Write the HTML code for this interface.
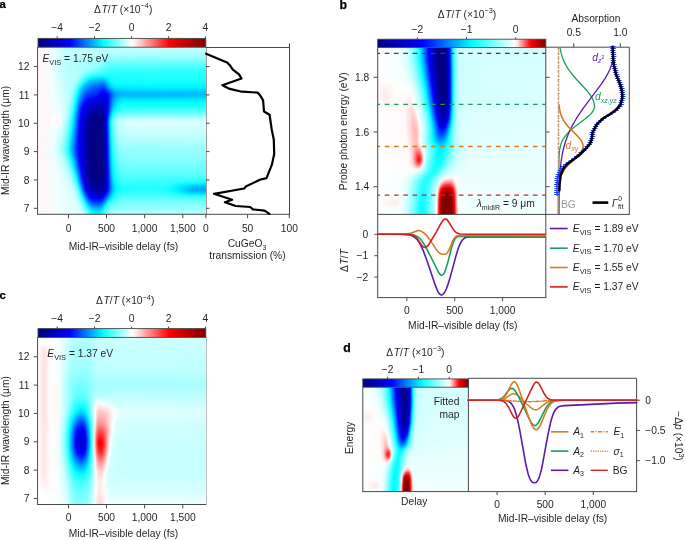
<!DOCTYPE html>
<html><head><meta charset="utf-8"><style>
html,body{margin:0;padding:0;background:#fff;overflow:hidden;}
svg{display:block;will-change:transform;}
text{font-family:"Liberation Sans",sans-serif;}
</style></head><body>
<svg width="685" height="540" viewBox="0 0 685 540">
<defs>
<linearGradient id="ha0" gradientUnits="userSpaceOnUse" x1="38" x2="206"><stop offset="0" stop-color="#fff9f9"/><stop offset=".03" stop-color="#fff6f6"/><stop offset=".077" stop-color="#f5ffff"/><stop offset=".161" stop-color="#c0ffff"/><stop offset="1" stop-color="#bfffff"/></linearGradient>
<linearGradient id="ha1" gradientUnits="userSpaceOnUse" x1="38" x2="206"><stop offset="0" stop-color="#fff9f9"/><stop offset=".03" stop-color="#fff6f6"/><stop offset=".077" stop-color="#f4ffff"/><stop offset=".161" stop-color="#c0ffff"/><stop offset="1" stop-color="#bcffff"/></linearGradient>
<linearGradient id="ha2" gradientUnits="userSpaceOnUse" x1="38" x2="206"><stop offset="0" stop-color="#fff9f9"/><stop offset=".03" stop-color="#fff6f6"/><stop offset=".077" stop-color="#f4ffff"/><stop offset=".161" stop-color="#bfffff"/><stop offset="1" stop-color="#b6ffff"/></linearGradient>
<linearGradient id="ha3" gradientUnits="userSpaceOnUse" x1="38" x2="206"><stop offset="0" stop-color="#fff9f9"/><stop offset=".03" stop-color="#fff6f6"/><stop offset=".077" stop-color="#f4ffff"/><stop offset=".161" stop-color="#beffff"/><stop offset=".589" stop-color="#aeffff"/><stop offset="1" stop-color="#aeffff"/></linearGradient>
<linearGradient id="ha4" gradientUnits="userSpaceOnUse" x1="38" x2="206"><stop offset="0" stop-color="#fff9f9"/><stop offset=".03" stop-color="#fff6f6"/><stop offset=".077" stop-color="#f4ffff"/><stop offset=".161" stop-color="#bdffff"/><stop offset=".357" stop-color="#acffff"/><stop offset=".458" stop-color="#98ffff"/><stop offset="1" stop-color="#98ffff"/></linearGradient>
<linearGradient id="ha5" gradientUnits="userSpaceOnUse" x1="38" x2="206"><stop offset="0" stop-color="#fff9f9"/><stop offset=".03" stop-color="#fff6f6"/><stop offset=".077" stop-color="#f4ffff"/><stop offset=".155" stop-color="#bdffff"/><stop offset=".345" stop-color="#a9ffff"/><stop offset=".435" stop-color="#7effff"/><stop offset="1" stop-color="#7dffff"/></linearGradient>
<linearGradient id="ha6" gradientUnits="userSpaceOnUse" x1="38" x2="206"><stop offset="0" stop-color="#fff9f9"/><stop offset=".03" stop-color="#fff6f6"/><stop offset=".077" stop-color="#f4ffff"/><stop offset=".155" stop-color="#bcffff"/><stop offset=".292" stop-color="#acffff"/><stop offset=".363" stop-color="#99ffff"/><stop offset=".423" stop-color="#67ffff"/><stop offset="1" stop-color="#64ffff"/></linearGradient>
<linearGradient id="ha7" gradientUnits="userSpaceOnUse" x1="38" x2="206"><stop offset="0" stop-color="#fff9f9"/><stop offset=".03" stop-color="#fff6f6"/><stop offset=".077" stop-color="#f3ffff"/><stop offset=".155" stop-color="#bbffff"/><stop offset=".28" stop-color="#acffff"/><stop offset=".363" stop-color="#8cffff"/><stop offset=".423" stop-color="#50ffff"/><stop offset="1" stop-color="#4cffff"/></linearGradient>
<linearGradient id="ha8" gradientUnits="userSpaceOnUse" x1="38" x2="206"><stop offset="0" stop-color="#fff9f9"/><stop offset=".03" stop-color="#fff6f6"/><stop offset=".077" stop-color="#f3ffff"/><stop offset=".155" stop-color="#bbffff"/><stop offset=".268" stop-color="#acffff"/><stop offset=".339" stop-color="#80ffff"/><stop offset=".393" stop-color="#54ffff"/><stop offset=".44" stop-color="#36ffff"/><stop offset="1" stop-color="#36ffff"/></linearGradient>
<linearGradient id="ha9" gradientUnits="userSpaceOnUse" x1="38" x2="206"><stop offset="0" stop-color="#fff9f9"/><stop offset=".03" stop-color="#fff6f6"/><stop offset=".077" stop-color="#f4ffff"/><stop offset=".155" stop-color="#bcffff"/><stop offset=".25" stop-color="#b0ffff"/><stop offset=".327" stop-color="#60ffff"/><stop offset=".423" stop-color="#2dffff"/><stop offset="1" stop-color="#2cffff"/></linearGradient>
<linearGradient id="ha10" gradientUnits="userSpaceOnUse" x1="38" x2="206"><stop offset="0" stop-color="#fff9f9"/><stop offset=".03" stop-color="#fff6f6"/><stop offset=".077" stop-color="#f4ffff"/><stop offset=".161" stop-color="#bdffff"/><stop offset=".238" stop-color="#b2ffff"/><stop offset=".268" stop-color="#8cffff"/><stop offset=".315" stop-color="#31ffff"/><stop offset=".381" stop-color="#11ffff"/><stop offset=".47" stop-color="#27ffff"/><stop offset="1" stop-color="#27ffff"/></linearGradient>
<linearGradient id="ha11" gradientUnits="userSpaceOnUse" x1="38" x2="206"><stop offset="0" stop-color="#fff9f9"/><stop offset=".03" stop-color="#fff6f6"/><stop offset=".077" stop-color="#f4ffff"/><stop offset=".161" stop-color="#bfffff"/><stop offset=".226" stop-color="#b5ffff"/><stop offset=".25" stop-color="#94ffff"/><stop offset=".298" stop-color="#0fffff"/><stop offset=".31" stop-color="#00f8ff"/><stop offset=".345" stop-color="#00e0ff"/><stop offset=".387" stop-color="#00d9ff"/><stop offset=".417" stop-color="#04ffff"/><stop offset=".446" stop-color="#1effff"/><stop offset="1" stop-color="#22ffff"/></linearGradient>
<linearGradient id="ha12" gradientUnits="userSpaceOnUse" x1="38" x2="206"><stop offset="0" stop-color="#fff9f9"/><stop offset=".03" stop-color="#fff6f6"/><stop offset=".077" stop-color="#f5ffff"/><stop offset=".161" stop-color="#c2ffff"/><stop offset=".214" stop-color="#b8ffff"/><stop offset=".238" stop-color="#93ffff"/><stop offset=".28" stop-color="#00feff"/><stop offset=".31" stop-color="#00c0ff"/><stop offset=".375" stop-color="#009cff"/><stop offset=".393" stop-color="#00a7ff"/><stop offset=".429" stop-color="#00faff"/><stop offset=".464" stop-color="#15ffff"/><stop offset="1" stop-color="#16ffff"/></linearGradient>
<linearGradient id="ha13" gradientUnits="userSpaceOnUse" x1="38" x2="206"><stop offset="0" stop-color="#fff9f9"/><stop offset=".03" stop-color="#fff6f6"/><stop offset=".083" stop-color="#f2ffff"/><stop offset=".161" stop-color="#c4ffff"/><stop offset=".208" stop-color="#b7ffff"/><stop offset=".226" stop-color="#97ffff"/><stop offset=".25" stop-color="#3bffff"/><stop offset=".262" stop-color="#05ffff"/><stop offset=".292" stop-color="#00acff"/><stop offset=".321" stop-color="#008bff"/><stop offset=".387" stop-color="#006bff"/><stop offset=".405" stop-color="#008eff"/><stop offset=".429" stop-color="#00dcff"/><stop offset=".452" stop-color="#00feff"/><stop offset="1" stop-color="#05ffff"/></linearGradient>
<linearGradient id="ha14" gradientUnits="userSpaceOnUse" x1="38" x2="206"><stop offset="0" stop-color="#fff9f9"/><stop offset=".03" stop-color="#fff6f6"/><stop offset=".083" stop-color="#f2ffff"/><stop offset=".161" stop-color="#c6ffff"/><stop offset=".202" stop-color="#b6ffff"/><stop offset=".22" stop-color="#8dffff"/><stop offset=".244" stop-color="#21ffff"/><stop offset=".25" stop-color="#02ffff"/><stop offset=".274" stop-color="#00abff"/><stop offset=".304" stop-color="#0078ff"/><stop offset=".363" stop-color="#0053ff"/><stop offset=".387" stop-color="#0040ff"/><stop offset=".399" stop-color="#004eff"/><stop offset=".435" stop-color="#00c7ff"/><stop offset=".458" stop-color="#00e8ff"/><stop offset=".625" stop-color="#00f1ff"/><stop offset="1" stop-color="#00f1ff"/></linearGradient>
<linearGradient id="ha15" gradientUnits="userSpaceOnUse" x1="38" x2="206"><stop offset="0" stop-color="#fff9f9"/><stop offset=".03" stop-color="#fff6f6"/><stop offset=".083" stop-color="#f3ffff"/><stop offset=".167" stop-color="#c8ffff"/><stop offset=".196" stop-color="#b6ffff"/><stop offset=".214" stop-color="#87ffff"/><stop offset=".238" stop-color="#10ffff"/><stop offset=".244" stop-color="#00f1ff"/><stop offset=".268" stop-color="#0099ff"/><stop offset=".298" stop-color="#0060ff"/><stop offset=".357" stop-color="#0038ff"/><stop offset=".387" stop-color="#0011ff"/><stop offset=".399" stop-color="#0017ff"/><stop offset=".417" stop-color="#004fff"/><stop offset=".44" stop-color="#00a1ff"/><stop offset=".464" stop-color="#00c5ff"/><stop offset=".53" stop-color="#00d3ff"/><stop offset="1" stop-color="#00d3ff"/></linearGradient>
<linearGradient id="ha16" gradientUnits="userSpaceOnUse" x1="38" x2="206"><stop offset="0" stop-color="#fff9f9"/><stop offset=".03" stop-color="#fff6f6"/><stop offset=".089" stop-color="#f1ffff"/><stop offset=".19" stop-color="#baffff"/><stop offset=".208" stop-color="#8cffff"/><stop offset=".232" stop-color="#14ffff"/><stop offset=".238" stop-color="#00f3ff"/><stop offset=".262" stop-color="#0090ff"/><stop offset=".286" stop-color="#0056ff"/><stop offset=".321" stop-color="#0034ff"/><stop offset=".351" stop-color="#0025ff"/><stop offset=".375" stop-color="#0000fc"/><stop offset=".399" stop-color="#0000f0"/><stop offset=".411" stop-color="#0000fe"/><stop offset=".44" stop-color="#006eff"/><stop offset=".464" stop-color="#009fff"/><stop offset=".506" stop-color="#00b8ff"/><stop offset="1" stop-color="#00b9ff"/></linearGradient>
<linearGradient id="ha17" gradientUnits="userSpaceOnUse" x1="38" x2="206"><stop offset="0" stop-color="#fff9f9"/><stop offset=".03" stop-color="#fff6f6"/><stop offset=".095" stop-color="#efffff"/><stop offset=".185" stop-color="#c0ffff"/><stop offset=".202" stop-color="#95ffff"/><stop offset=".22" stop-color="#43ffff"/><stop offset=".232" stop-color="#00feff"/><stop offset=".256" stop-color="#008cff"/><stop offset=".28" stop-color="#0046ff"/><stop offset=".31" stop-color="#001eff"/><stop offset=".363" stop-color="#0000fa"/><stop offset=".393" stop-color="#0000e1"/><stop offset=".411" stop-color="#0000f1"/><stop offset=".417" stop-color="#0000fe"/><stop offset=".44" stop-color="#0067ff"/><stop offset=".464" stop-color="#00a4ff"/><stop offset=".494" stop-color="#00c2ff"/><stop offset="1" stop-color="#00c8ff"/></linearGradient>
<linearGradient id="ha18" gradientUnits="userSpaceOnUse" x1="38" x2="206"><stop offset="0" stop-color="#fff9f9"/><stop offset=".03" stop-color="#fff6f6"/><stop offset=".095" stop-color="#f1ffff"/><stop offset=".179" stop-color="#c5ffff"/><stop offset=".196" stop-color="#9effff"/><stop offset=".214" stop-color="#53ffff"/><stop offset=".226" stop-color="#0dffff"/><stop offset=".232" stop-color="#00eaff"/><stop offset=".256" stop-color="#0072ff"/><stop offset=".28" stop-color="#0027ff"/><stop offset=".304" stop-color="#0000fe"/><stop offset=".375" stop-color="#0000dd"/><stop offset=".399" stop-color="#0000d9"/><stop offset=".417" stop-color="#0000fe"/><stop offset=".44" stop-color="#0079ff"/><stop offset=".458" stop-color="#00b2ff"/><stop offset=".482" stop-color="#00d9ff"/><stop offset=".53" stop-color="#00e8ff"/><stop offset="1" stop-color="#00e9ff"/></linearGradient>
<linearGradient id="ha19" gradientUnits="userSpaceOnUse" x1="38" x2="206"><stop offset="0" stop-color="#fff9f9"/><stop offset=".03" stop-color="#fff6f6"/><stop offset=".101" stop-color="#f0ffff"/><stop offset=".173" stop-color="#c9ffff"/><stop offset=".19" stop-color="#a7ffff"/><stop offset=".208" stop-color="#61ffff"/><stop offset=".22" stop-color="#1cffff"/><stop offset=".226" stop-color="#00f5ff"/><stop offset=".25" stop-color="#0070ff"/><stop offset=".268" stop-color="#0027ff"/><stop offset=".28" stop-color="#0005ff"/><stop offset=".333" stop-color="#0000dd"/><stop offset=".393" stop-color="#0000c9"/><stop offset=".411" stop-color="#0000eb"/><stop offset=".417" stop-color="#0000fe"/><stop offset=".435" stop-color="#006eff"/><stop offset=".452" stop-color="#00b7ff"/><stop offset=".476" stop-color="#00e9ff"/><stop offset=".512" stop-color="#00feff"/><stop offset="1" stop-color="#01ffff"/></linearGradient>
<linearGradient id="ha20" gradientUnits="userSpaceOnUse" x1="38" x2="206"><stop offset="0" stop-color="#fff9f9"/><stop offset=".036" stop-color="#fff8f8"/><stop offset=".125" stop-color="#e8ffff"/><stop offset=".173" stop-color="#c6ffff"/><stop offset=".19" stop-color="#9effff"/><stop offset=".208" stop-color="#4fffff"/><stop offset=".22" stop-color="#04ffff"/><stop offset=".25" stop-color="#0052ff"/><stop offset=".268" stop-color="#0007ff"/><stop offset=".315" stop-color="#0000cd"/><stop offset=".387" stop-color="#0000b6"/><stop offset=".405" stop-color="#0000d2"/><stop offset=".417" stop-color="#0000fc"/><stop offset=".435" stop-color="#0079ff"/><stop offset=".452" stop-color="#00c8ff"/><stop offset=".476" stop-color="#00fcff"/><stop offset=".518" stop-color="#16ffff"/><stop offset="1" stop-color="#17ffff"/></linearGradient>
<linearGradient id="ha21" gradientUnits="userSpaceOnUse" x1="38" x2="206"><stop offset="0" stop-color="#fff9f9"/><stop offset=".036" stop-color="#fff8f8"/><stop offset=".119" stop-color="#ecffff"/><stop offset=".167" stop-color="#ccffff"/><stop offset=".185" stop-color="#a8ffff"/><stop offset=".202" stop-color="#60ffff"/><stop offset=".214" stop-color="#17ffff"/><stop offset=".22" stop-color="#00efff"/><stop offset=".25" stop-color="#0036ff"/><stop offset=".262" stop-color="#0000ff"/><stop offset=".304" stop-color="#0000c3"/><stop offset=".363" stop-color="#0000a6"/><stop offset=".387" stop-color="#0000a8"/><stop offset=".405" stop-color="#0000cc"/><stop offset=".417" stop-color="#0000fd"/><stop offset=".435" stop-color="#0088ff"/><stop offset=".446" stop-color="#00c6ff"/><stop offset=".464" stop-color="#00fdff"/><stop offset=".494" stop-color="#28ffff"/><stop offset=".637" stop-color="#30ffff"/><stop offset="1" stop-color="#30ffff"/></linearGradient>
<linearGradient id="ha22" gradientUnits="userSpaceOnUse" x1="38" x2="206"><stop offset="0" stop-color="#fff9f9"/><stop offset=".042" stop-color="#fff8f8"/><stop offset=".131" stop-color="#e9ffff"/><stop offset=".167" stop-color="#c9ffff"/><stop offset=".185" stop-color="#a1ffff"/><stop offset=".202" stop-color="#52ffff"/><stop offset=".214" stop-color="#06ffff"/><stop offset=".25" stop-color="#0024ff"/><stop offset=".256" stop-color="#0007ff"/><stop offset=".286" stop-color="#0000cc"/><stop offset=".333" stop-color="#00009d"/><stop offset=".381" stop-color="#00009b"/><stop offset=".399" stop-color="#0000b9"/><stop offset=".411" stop-color="#0000e8"/><stop offset=".417" stop-color="#000bff"/><stop offset=".429" stop-color="#0076ff"/><stop offset=".44" stop-color="#00c7ff"/><stop offset=".452" stop-color="#00fbff"/><stop offset=".476" stop-color="#39ffff"/><stop offset=".506" stop-color="#50ffff"/><stop offset="1" stop-color="#54ffff"/></linearGradient>
<linearGradient id="ha23" gradientUnits="userSpaceOnUse" x1="38" x2="206"><stop offset="0" stop-color="#fff9f9"/><stop offset=".054" stop-color="#fff7f7"/><stop offset=".125" stop-color="#f3ffff"/><stop offset=".167" stop-color="#c3ffff"/><stop offset=".185" stop-color="#96ffff"/><stop offset=".202" stop-color="#42ffff"/><stop offset=".214" stop-color="#00f4ff"/><stop offset=".244" stop-color="#0038ff"/><stop offset=".256" stop-color="#0000fc"/><stop offset=".304" stop-color="#0000aa"/><stop offset=".345" stop-color="#000089"/><stop offset=".381" stop-color="#000095"/><stop offset=".399" stop-color="#0000bc"/><stop offset=".411" stop-color="#0000f1"/><stop offset=".417" stop-color="#0021ff"/><stop offset=".429" stop-color="#0094ff"/><stop offset=".44" stop-color="#00e8ff"/><stop offset=".446" stop-color="#07ffff"/><stop offset=".464" stop-color="#48ffff"/><stop offset=".488" stop-color="#6effff"/><stop offset=".548" stop-color="#7bffff"/><stop offset="1" stop-color="#7bffff"/></linearGradient>
<linearGradient id="ha24" gradientUnits="userSpaceOnUse" x1="38" x2="206"><stop offset="0" stop-color="#fff9f9"/><stop offset=".06" stop-color="#fff7f7"/><stop offset=".101" stop-color="#fffdfd"/><stop offset=".119" stop-color="#fff6f6"/><stop offset=".131" stop-color="#f6ffff"/><stop offset=".173" stop-color="#afffff"/><stop offset=".19" stop-color="#70ffff"/><stop offset=".208" stop-color="#0affff"/><stop offset=".22" stop-color="#00bdff"/><stop offset=".25" stop-color="#000bff"/><stop offset=".262" stop-color="#0000e8"/><stop offset=".315" stop-color="#00008e"/><stop offset=".339" stop-color="#000080"/><stop offset=".375" stop-color="#000088"/><stop offset=".393" stop-color="#0000ab"/><stop offset=".411" stop-color="#0000fc"/><stop offset=".429" stop-color="#00b7ff"/><stop offset=".435" stop-color="#00e7ff"/><stop offset=".44" stop-color="#11ffff"/><stop offset=".452" stop-color="#4effff"/><stop offset=".47" stop-color="#82ffff"/><stop offset=".5" stop-color="#a2ffff"/><stop offset=".899" stop-color="#a7ffff"/><stop offset="1" stop-color="#a7ffff"/></linearGradient>
<linearGradient id="ha25" gradientUnits="userSpaceOnUse" x1="38" x2="206"><stop offset="0" stop-color="#fff9f9"/><stop offset=".06" stop-color="#fff7f7"/><stop offset=".095" stop-color="#ffffff"/><stop offset=".119" stop-color="#ffebeb"/><stop offset=".131" stop-color="#fdffff"/><stop offset=".173" stop-color="#a5ffff"/><stop offset=".19" stop-color="#61ffff"/><stop offset=".208" stop-color="#00f8ff"/><stop offset=".244" stop-color="#001fff"/><stop offset=".25" stop-color="#0000ff"/><stop offset=".304" stop-color="#000094"/><stop offset=".321" stop-color="#000080"/><stop offset=".375" stop-color="#000080"/><stop offset=".393" stop-color="#0000ac"/><stop offset=".405" stop-color="#0000e3"/><stop offset=".411" stop-color="#000dff"/><stop offset=".423" stop-color="#009aff"/><stop offset=".429" stop-color="#00d7ff"/><stop offset=".435" stop-color="#0cffff"/><stop offset=".446" stop-color="#5cffff"/><stop offset=".464" stop-color="#9dffff"/><stop offset=".488" stop-color="#c3ffff"/><stop offset=".548" stop-color="#d0ffff"/><stop offset=".69" stop-color="#d5ffff"/><stop offset=".72" stop-color="#dcffff"/><stop offset=".786" stop-color="#d0ffff"/><stop offset="1" stop-color="#d0ffff"/></linearGradient>
<linearGradient id="ha26" gradientUnits="userSpaceOnUse" x1="38" x2="206"><stop offset="0" stop-color="#fff9f9"/><stop offset=".054" stop-color="#fff5f5"/><stop offset=".095" stop-color="#fdffff"/><stop offset=".119" stop-color="#fff3f3"/><stop offset=".131" stop-color="#f6ffff"/><stop offset=".173" stop-color="#9bffff"/><stop offset=".19" stop-color="#53ffff"/><stop offset=".202" stop-color="#0fffff"/><stop offset=".208" stop-color="#00e9ff"/><stop offset=".244" stop-color="#0016ff"/><stop offset=".25" stop-color="#0000fb"/><stop offset=".31" stop-color="#000084"/><stop offset=".375" stop-color="#000080"/><stop offset=".387" stop-color="#000096"/><stop offset=".405" stop-color="#0000e3"/><stop offset=".411" stop-color="#0010ff"/><stop offset=".423" stop-color="#00a0ff"/><stop offset=".429" stop-color="#00deff"/><stop offset=".435" stop-color="#15ffff"/><stop offset=".446" stop-color="#65ffff"/><stop offset=".464" stop-color="#a7ffff"/><stop offset=".488" stop-color="#cdffff"/><stop offset=".548" stop-color="#daffff"/><stop offset=".69" stop-color="#dfffff"/><stop offset=".72" stop-color="#e6ffff"/><stop offset=".786" stop-color="#daffff"/><stop offset="1" stop-color="#daffff"/></linearGradient>
<linearGradient id="ha27" gradientUnits="userSpaceOnUse" x1="38" x2="206"><stop offset="0" stop-color="#fff9f9"/><stop offset=".048" stop-color="#fff7f7"/><stop offset=".119" stop-color="#f8ffff"/><stop offset=".161" stop-color="#b1ffff"/><stop offset=".179" stop-color="#7bffff"/><stop offset=".196" stop-color="#23ffff"/><stop offset=".202" stop-color="#00feff"/><stop offset=".244" stop-color="#0010ff"/><stop offset=".25" stop-color="#0000f9"/><stop offset=".31" stop-color="#000084"/><stop offset=".381" stop-color="#000086"/><stop offset=".399" stop-color="#0000c2"/><stop offset=".405" stop-color="#0000e2"/><stop offset=".411" stop-color="#000dff"/><stop offset=".423" stop-color="#009cff"/><stop offset=".429" stop-color="#00daff"/><stop offset=".435" stop-color="#10ffff"/><stop offset=".446" stop-color="#61ffff"/><stop offset=".464" stop-color="#a2ffff"/><stop offset=".488" stop-color="#c9ffff"/><stop offset=".548" stop-color="#d5ffff"/><stop offset="1" stop-color="#d5ffff"/></linearGradient>
<linearGradient id="ha28" gradientUnits="userSpaceOnUse" x1="38" x2="206"><stop offset="0" stop-color="#fff9f9"/><stop offset=".036" stop-color="#fff7f7"/><stop offset=".107" stop-color="#efffff"/><stop offset=".143" stop-color="#ccffff"/><stop offset=".167" stop-color="#99ffff"/><stop offset=".185" stop-color="#54ffff"/><stop offset=".196" stop-color="#14ffff"/><stop offset=".202" stop-color="#00f1ff"/><stop offset=".244" stop-color="#000bff"/><stop offset=".256" stop-color="#0000ea"/><stop offset=".31" stop-color="#000084"/><stop offset=".381" stop-color="#000085"/><stop offset=".399" stop-color="#0000c1"/><stop offset=".411" stop-color="#000aff"/><stop offset=".423" stop-color="#0099ff"/><stop offset=".429" stop-color="#00d6ff"/><stop offset=".435" stop-color="#0bffff"/><stop offset=".446" stop-color="#5cffff"/><stop offset=".464" stop-color="#9dffff"/><stop offset=".488" stop-color="#c3ffff"/><stop offset=".548" stop-color="#d0ffff"/><stop offset="1" stop-color="#d0ffff"/></linearGradient>
<linearGradient id="ha29" gradientUnits="userSpaceOnUse" x1="38" x2="206"><stop offset="0" stop-color="#fff9f9"/><stop offset=".036" stop-color="#fff8f8"/><stop offset=".101" stop-color="#efffff"/><stop offset=".143" stop-color="#c6ffff"/><stop offset=".167" stop-color="#8effff"/><stop offset=".185" stop-color="#46ffff"/><stop offset=".196" stop-color="#05ffff"/><stop offset=".244" stop-color="#0007ff"/><stop offset=".298" stop-color="#000098"/><stop offset=".315" stop-color="#000080"/><stop offset=".381" stop-color="#000084"/><stop offset=".399" stop-color="#0000c0"/><stop offset=".411" stop-color="#0006ff"/><stop offset=".423" stop-color="#0094ff"/><stop offset=".429" stop-color="#00d1ff"/><stop offset=".435" stop-color="#05ffff"/><stop offset=".446" stop-color="#55ffff"/><stop offset=".464" stop-color="#96ffff"/><stop offset=".488" stop-color="#bcffff"/><stop offset=".548" stop-color="#c9ffff"/><stop offset="1" stop-color="#c9ffff"/></linearGradient>
<linearGradient id="ha30" gradientUnits="userSpaceOnUse" x1="38" x2="206"><stop offset="0" stop-color="#fff9f9"/><stop offset=".03" stop-color="#fff6f6"/><stop offset=".095" stop-color="#f0ffff"/><stop offset=".137" stop-color="#caffff"/><stop offset=".161" stop-color="#97ffff"/><stop offset=".179" stop-color="#54ffff"/><stop offset=".196" stop-color="#00f7ff"/><stop offset=".238" stop-color="#001dff"/><stop offset=".244" stop-color="#0002ff"/><stop offset=".31" stop-color="#000084"/><stop offset=".381" stop-color="#000083"/><stop offset=".399" stop-color="#0000be"/><stop offset=".411" stop-color="#0002ff"/><stop offset=".423" stop-color="#008fff"/><stop offset=".435" stop-color="#00feff"/><stop offset=".446" stop-color="#4effff"/><stop offset=".464" stop-color="#8fffff"/><stop offset=".488" stop-color="#b5ffff"/><stop offset=".548" stop-color="#c2ffff"/><stop offset="1" stop-color="#c2ffff"/></linearGradient>
<linearGradient id="ha31" gradientUnits="userSpaceOnUse" x1="38" x2="206"><stop offset="0" stop-color="#fff9f9"/><stop offset=".03" stop-color="#fff6f6"/><stop offset=".095" stop-color="#efffff"/><stop offset=".137" stop-color="#c5ffff"/><stop offset=".161" stop-color="#8dffff"/><stop offset=".185" stop-color="#2affff"/><stop offset=".19" stop-color="#0affff"/><stop offset=".202" stop-color="#00cbff"/><stop offset=".238" stop-color="#0018ff"/><stop offset=".244" stop-color="#0000fe"/><stop offset=".31" stop-color="#000084"/><stop offset=".381" stop-color="#000082"/><stop offset=".399" stop-color="#0000bc"/><stop offset=".411" stop-color="#0000fe"/><stop offset=".429" stop-color="#00c6ff"/><stop offset=".435" stop-color="#00f8ff"/><stop offset=".452" stop-color="#62ffff"/><stop offset=".47" stop-color="#95ffff"/><stop offset=".5" stop-color="#b5ffff"/><stop offset="1" stop-color="#bbffff"/></linearGradient>
<linearGradient id="ha32" gradientUnits="userSpaceOnUse" x1="38" x2="206"><stop offset="0" stop-color="#fff9f9"/><stop offset=".03" stop-color="#fff6f6"/><stop offset=".095" stop-color="#edffff"/><stop offset=".131" stop-color="#c9ffff"/><stop offset=".155" stop-color="#95ffff"/><stop offset=".179" stop-color="#3affff"/><stop offset=".19" stop-color="#00fcff"/><stop offset=".232" stop-color="#002dff"/><stop offset=".244" stop-color="#0000fc"/><stop offset=".31" stop-color="#000084"/><stop offset=".381" stop-color="#000080"/><stop offset=".399" stop-color="#0000ba"/><stop offset=".411" stop-color="#0000fb"/><stop offset=".429" stop-color="#00bfff"/><stop offset=".435" stop-color="#00f1ff"/><stop offset=".44" stop-color="#1dffff"/><stop offset=".452" stop-color="#5affff"/><stop offset=".47" stop-color="#8dffff"/><stop offset=".5" stop-color="#adffff"/><stop offset="1" stop-color="#b2ffff"/></linearGradient>
<linearGradient id="ha33" gradientUnits="userSpaceOnUse" x1="38" x2="206"><stop offset="0" stop-color="#fff9f9"/><stop offset=".03" stop-color="#fff6f6"/><stop offset=".095" stop-color="#ecffff"/><stop offset=".131" stop-color="#c3ffff"/><stop offset=".155" stop-color="#8bffff"/><stop offset=".179" stop-color="#2dffff"/><stop offset=".185" stop-color="#0fffff"/><stop offset=".19" stop-color="#00f0ff"/><stop offset=".232" stop-color="#0028ff"/><stop offset=".244" stop-color="#0000fb"/><stop offset=".31" stop-color="#000084"/><stop offset=".381" stop-color="#000080"/><stop offset=".399" stop-color="#0000b7"/><stop offset=".411" stop-color="#0000f8"/><stop offset=".429" stop-color="#00b8ff"/><stop offset=".435" stop-color="#00e9ff"/><stop offset=".44" stop-color="#13ffff"/><stop offset=".452" stop-color="#50ffff"/><stop offset=".47" stop-color="#84ffff"/><stop offset=".5" stop-color="#a4ffff"/><stop offset="1" stop-color="#a9ffff"/></linearGradient>
<linearGradient id="ha34" gradientUnits="userSpaceOnUse" x1="38" x2="206"><stop offset="0" stop-color="#fff9f9"/><stop offset=".03" stop-color="#fff7f7"/><stop offset=".089" stop-color="#eeffff"/><stop offset=".125" stop-color="#c8ffff"/><stop offset=".149" stop-color="#94ffff"/><stop offset=".173" stop-color="#3cffff"/><stop offset=".185" stop-color="#02ffff"/><stop offset=".232" stop-color="#0023ff"/><stop offset=".238" stop-color="#000cff"/><stop offset=".25" stop-color="#0000ee"/><stop offset=".31" stop-color="#000084"/><stop offset=".381" stop-color="#000080"/><stop offset=".393" stop-color="#00009d"/><stop offset=".411" stop-color="#0000f5"/><stop offset=".417" stop-color="#0032ff"/><stop offset=".429" stop-color="#00b0ff"/><stop offset=".435" stop-color="#00e1ff"/><stop offset=".44" stop-color="#0affff"/><stop offset=".452" stop-color="#47ffff"/><stop offset=".47" stop-color="#7affff"/><stop offset=".5" stop-color="#9affff"/><stop offset="1" stop-color="#9fffff"/></linearGradient>
<linearGradient id="ha35" gradientUnits="userSpaceOnUse" x1="38" x2="206"><stop offset="0" stop-color="#fff9f9"/><stop offset=".03" stop-color="#fff7f7"/><stop offset=".089" stop-color="#edffff"/><stop offset=".125" stop-color="#c7ffff"/><stop offset=".149" stop-color="#92ffff"/><stop offset=".173" stop-color="#3affff"/><stop offset=".185" stop-color="#01ffff"/><stop offset=".232" stop-color="#0023ff"/><stop offset=".244" stop-color="#0000f9"/><stop offset=".31" stop-color="#000084"/><stop offset=".381" stop-color="#000080"/><stop offset=".393" stop-color="#00009b"/><stop offset=".411" stop-color="#0000f2"/><stop offset=".417" stop-color="#002dff"/><stop offset=".429" stop-color="#00aaff"/><stop offset=".435" stop-color="#00dbff"/><stop offset=".44" stop-color="#02ffff"/><stop offset=".452" stop-color="#3fffff"/><stop offset=".47" stop-color="#72ffff"/><stop offset=".5" stop-color="#92ffff"/><stop offset="1" stop-color="#97ffff"/></linearGradient>
<linearGradient id="ha36" gradientUnits="userSpaceOnUse" x1="38" x2="206"><stop offset="0" stop-color="#fff9f9"/><stop offset=".03" stop-color="#fff6f6"/><stop offset=".095" stop-color="#ecffff"/><stop offset=".131" stop-color="#c5ffff"/><stop offset=".155" stop-color="#8fffff"/><stop offset=".179" stop-color="#33ffff"/><stop offset=".19" stop-color="#00f7ff"/><stop offset=".238" stop-color="#0014ff"/><stop offset=".244" stop-color="#0000fd"/><stop offset=".31" stop-color="#000084"/><stop offset=".381" stop-color="#000080"/><stop offset=".393" stop-color="#00009a"/><stop offset=".411" stop-color="#0000f1"/><stop offset=".417" stop-color="#002aff"/><stop offset=".429" stop-color="#00a6ff"/><stop offset=".44" stop-color="#00fdff"/><stop offset=".458" stop-color="#4fffff"/><stop offset=".482" stop-color="#7fffff"/><stop offset=".524" stop-color="#91ffff"/><stop offset="1" stop-color="#92ffff"/></linearGradient>
<linearGradient id="ha37" gradientUnits="userSpaceOnUse" x1="38" x2="206"><stop offset="0" stop-color="#fff9f9"/><stop offset=".03" stop-color="#fff6f6"/><stop offset=".101" stop-color="#ebffff"/><stop offset=".137" stop-color="#c5ffff"/><stop offset=".161" stop-color="#8fffff"/><stop offset=".185" stop-color="#31ffff"/><stop offset=".19" stop-color="#12ffff"/><stop offset=".196" stop-color="#00f2ff"/><stop offset=".238" stop-color="#001fff"/><stop offset=".244" stop-color="#0005ff"/><stop offset=".31" stop-color="#000085"/><stop offset=".381" stop-color="#000080"/><stop offset=".393" stop-color="#000099"/><stop offset=".411" stop-color="#0000f0"/><stop offset=".417" stop-color="#0027ff"/><stop offset=".429" stop-color="#00a3ff"/><stop offset=".44" stop-color="#00f9ff"/><stop offset=".458" stop-color="#4affff"/><stop offset=".482" stop-color="#7affff"/><stop offset=".524" stop-color="#8cffff"/><stop offset="1" stop-color="#8dffff"/></linearGradient>
<linearGradient id="ha38" gradientUnits="userSpaceOnUse" x1="38" x2="206"><stop offset="0" stop-color="#fff9f9"/><stop offset=".03" stop-color="#fff6f6"/><stop offset=".095" stop-color="#f1ffff"/><stop offset=".137" stop-color="#ceffff"/><stop offset=".161" stop-color="#a1ffff"/><stop offset=".179" stop-color="#65ffff"/><stop offset=".196" stop-color="#0dffff"/><stop offset=".202" stop-color="#00ecff"/><stop offset=".244" stop-color="#0010ff"/><stop offset=".25" stop-color="#0000f9"/><stop offset=".31" stop-color="#000085"/><stop offset=".381" stop-color="#000080"/><stop offset=".393" stop-color="#000098"/><stop offset=".411" stop-color="#0000ee"/><stop offset=".417" stop-color="#0024ff"/><stop offset=".429" stop-color="#009fff"/><stop offset=".44" stop-color="#00f5ff"/><stop offset=".452" stop-color="#30ffff"/><stop offset=".47" stop-color="#62ffff"/><stop offset=".5" stop-color="#82ffff"/><stop offset="1" stop-color="#88ffff"/></linearGradient>
<linearGradient id="ha39" gradientUnits="userSpaceOnUse" x1="38" x2="206"><stop offset="0" stop-color="#fff9f9"/><stop offset=".03" stop-color="#fff6f6"/><stop offset=".095" stop-color="#f3ffff"/><stop offset=".143" stop-color="#cfffff"/><stop offset=".167" stop-color="#a2ffff"/><stop offset=".185" stop-color="#65ffff"/><stop offset=".202" stop-color="#08ffff"/><stop offset=".214" stop-color="#00c4ff"/><stop offset=".25" stop-color="#0000ff"/><stop offset=".31" stop-color="#000085"/><stop offset=".387" stop-color="#000085"/><stop offset=".405" stop-color="#0000cb"/><stop offset=".411" stop-color="#0000ec"/><stop offset=".417" stop-color="#001fff"/><stop offset=".429" stop-color="#0099ff"/><stop offset=".44" stop-color="#00eeff"/><stop offset=".446" stop-color="#0effff"/><stop offset=".464" stop-color="#4dffff"/><stop offset=".488" stop-color="#73ffff"/><stop offset=".548" stop-color="#7fffff"/><stop offset="1" stop-color="#7fffff"/></linearGradient>
<linearGradient id="ha40" gradientUnits="userSpaceOnUse" x1="38" x2="206"><stop offset="0" stop-color="#fff9f9"/><stop offset=".03" stop-color="#fff6f6"/><stop offset=".101" stop-color="#f2ffff"/><stop offset=".149" stop-color="#d0ffff"/><stop offset=".173" stop-color="#a3ffff"/><stop offset=".19" stop-color="#64ffff"/><stop offset=".208" stop-color="#02ffff"/><stop offset=".25" stop-color="#000cff"/><stop offset=".262" stop-color="#0000e7"/><stop offset=".31" stop-color="#000085"/><stop offset=".387" stop-color="#000083"/><stop offset=".405" stop-color="#0000c8"/><stop offset=".411" stop-color="#0000e9"/><stop offset=".417" stop-color="#0019ff"/><stop offset=".429" stop-color="#0092ff"/><stop offset=".44" stop-color="#00e6ff"/><stop offset=".446" stop-color="#05ffff"/><stop offset=".464" stop-color="#44ffff"/><stop offset=".488" stop-color="#69ffff"/><stop offset=".548" stop-color="#76ffff"/><stop offset="1" stop-color="#76ffff"/></linearGradient>
<linearGradient id="ha41" gradientUnits="userSpaceOnUse" x1="38" x2="206"><stop offset="0" stop-color="#fff9f9"/><stop offset=".03" stop-color="#fff6f6"/><stop offset=".101" stop-color="#f3ffff"/><stop offset=".155" stop-color="#d0ffff"/><stop offset=".179" stop-color="#a5ffff"/><stop offset=".196" stop-color="#62ffff"/><stop offset=".214" stop-color="#00faff"/><stop offset=".25" stop-color="#001aff"/><stop offset=".256" stop-color="#0000fb"/><stop offset=".304" stop-color="#000090"/><stop offset=".321" stop-color="#000080"/><stop offset=".387" stop-color="#000082"/><stop offset=".405" stop-color="#0000c6"/><stop offset=".411" stop-color="#0000e6"/><stop offset=".417" stop-color="#0013ff"/><stop offset=".429" stop-color="#008aff"/><stop offset=".44" stop-color="#00deff"/><stop offset=".446" stop-color="#00fbff"/><stop offset=".464" stop-color="#3affff"/><stop offset=".488" stop-color="#60ffff"/><stop offset=".548" stop-color="#6cffff"/><stop offset="1" stop-color="#6cffff"/></linearGradient>
<linearGradient id="ha42" gradientUnits="userSpaceOnUse" x1="38" x2="206"><stop offset="0" stop-color="#fff9f9"/><stop offset=".03" stop-color="#fff6f6"/><stop offset=".101" stop-color="#f4ffff"/><stop offset=".161" stop-color="#d1ffff"/><stop offset=".185" stop-color="#a6ffff"/><stop offset=".202" stop-color="#61ffff"/><stop offset=".214" stop-color="#1bffff"/><stop offset=".22" stop-color="#00f3ff"/><stop offset=".256" stop-color="#0008ff"/><stop offset=".28" stop-color="#0000c3"/><stop offset=".315" stop-color="#000080"/><stop offset=".387" stop-color="#000081"/><stop offset=".405" stop-color="#0000c4"/><stop offset=".411" stop-color="#0000e4"/><stop offset=".417" stop-color="#000dff"/><stop offset=".429" stop-color="#0084ff"/><stop offset=".44" stop-color="#00d6ff"/><stop offset=".446" stop-color="#00f3ff"/><stop offset=".458" stop-color="#21ffff"/><stop offset=".482" stop-color="#50ffff"/><stop offset=".524" stop-color="#63ffff"/><stop offset="1" stop-color="#63ffff"/></linearGradient>
<linearGradient id="ha43" gradientUnits="userSpaceOnUse" x1="38" x2="206"><stop offset="0" stop-color="#fff9f9"/><stop offset=".03" stop-color="#fff6f6"/><stop offset=".107" stop-color="#f2ffff"/><stop offset=".167" stop-color="#d3ffff"/><stop offset=".19" stop-color="#a7ffff"/><stop offset=".208" stop-color="#5fffff"/><stop offset=".22" stop-color="#15ffff"/><stop offset=".226" stop-color="#00ecff"/><stop offset=".256" stop-color="#001cff"/><stop offset=".262" stop-color="#0000fa"/><stop offset=".298" stop-color="#0000a2"/><stop offset=".321" stop-color="#000080"/><stop offset=".387" stop-color="#000084"/><stop offset=".405" stop-color="#0000c4"/><stop offset=".417" stop-color="#000aff"/><stop offset=".429" stop-color="#007eff"/><stop offset=".44" stop-color="#00cfff"/><stop offset=".452" stop-color="#03ffff"/><stop offset=".47" stop-color="#35ffff"/><stop offset=".5" stop-color="#55ffff"/><stop offset="1" stop-color="#59ffff"/></linearGradient>
<linearGradient id="ha44" gradientUnits="userSpaceOnUse" x1="38" x2="206"><stop offset="0" stop-color="#fff9f9"/><stop offset=".03" stop-color="#fff6f6"/><stop offset=".107" stop-color="#f2ffff"/><stop offset=".173" stop-color="#d4ffff"/><stop offset=".196" stop-color="#a8ffff"/><stop offset=".214" stop-color="#5dffff"/><stop offset=".226" stop-color="#0fffff"/><stop offset=".232" stop-color="#00e4ff"/><stop offset=".262" stop-color="#000cff"/><stop offset=".274" stop-color="#0000e1"/><stop offset=".31" stop-color="#000094"/><stop offset=".333" stop-color="#000080"/><stop offset=".381" stop-color="#000080"/><stop offset=".399" stop-color="#0000ab"/><stop offset=".417" stop-color="#0008ff"/><stop offset=".429" stop-color="#0078ff"/><stop offset=".44" stop-color="#00c7ff"/><stop offset=".452" stop-color="#00faff"/><stop offset=".476" stop-color="#36ffff"/><stop offset=".512" stop-color="#4fffff"/><stop offset="1" stop-color="#4affff"/></linearGradient>
<linearGradient id="ha45" gradientUnits="userSpaceOnUse" x1="38" x2="206"><stop offset="0" stop-color="#fff9f9"/><stop offset=".03" stop-color="#fff6f6"/><stop offset=".107" stop-color="#f3ffff"/><stop offset=".179" stop-color="#d5ffff"/><stop offset=".196" stop-color="#b9ffff"/><stop offset=".214" stop-color="#7affff"/><stop offset=".232" stop-color="#08ffff"/><stop offset=".244" stop-color="#00adff"/><stop offset=".262" stop-color="#0025ff"/><stop offset=".268" stop-color="#0000fd"/><stop offset=".298" stop-color="#0000b1"/><stop offset=".333" stop-color="#000083"/><stop offset=".381" stop-color="#000085"/><stop offset=".399" stop-color="#0000ad"/><stop offset=".417" stop-color="#0003ff"/><stop offset=".429" stop-color="#0070ff"/><stop offset=".44" stop-color="#00beff"/><stop offset=".452" stop-color="#00efff"/><stop offset=".458" stop-color="#02ffff"/><stop offset=".482" stop-color="#32ffff"/><stop offset=".524" stop-color="#44ffff"/><stop offset=".81" stop-color="#3cffff"/><stop offset="1" stop-color="#2bffff"/></linearGradient>
<linearGradient id="ha46" gradientUnits="userSpaceOnUse" x1="38" x2="206"><stop offset="0" stop-color="#fff9f9"/><stop offset=".03" stop-color="#fff6f6"/><stop offset=".107" stop-color="#f3ffff"/><stop offset=".185" stop-color="#d7ffff"/><stop offset=".202" stop-color="#bbffff"/><stop offset=".22" stop-color="#7affff"/><stop offset=".232" stop-color="#30ffff"/><stop offset=".238" stop-color="#01ffff"/><stop offset=".268" stop-color="#0017ff"/><stop offset=".274" stop-color="#0000f6"/><stop offset=".304" stop-color="#0000af"/><stop offset=".339" stop-color="#00008a"/><stop offset=".375" stop-color="#000088"/><stop offset=".393" stop-color="#00009e"/><stop offset=".411" stop-color="#0000e1"/><stop offset=".417" stop-color="#0000fe"/><stop offset=".429" stop-color="#0067ff"/><stop offset=".44" stop-color="#00b3ff"/><stop offset=".458" stop-color="#00f5ff"/><stop offset=".47" stop-color="#12ffff"/><stop offset=".5" stop-color="#32ffff"/><stop offset=".768" stop-color="#31ffff"/><stop offset=".905" stop-color="#00fbff"/><stop offset="1" stop-color="#00f4ff"/></linearGradient>
<linearGradient id="ha47" gradientUnits="userSpaceOnUse" x1="38" x2="206"><stop offset="0" stop-color="#fff9f9"/><stop offset=".03" stop-color="#fff6f6"/><stop offset=".107" stop-color="#f3ffff"/><stop offset=".19" stop-color="#d8ffff"/><stop offset=".208" stop-color="#bcffff"/><stop offset=".22" stop-color="#96ffff"/><stop offset=".232" stop-color="#56ffff"/><stop offset=".244" stop-color="#00faff"/><stop offset=".274" stop-color="#000aff"/><stop offset=".286" stop-color="#0000df"/><stop offset=".315" stop-color="#0000a8"/><stop offset=".363" stop-color="#00008f"/><stop offset=".387" stop-color="#000098"/><stop offset=".405" stop-color="#0000c7"/><stop offset=".417" stop-color="#0000fd"/><stop offset=".435" stop-color="#0089ff"/><stop offset=".452" stop-color="#00daff"/><stop offset=".464" stop-color="#00f9ff"/><stop offset=".5" stop-color="#26ffff"/><stop offset=".756" stop-color="#25ffff"/><stop offset=".827" stop-color="#00f9ff"/><stop offset=".929" stop-color="#00c0ff"/><stop offset="1" stop-color="#00bcff"/></linearGradient>
<linearGradient id="ha48" gradientUnits="userSpaceOnUse" x1="38" x2="206"><stop offset="0" stop-color="#fff9f9"/><stop offset=".03" stop-color="#fff6f6"/><stop offset=".107" stop-color="#f3ffff"/><stop offset=".196" stop-color="#d9ffff"/><stop offset=".214" stop-color="#beffff"/><stop offset=".226" stop-color="#97ffff"/><stop offset=".238" stop-color="#55ffff"/><stop offset=".25" stop-color="#00f5ff"/><stop offset=".274" stop-color="#002dff"/><stop offset=".28" stop-color="#0003ff"/><stop offset=".304" stop-color="#0000c5"/><stop offset=".339" stop-color="#0000a4"/><stop offset=".381" stop-color="#00009e"/><stop offset=".399" stop-color="#0000ba"/><stop offset=".417" stop-color="#0003ff"/><stop offset=".429" stop-color="#0062ff"/><stop offset=".44" stop-color="#00a7ff"/><stop offset=".458" stop-color="#00e7ff"/><stop offset=".47" stop-color="#01ffff"/><stop offset=".5" stop-color="#21ffff"/><stop offset=".75" stop-color="#21ffff"/><stop offset=".81" stop-color="#00f9ff"/><stop offset=".917" stop-color="#00aaff"/><stop offset="1" stop-color="#00a1ff"/></linearGradient>
<linearGradient id="ha49" gradientUnits="userSpaceOnUse" x1="38" x2="206"><stop offset="0" stop-color="#fff9f9"/><stop offset=".03" stop-color="#fff6f6"/><stop offset=".107" stop-color="#f3ffff"/><stop offset=".202" stop-color="#d9ffff"/><stop offset=".22" stop-color="#beffff"/><stop offset=".232" stop-color="#97ffff"/><stop offset=".244" stop-color="#56ffff"/><stop offset=".256" stop-color="#00f7ff"/><stop offset=".28" stop-color="#0037ff"/><stop offset=".286" stop-color="#000fff"/><stop offset=".292" stop-color="#0000f6"/><stop offset=".315" stop-color="#0000cb"/><stop offset=".363" stop-color="#0000b4"/><stop offset=".387" stop-color="#0000bd"/><stop offset=".405" stop-color="#0000ea"/><stop offset=".411" stop-color="#0003ff"/><stop offset=".429" stop-color="#0084ff"/><stop offset=".446" stop-color="#00d4ff"/><stop offset=".464" stop-color="#05ffff"/><stop offset=".494" stop-color="#2cffff"/><stop offset=".649" stop-color="#34ffff"/><stop offset=".762" stop-color="#2cffff"/><stop offset=".839" stop-color="#00f9ff"/><stop offset=".929" stop-color="#00c7ff"/><stop offset="1" stop-color="#00c4ff"/></linearGradient>
<linearGradient id="ha50" gradientUnits="userSpaceOnUse" x1="38" x2="206"><stop offset="0" stop-color="#fff9f9"/><stop offset=".03" stop-color="#fff6f6"/><stop offset=".107" stop-color="#f3ffff"/><stop offset=".208" stop-color="#d9ffff"/><stop offset=".226" stop-color="#bfffff"/><stop offset=".238" stop-color="#99ffff"/><stop offset=".25" stop-color="#5affff"/><stop offset=".262" stop-color="#00feff"/><stop offset=".286" stop-color="#004bff"/><stop offset=".298" stop-color="#000aff"/><stop offset=".31" stop-color="#0000ee"/><stop offset=".345" stop-color="#0000d4"/><stop offset=".381" stop-color="#0000d8"/><stop offset=".399" stop-color="#0000fb"/><stop offset=".411" stop-color="#0047ff"/><stop offset=".429" stop-color="#00b1ff"/><stop offset=".446" stop-color="#00f1ff"/><stop offset=".452" stop-color="#02ffff"/><stop offset=".476" stop-color="#32ffff"/><stop offset=".512" stop-color="#49ffff"/><stop offset=".768" stop-color="#45ffff"/><stop offset=".94" stop-color="#09ffff"/><stop offset="1" stop-color="#09ffff"/></linearGradient>
<linearGradient id="ha51" gradientUnits="userSpaceOnUse" x1="38" x2="206"><stop offset="0" stop-color="#fff9f9"/><stop offset=".03" stop-color="#fff6f6"/><stop offset=".107" stop-color="#f3ffff"/><stop offset=".214" stop-color="#daffff"/><stop offset=".232" stop-color="#c0ffff"/><stop offset=".25" stop-color="#81ffff"/><stop offset=".268" stop-color="#0affff"/><stop offset=".28" stop-color="#00b2ff"/><stop offset=".298" stop-color="#0044ff"/><stop offset=".315" stop-color="#0005ff"/><stop offset=".363" stop-color="#0000ee"/><stop offset=".387" stop-color="#0008ff"/><stop offset=".405" stop-color="#0066ff"/><stop offset=".423" stop-color="#00c8ff"/><stop offset=".44" stop-color="#03ffff"/><stop offset=".47" stop-color="#43ffff"/><stop offset=".506" stop-color="#5effff"/><stop offset=".804" stop-color="#5affff"/><stop offset=".994" stop-color="#47ffff"/><stop offset="1" stop-color="#47ffff"/></linearGradient>
<linearGradient id="ha52" gradientUnits="userSpaceOnUse" x1="38" x2="206"><stop offset="0" stop-color="#fff9f9"/><stop offset=".03" stop-color="#fff6f6"/><stop offset=".107" stop-color="#f3ffff"/><stop offset=".22" stop-color="#dbffff"/><stop offset=".238" stop-color="#c3ffff"/><stop offset=".256" stop-color="#88ffff"/><stop offset=".274" stop-color="#1affff"/><stop offset=".28" stop-color="#00efff"/><stop offset=".298" stop-color="#0082ff"/><stop offset=".315" stop-color="#003eff"/><stop offset=".339" stop-color="#001cff"/><stop offset=".363" stop-color="#001aff"/><stop offset=".381" stop-color="#0039ff"/><stop offset=".399" stop-color="#008cff"/><stop offset=".417" stop-color="#00e9ff"/><stop offset=".423" stop-color="#00ffff"/><stop offset=".446" stop-color="#3bffff"/><stop offset=".482" stop-color="#69ffff"/><stop offset=".554" stop-color="#75ffff"/><stop offset="1" stop-color="#6effff"/></linearGradient>
<linearGradient id="ha53" gradientUnits="userSpaceOnUse" x1="38" x2="206"><stop offset="0" stop-color="#fff9f9"/><stop offset=".03" stop-color="#fff6f6"/><stop offset=".107" stop-color="#f3ffff"/><stop offset=".226" stop-color="#dcffff"/><stop offset=".25" stop-color="#baffff"/><stop offset=".268" stop-color="#75ffff"/><stop offset=".286" stop-color="#08ffff"/><stop offset=".31" stop-color="#0090ff"/><stop offset=".327" stop-color="#0066ff"/><stop offset=".357" stop-color="#0057ff"/><stop offset=".375" stop-color="#006dff"/><stop offset=".393" stop-color="#00b4ff"/><stop offset=".405" stop-color="#00f2ff"/><stop offset=".411" stop-color="#0fffff"/><stop offset=".429" stop-color="#47ffff"/><stop offset=".47" stop-color="#78ffff"/><stop offset=".536" stop-color="#86ffff"/><stop offset="1" stop-color="#85ffff"/></linearGradient>
<linearGradient id="ha54" gradientUnits="userSpaceOnUse" x1="38" x2="206"><stop offset="0" stop-color="#fff9f9"/><stop offset=".03" stop-color="#fff6f6"/><stop offset=".107" stop-color="#f3ffff"/><stop offset=".232" stop-color="#deffff"/><stop offset=".256" stop-color="#bfffff"/><stop offset=".274" stop-color="#81ffff"/><stop offset=".298" stop-color="#04ffff"/><stop offset=".315" stop-color="#00c0ff"/><stop offset=".333" stop-color="#00a0ff"/><stop offset=".363" stop-color="#009aff"/><stop offset=".381" stop-color="#00bfff"/><stop offset=".393" stop-color="#00f0ff"/><stop offset=".399" stop-color="#0fffff"/><stop offset=".417" stop-color="#59ffff"/><stop offset=".44" stop-color="#7dffff"/><stop offset=".5" stop-color="#93ffff"/><stop offset="1" stop-color="#94ffff"/></linearGradient>
<linearGradient id="ha55" gradientUnits="userSpaceOnUse" x1="38" x2="206"><stop offset="0" stop-color="#fff9f9"/><stop offset=".03" stop-color="#fff6f6"/><stop offset=".107" stop-color="#f3ffff"/><stop offset=".244" stop-color="#daffff"/><stop offset=".268" stop-color="#b3ffff"/><stop offset=".292" stop-color="#58ffff"/><stop offset=".31" stop-color="#0cffff"/><stop offset=".321" stop-color="#00eaff"/><stop offset=".345" stop-color="#00d0ff"/><stop offset=".369" stop-color="#00d8ff"/><stop offset=".381" stop-color="#00f3ff"/><stop offset=".387" stop-color="#09ffff"/><stop offset=".411" stop-color="#6effff"/><stop offset=".429" stop-color="#90ffff"/><stop offset=".488" stop-color="#a1ffff"/><stop offset="1" stop-color="#a1ffff"/></linearGradient>
<linearGradient id="ha56" gradientUnits="userSpaceOnUse" x1="38" x2="206"><stop offset="0" stop-color="#fff9f9"/><stop offset=".03" stop-color="#fff6f6"/><stop offset=".107" stop-color="#f3ffff"/><stop offset=".25" stop-color="#dbffff"/><stop offset=".274" stop-color="#b5ffff"/><stop offset=".315" stop-color="#25ffff"/><stop offset=".333" stop-color="#02ffff"/><stop offset=".363" stop-color="#00f9ff"/><stop offset=".375" stop-color="#0bffff"/><stop offset=".411" stop-color="#86ffff"/><stop offset=".429" stop-color="#a1ffff"/><stop offset=".518" stop-color="#acffff"/><stop offset="1" stop-color="#acffff"/></linearGradient>
<linearGradient id="ha57" gradientUnits="userSpaceOnUse" x1="38" x2="206"><stop offset="0" stop-color="#fff9f9"/><stop offset=".03" stop-color="#fff6f6"/><stop offset=".107" stop-color="#f3ffff"/><stop offset=".25" stop-color="#dcffff"/><stop offset=".274" stop-color="#bbffff"/><stop offset=".321" stop-color="#24ffff"/><stop offset=".345" stop-color="#05ffff"/><stop offset=".369" stop-color="#0dffff"/><stop offset=".387" stop-color="#3bffff"/><stop offset=".411" stop-color="#8cffff"/><stop offset=".435" stop-color="#a9ffff"/><stop offset="1" stop-color="#afffff"/></linearGradient>
<clipPath id="clipha"><rect x="38.00" y="47.20" width="168.00" height="167.00"/></clipPath>
<filter id="blha" x="-0.1" y="-0.1" width="1.2" height="1.2"><feGaussianBlur stdDeviation="0.3 1.2"/></filter>
<linearGradient id="cbha" x1="0" x2="1" y1="0" y2="0"><stop offset="0.000" stop-color="#000080"/><stop offset="0.017" stop-color="#00008b"/><stop offset="0.034" stop-color="#000097"/><stop offset="0.051" stop-color="#0000a2"/><stop offset="0.068" stop-color="#0000ad"/><stop offset="0.085" stop-color="#0000b8"/><stop offset="0.102" stop-color="#0000c4"/><stop offset="0.119" stop-color="#0000cf"/><stop offset="0.136" stop-color="#0000da"/><stop offset="0.153" stop-color="#0000e5"/><stop offset="0.169" stop-color="#0000f1"/><stop offset="0.186" stop-color="#0000fc"/><stop offset="0.203" stop-color="#0010ff"/><stop offset="0.220" stop-color="#0026ff"/><stop offset="0.237" stop-color="#003cff"/><stop offset="0.254" stop-color="#0052ff"/><stop offset="0.271" stop-color="#0068ff"/><stop offset="0.288" stop-color="#007eff"/><stop offset="0.305" stop-color="#0094ff"/><stop offset="0.322" stop-color="#00aaff"/><stop offset="0.339" stop-color="#00bfff"/><stop offset="0.356" stop-color="#00d5ff"/><stop offset="0.373" stop-color="#00ebff"/><stop offset="0.390" stop-color="#03ffff"/><stop offset="0.407" stop-color="#1bffff"/><stop offset="0.424" stop-color="#34ffff"/><stop offset="0.441" stop-color="#4dffff"/><stop offset="0.458" stop-color="#66ffff"/><stop offset="0.475" stop-color="#7effff"/><stop offset="0.492" stop-color="#97ffff"/><stop offset="0.508" stop-color="#b0ffff"/><stop offset="0.525" stop-color="#c8ffff"/><stop offset="0.542" stop-color="#e1ffff"/><stop offset="0.559" stop-color="#faffff"/><stop offset="0.576" stop-color="#ffefef"/><stop offset="0.593" stop-color="#ffdcdc"/><stop offset="0.610" stop-color="#ffc8c8"/><stop offset="0.627" stop-color="#ffb4b4"/><stop offset="0.644" stop-color="#ffa0a0"/><stop offset="0.661" stop-color="#ff8c8c"/><stop offset="0.678" stop-color="#ff7979"/><stop offset="0.695" stop-color="#ff6565"/><stop offset="0.712" stop-color="#ff5151"/><stop offset="0.729" stop-color="#ff3d3d"/><stop offset="0.746" stop-color="#ff2a2a"/><stop offset="0.763" stop-color="#ff1616"/><stop offset="0.780" stop-color="#ff0202"/><stop offset="0.797" stop-color="#f60000"/><stop offset="0.814" stop-color="#ec0000"/><stop offset="0.831" stop-color="#e20000"/><stop offset="0.847" stop-color="#d90000"/><stop offset="0.864" stop-color="#cf0000"/><stop offset="0.881" stop-color="#c50000"/><stop offset="0.898" stop-color="#bb0000"/><stop offset="0.915" stop-color="#b10000"/><stop offset="0.932" stop-color="#a70000"/><stop offset="0.949" stop-color="#9e0000"/><stop offset="0.966" stop-color="#940000"/><stop offset="0.983" stop-color="#8a0000"/><stop offset="1.000" stop-color="#800000"/></linearGradient>
<linearGradient id="hc0" gradientUnits="userSpaceOnUse" x1="38" x2="206"><stop offset="0" stop-color="#ffffff"/><stop offset=".119" stop-color="#f9ffff"/><stop offset=".214" stop-color="#b3ffff"/><stop offset=".298" stop-color="#b5ffff"/><stop offset=".357" stop-color="#cfffff"/><stop offset="1" stop-color="#cfffff"/></linearGradient>
<linearGradient id="hc1" gradientUnits="userSpaceOnUse" x1="38" x2="206"><stop offset="0" stop-color="#ffffff"/><stop offset=".119" stop-color="#f9ffff"/><stop offset=".214" stop-color="#b2ffff"/><stop offset=".298" stop-color="#b4ffff"/><stop offset=".357" stop-color="#ceffff"/><stop offset="1" stop-color="#ceffff"/></linearGradient>
<linearGradient id="hc2" gradientUnits="userSpaceOnUse" x1="38" x2="206"><stop offset="0" stop-color="#ffffff"/><stop offset=".119" stop-color="#f9ffff"/><stop offset=".214" stop-color="#b0ffff"/><stop offset=".298" stop-color="#b2ffff"/><stop offset=".357" stop-color="#ccffff"/><stop offset="1" stop-color="#cdffff"/></linearGradient>
<linearGradient id="hc3" gradientUnits="userSpaceOnUse" x1="38" x2="206"><stop offset="0" stop-color="#ffffff"/><stop offset=".054" stop-color="#fffcfc"/><stop offset=".125" stop-color="#f5ffff"/><stop offset=".214" stop-color="#aeffff"/><stop offset=".298" stop-color="#b0ffff"/><stop offset=".357" stop-color="#caffff"/><stop offset="1" stop-color="#cbffff"/></linearGradient>
<linearGradient id="hc4" gradientUnits="userSpaceOnUse" x1="38" x2="206"><stop offset="0" stop-color="#fffefe"/><stop offset=".036" stop-color="#ffeaea"/><stop offset=".077" stop-color="#ffffff"/><stop offset=".125" stop-color="#f5ffff"/><stop offset=".208" stop-color="#aeffff"/><stop offset=".292" stop-color="#abffff"/><stop offset=".357" stop-color="#c8ffff"/><stop offset="1" stop-color="#c9ffff"/></linearGradient>
<linearGradient id="hc5" gradientUnits="userSpaceOnUse" x1="38" x2="206"><stop offset="0" stop-color="#fffefe"/><stop offset=".036" stop-color="#ffe2e2"/><stop offset=".071" stop-color="#fffefe"/><stop offset=".125" stop-color="#f4ffff"/><stop offset=".208" stop-color="#acffff"/><stop offset=".292" stop-color="#a9ffff"/><stop offset=".357" stop-color="#c7ffff"/><stop offset="1" stop-color="#c7ffff"/></linearGradient>
<linearGradient id="hc6" gradientUnits="userSpaceOnUse" x1="38" x2="206"><stop offset="0" stop-color="#fffefe"/><stop offset=".036" stop-color="#ffe1e1"/><stop offset=".071" stop-color="#fffefe"/><stop offset=".125" stop-color="#f4ffff"/><stop offset=".208" stop-color="#aaffff"/><stop offset=".292" stop-color="#a8ffff"/><stop offset=".357" stop-color="#c5ffff"/><stop offset="1" stop-color="#c6ffff"/></linearGradient>
<linearGradient id="hc7" gradientUnits="userSpaceOnUse" x1="38" x2="206"><stop offset="0" stop-color="#fffefe"/><stop offset=".036" stop-color="#ffe1e1"/><stop offset=".071" stop-color="#fffefe"/><stop offset=".125" stop-color="#f4ffff"/><stop offset=".208" stop-color="#a8ffff"/><stop offset=".292" stop-color="#a6ffff"/><stop offset=".357" stop-color="#c4ffff"/><stop offset="1" stop-color="#c5ffff"/></linearGradient>
<linearGradient id="hc8" gradientUnits="userSpaceOnUse" x1="38" x2="206"><stop offset="0" stop-color="#fffefe"/><stop offset=".036" stop-color="#ffe1e1"/><stop offset=".071" stop-color="#fffefe"/><stop offset=".125" stop-color="#f4ffff"/><stop offset=".208" stop-color="#a7ffff"/><stop offset=".292" stop-color="#a4ffff"/><stop offset=".357" stop-color="#c3ffff"/><stop offset="1" stop-color="#c4ffff"/></linearGradient>
<linearGradient id="hc9" gradientUnits="userSpaceOnUse" x1="38" x2="206"><stop offset="0" stop-color="#fffefe"/><stop offset=".036" stop-color="#ffe1e1"/><stop offset=".071" stop-color="#fffefe"/><stop offset=".125" stop-color="#f3ffff"/><stop offset=".208" stop-color="#a5ffff"/><stop offset=".292" stop-color="#a2ffff"/><stop offset=".357" stop-color="#c2ffff"/><stop offset="1" stop-color="#c2ffff"/></linearGradient>
<linearGradient id="hc10" gradientUnits="userSpaceOnUse" x1="38" x2="206"><stop offset="0" stop-color="#fffefe"/><stop offset=".036" stop-color="#ffe1e1"/><stop offset=".071" stop-color="#fffefe"/><stop offset=".125" stop-color="#f3ffff"/><stop offset=".208" stop-color="#a3ffff"/><stop offset=".286" stop-color="#9fffff"/><stop offset=".357" stop-color="#c1ffff"/><stop offset="1" stop-color="#c1ffff"/></linearGradient>
<linearGradient id="hc11" gradientUnits="userSpaceOnUse" x1="38" x2="206"><stop offset="0" stop-color="#fffefe"/><stop offset=".036" stop-color="#ffe1e1"/><stop offset=".071" stop-color="#fffefe"/><stop offset=".125" stop-color="#f3ffff"/><stop offset=".208" stop-color="#a1ffff"/><stop offset=".286" stop-color="#9cffff"/><stop offset=".357" stop-color="#bfffff"/><stop offset="1" stop-color="#c0ffff"/></linearGradient>
<linearGradient id="hc12" gradientUnits="userSpaceOnUse" x1="38" x2="206"><stop offset="0" stop-color="#fffefe"/><stop offset=".036" stop-color="#ffe1e1"/><stop offset=".071" stop-color="#fffefe"/><stop offset=".119" stop-color="#f7ffff"/><stop offset=".208" stop-color="#9dffff"/><stop offset=".286" stop-color="#98ffff"/><stop offset=".357" stop-color="#bcffff"/><stop offset="1" stop-color="#bdffff"/></linearGradient>
<linearGradient id="hc13" gradientUnits="userSpaceOnUse" x1="38" x2="206"><stop offset="0" stop-color="#fffefe"/><stop offset=".036" stop-color="#ffe1e1"/><stop offset=".071" stop-color="#fffefe"/><stop offset=".119" stop-color="#f7ffff"/><stop offset=".208" stop-color="#97ffff"/><stop offset=".28" stop-color="#90ffff"/><stop offset=".357" stop-color="#b8ffff"/><stop offset="1" stop-color="#b8ffff"/></linearGradient>
<linearGradient id="hc14" gradientUnits="userSpaceOnUse" x1="38" x2="206"><stop offset="0" stop-color="#fffefe"/><stop offset=".036" stop-color="#ffe1e1"/><stop offset=".071" stop-color="#fffefe"/><stop offset=".119" stop-color="#f8ffff"/><stop offset=".202" stop-color="#94ffff"/><stop offset=".262" stop-color="#87ffff"/><stop offset=".31" stop-color="#9affff"/><stop offset=".357" stop-color="#b3ffff"/><stop offset="1" stop-color="#b4ffff"/></linearGradient>
<linearGradient id="hc15" gradientUnits="userSpaceOnUse" x1="38" x2="206"><stop offset="0" stop-color="#fffefe"/><stop offset=".036" stop-color="#ffe1e1"/><stop offset=".071" stop-color="#fffdfd"/><stop offset=".119" stop-color="#f8ffff"/><stop offset=".202" stop-color="#8effff"/><stop offset=".262" stop-color="#7effff"/><stop offset=".31" stop-color="#93ffff"/><stop offset=".351" stop-color="#adffff"/><stop offset="1" stop-color="#afffff"/></linearGradient>
<linearGradient id="hc16" gradientUnits="userSpaceOnUse" x1="38" x2="206"><stop offset="0" stop-color="#fffefe"/><stop offset=".036" stop-color="#ffe1e1"/><stop offset=".071" stop-color="#fffdfd"/><stop offset=".107" stop-color="#fffafa"/><stop offset=".131" stop-color="#e8ffff"/><stop offset=".202" stop-color="#86ffff"/><stop offset=".256" stop-color="#74ffff"/><stop offset=".304" stop-color="#87ffff"/><stop offset=".351" stop-color="#a9ffff"/><stop offset="1" stop-color="#aaffff"/></linearGradient>
<linearGradient id="hc17" gradientUnits="userSpaceOnUse" x1="38" x2="206"><stop offset="0" stop-color="#fffefe"/><stop offset=".036" stop-color="#ffe1e1"/><stop offset=".071" stop-color="#fffdfd"/><stop offset=".107" stop-color="#fff8f8"/><stop offset=".125" stop-color="#f1ffff"/><stop offset=".202" stop-color="#83ffff"/><stop offset=".25" stop-color="#6effff"/><stop offset=".292" stop-color="#79ffff"/><stop offset=".345" stop-color="#a7ffff"/><stop offset="1" stop-color="#abffff"/></linearGradient>
<linearGradient id="hc18" gradientUnits="userSpaceOnUse" x1="38" x2="206"><stop offset="0" stop-color="#fffefe"/><stop offset=".036" stop-color="#ffe1e1"/><stop offset=".071" stop-color="#fffdfd"/><stop offset=".107" stop-color="#fff7f7"/><stop offset=".125" stop-color="#f2ffff"/><stop offset=".208" stop-color="#7effff"/><stop offset=".256" stop-color="#6bffff"/><stop offset=".292" stop-color="#79ffff"/><stop offset=".345" stop-color="#adffff"/><stop offset="1" stop-color="#b1ffff"/></linearGradient>
<linearGradient id="hc19" gradientUnits="userSpaceOnUse" x1="38" x2="206"><stop offset="0" stop-color="#fffefe"/><stop offset=".036" stop-color="#ffe1e1"/><stop offset=".071" stop-color="#fffdfd"/><stop offset=".107" stop-color="#fff7f7"/><stop offset=".125" stop-color="#f3ffff"/><stop offset=".214" stop-color="#76ffff"/><stop offset=".262" stop-color="#63ffff"/><stop offset=".298" stop-color="#7dffff"/><stop offset=".339" stop-color="#b0ffff"/><stop offset=".482" stop-color="#b8ffff"/><stop offset="1" stop-color="#b8ffff"/></linearGradient>
<linearGradient id="hc20" gradientUnits="userSpaceOnUse" x1="38" x2="206"><stop offset="0" stop-color="#fffefe"/><stop offset=".036" stop-color="#ffe1e1"/><stop offset=".071" stop-color="#fffdfd"/><stop offset=".107" stop-color="#fff7f7"/><stop offset=".125" stop-color="#f4ffff"/><stop offset=".22" stop-color="#68ffff"/><stop offset=".262" stop-color="#57ffff"/><stop offset=".292" stop-color="#6effff"/><stop offset=".339" stop-color="#b4ffff"/><stop offset=".429" stop-color="#bdffff"/><stop offset="1" stop-color="#bdffff"/></linearGradient>
<linearGradient id="hc21" gradientUnits="userSpaceOnUse" x1="38" x2="206"><stop offset="0" stop-color="#fffefe"/><stop offset=".036" stop-color="#ffe1e1"/><stop offset=".071" stop-color="#fffdfd"/><stop offset=".107" stop-color="#fff7f7"/><stop offset=".125" stop-color="#f4ffff"/><stop offset=".179" stop-color="#a3ffff"/><stop offset=".22" stop-color="#5dffff"/><stop offset=".256" stop-color="#46ffff"/><stop offset=".286" stop-color="#5affff"/><stop offset=".339" stop-color="#c0ffff"/><stop offset=".363" stop-color="#caffff"/><stop offset=".702" stop-color="#c3ffff"/><stop offset="1" stop-color="#c3ffff"/></linearGradient>
<linearGradient id="hc22" gradientUnits="userSpaceOnUse" x1="38" x2="206"><stop offset="0" stop-color="#fffefe"/><stop offset=".036" stop-color="#ffe1e1"/><stop offset=".071" stop-color="#fffdfd"/><stop offset=".107" stop-color="#fff7f7"/><stop offset=".125" stop-color="#f4ffff"/><stop offset=".173" stop-color="#aeffff"/><stop offset=".22" stop-color="#4effff"/><stop offset=".256" stop-color="#32ffff"/><stop offset=".28" stop-color="#41ffff"/><stop offset=".315" stop-color="#92ffff"/><stop offset=".345" stop-color="#e2ffff"/><stop offset=".363" stop-color="#f1ffff"/><stop offset=".429" stop-color="#caffff"/><stop offset="1" stop-color="#c8ffff"/></linearGradient>
<linearGradient id="hc23" gradientUnits="userSpaceOnUse" x1="38" x2="206"><stop offset="0" stop-color="#fffefe"/><stop offset=".036" stop-color="#ffe1e1"/><stop offset=".071" stop-color="#fffdfd"/><stop offset=".107" stop-color="#fff7f7"/><stop offset=".131" stop-color="#edffff"/><stop offset=".173" stop-color="#abffff"/><stop offset=".22" stop-color="#3dffff"/><stop offset=".25" stop-color="#1cffff"/><stop offset=".274" stop-color="#23ffff"/><stop offset=".298" stop-color="#58ffff"/><stop offset=".345" stop-color="#f4ffff"/><stop offset=".357" stop-color="#fff4f4"/><stop offset=".399" stop-color="#fffdfd"/><stop offset=".458" stop-color="#d1ffff"/><stop offset="1" stop-color="#ceffff"/></linearGradient>
<linearGradient id="hc24" gradientUnits="userSpaceOnUse" x1="38" x2="206"><stop offset="0" stop-color="#fffefe"/><stop offset=".036" stop-color="#ffe1e1"/><stop offset=".071" stop-color="#fffdfd"/><stop offset=".107" stop-color="#fff7f7"/><stop offset=".131" stop-color="#eeffff"/><stop offset=".167" stop-color="#b7ffff"/><stop offset=".22" stop-color="#2affff"/><stop offset=".25" stop-color="#02ffff"/><stop offset=".274" stop-color="#0affff"/><stop offset=".298" stop-color="#4affff"/><stop offset=".345" stop-color="#fffafa"/><stop offset=".363" stop-color="#ffdede"/><stop offset=".417" stop-color="#fff0f0"/><stop offset=".44" stop-color="#f7ffff"/><stop offset=".482" stop-color="#dbffff"/><stop offset="1" stop-color="#d5ffff"/></linearGradient>
<linearGradient id="hc25" gradientUnits="userSpaceOnUse" x1="38" x2="206"><stop offset="0" stop-color="#fffefe"/><stop offset=".036" stop-color="#ffe1e1"/><stop offset=".071" stop-color="#fffdfd"/><stop offset=".107" stop-color="#fff8f8"/><stop offset=".131" stop-color="#eeffff"/><stop offset=".167" stop-color="#b5ffff"/><stop offset=".226" stop-color="#06ffff"/><stop offset=".256" stop-color="#00e3ff"/><stop offset=".274" stop-color="#00eeff"/><stop offset=".28" stop-color="#00faff"/><stop offset=".292" stop-color="#22ffff"/><stop offset=".333" stop-color="#d9ffff"/><stop offset=".339" stop-color="#f8ffff"/><stop offset=".357" stop-color="#ffd1d1"/><stop offset=".387" stop-color="#ffcdcd"/><stop offset=".435" stop-color="#fff2f2"/><stop offset=".458" stop-color="#f4ffff"/><stop offset=".512" stop-color="#deffff"/><stop offset="1" stop-color="#dcffff"/></linearGradient>
<linearGradient id="hc26" gradientUnits="userSpaceOnUse" x1="38" x2="206"><stop offset="0" stop-color="#fffefe"/><stop offset=".036" stop-color="#ffe1e1"/><stop offset=".071" stop-color="#fffdfd"/><stop offset=".107" stop-color="#fff8f8"/><stop offset=".131" stop-color="#ecffff"/><stop offset=".161" stop-color="#bcffff"/><stop offset=".185" stop-color="#74ffff"/><stop offset=".214" stop-color="#07ffff"/><stop offset=".244" stop-color="#00c7ff"/><stop offset=".262" stop-color="#00beff"/><stop offset=".28" stop-color="#00daff"/><stop offset=".292" stop-color="#05ffff"/><stop offset=".333" stop-color="#d9ffff"/><stop offset=".339" stop-color="#fdffff"/><stop offset=".351" stop-color="#ffd2d2"/><stop offset=".369" stop-color="#ffbcbc"/><stop offset=".411" stop-color="#ffcece"/><stop offset=".452" stop-color="#fdffff"/><stop offset=".494" stop-color="#e1ffff"/><stop offset="1" stop-color="#dcffff"/></linearGradient>
<linearGradient id="hc27" gradientUnits="userSpaceOnUse" x1="38" x2="206"><stop offset="0" stop-color="#fffefe"/><stop offset=".036" stop-color="#ffe1e1"/><stop offset=".071" stop-color="#fffdfd"/><stop offset=".107" stop-color="#fff9f9"/><stop offset=".131" stop-color="#e9ffff"/><stop offset=".161" stop-color="#b3ffff"/><stop offset=".185" stop-color="#61ffff"/><stop offset=".208" stop-color="#00fcff"/><stop offset=".232" stop-color="#00b5ff"/><stop offset=".256" stop-color="#0094ff"/><stop offset=".274" stop-color="#00a4ff"/><stop offset=".292" stop-color="#00e5ff"/><stop offset=".298" stop-color="#03ffff"/><stop offset=".333" stop-color="#d5ffff"/><stop offset=".339" stop-color="#feffff"/><stop offset=".351" stop-color="#ffcaca"/><stop offset=".363" stop-color="#ffb3b3"/><stop offset=".399" stop-color="#ffbaba"/><stop offset=".452" stop-color="#fcffff"/><stop offset=".494" stop-color="#ddffff"/><stop offset="1" stop-color="#d9ffff"/></linearGradient>
<linearGradient id="hc28" gradientUnits="userSpaceOnUse" x1="38" x2="206"><stop offset="0" stop-color="#fffefe"/><stop offset=".036" stop-color="#ffe1e1"/><stop offset=".071" stop-color="#fffdfd"/><stop offset=".107" stop-color="#fff9f9"/><stop offset=".125" stop-color="#efffff"/><stop offset=".155" stop-color="#b9ffff"/><stop offset=".179" stop-color="#69ffff"/><stop offset=".202" stop-color="#00f8ff"/><stop offset=".226" stop-color="#009fff"/><stop offset=".25" stop-color="#006dff"/><stop offset=".268" stop-color="#006fff"/><stop offset=".28" stop-color="#008fff"/><stop offset=".298" stop-color="#00e6ff"/><stop offset=".304" stop-color="#0affff"/><stop offset=".333" stop-color="#d2ffff"/><stop offset=".339" stop-color="#ffffff"/><stop offset=".351" stop-color="#ffc3c3"/><stop offset=".363" stop-color="#ffa9a9"/><stop offset=".393" stop-color="#ffabab"/><stop offset=".429" stop-color="#ffe0e0"/><stop offset=".452" stop-color="#f8ffff"/><stop offset=".488" stop-color="#dbffff"/><stop offset="1" stop-color="#d6ffff"/></linearGradient>
<linearGradient id="hc29" gradientUnits="userSpaceOnUse" x1="38" x2="206"><stop offset="0" stop-color="#fffefe"/><stop offset=".036" stop-color="#ffe2e2"/><stop offset=".071" stop-color="#fffdfd"/><stop offset=".107" stop-color="#fffafa"/><stop offset=".125" stop-color="#edffff"/><stop offset=".155" stop-color="#b1ffff"/><stop offset=".173" stop-color="#73ffff"/><stop offset=".196" stop-color="#00fcff"/><stop offset=".226" stop-color="#007cff"/><stop offset=".244" stop-color="#004cff"/><stop offset=".262" stop-color="#003fff"/><stop offset=".274" stop-color="#0054ff"/><stop offset=".286" stop-color="#0086ff"/><stop offset=".304" stop-color="#00f2ff"/><stop offset=".31" stop-color="#1cffff"/><stop offset=".339" stop-color="#fffafa"/><stop offset=".351" stop-color="#ffb5b5"/><stop offset=".363" stop-color="#ff9999"/><stop offset=".393" stop-color="#ffa0a0"/><stop offset=".446" stop-color="#fcffff"/><stop offset=".476" stop-color="#dbffff"/><stop offset=".631" stop-color="#d2ffff"/><stop offset="1" stop-color="#d2ffff"/></linearGradient>
<linearGradient id="hc30" gradientUnits="userSpaceOnUse" x1="38" x2="206"><stop offset="0" stop-color="#fffefe"/><stop offset=".036" stop-color="#ffe2e2"/><stop offset=".071" stop-color="#fffdfd"/><stop offset=".107" stop-color="#fffafa"/><stop offset=".125" stop-color="#ebffff"/><stop offset=".155" stop-color="#aaffff"/><stop offset=".173" stop-color="#66ffff"/><stop offset=".19" stop-color="#08ffff"/><stop offset=".214" stop-color="#008eff"/><stop offset=".238" stop-color="#0034ff"/><stop offset=".256" stop-color="#0016ff"/><stop offset=".268" stop-color="#001eff"/><stop offset=".28" stop-color="#0046ff"/><stop offset=".298" stop-color="#00b3ff"/><stop offset=".31" stop-color="#09ffff"/><stop offset=".327" stop-color="#9affff"/><stop offset=".333" stop-color="#d3ffff"/><stop offset=".339" stop-color="#fff2f2"/><stop offset=".351" stop-color="#ffa2a2"/><stop offset=".363" stop-color="#ff8181"/><stop offset=".387" stop-color="#ff8787"/><stop offset=".411" stop-color="#ffb4b4"/><stop offset=".44" stop-color="#fffcfc"/><stop offset=".47" stop-color="#d9ffff"/><stop offset=".565" stop-color="#cfffff"/><stop offset="1" stop-color="#cfffff"/></linearGradient>
<linearGradient id="hc31" gradientUnits="userSpaceOnUse" x1="38" x2="206"><stop offset="0" stop-color="#fffefe"/><stop offset=".036" stop-color="#ffe2e2"/><stop offset=".071" stop-color="#fffdfd"/><stop offset=".107" stop-color="#fffbfb"/><stop offset=".125" stop-color="#e9ffff"/><stop offset=".155" stop-color="#a4ffff"/><stop offset=".173" stop-color="#5cffff"/><stop offset=".19" stop-color="#00f6ff"/><stop offset=".22" stop-color="#0058ff"/><stop offset=".238" stop-color="#0014ff"/><stop offset=".25" stop-color="#0000fb"/><stop offset=".268" stop-color="#0000fd"/><stop offset=".274" stop-color="#000dff"/><stop offset=".286" stop-color="#0049ff"/><stop offset=".31" stop-color="#00f8ff"/><stop offset=".321" stop-color="#5fffff"/><stop offset=".333" stop-color="#d8ffff"/><stop offset=".339" stop-color="#ffe8e8"/><stop offset=".351" stop-color="#ff8c8c"/><stop offset=".357" stop-color="#ff7272"/><stop offset=".369" stop-color="#ff6161"/><stop offset=".387" stop-color="#ff6c6c"/><stop offset=".411" stop-color="#ffa8a8"/><stop offset=".44" stop-color="#fffefe"/><stop offset=".464" stop-color="#daffff"/><stop offset=".53" stop-color="#ceffff"/><stop offset="1" stop-color="#ceffff"/></linearGradient>
<linearGradient id="hc32" gradientUnits="userSpaceOnUse" x1="38" x2="206"><stop offset="0" stop-color="#fffefe"/><stop offset=".036" stop-color="#ffe2e2"/><stop offset=".071" stop-color="#fffefe"/><stop offset=".107" stop-color="#fffbfb"/><stop offset=".131" stop-color="#dcffff"/><stop offset=".155" stop-color="#9fffff"/><stop offset=".173" stop-color="#53ffff"/><stop offset=".185" stop-color="#0dffff"/><stop offset=".19" stop-color="#00e9ff"/><stop offset=".22" stop-color="#0041ff"/><stop offset=".232" stop-color="#000cff"/><stop offset=".238" stop-color="#0000fa"/><stop offset=".262" stop-color="#0000e9"/><stop offset=".274" stop-color="#0000f7"/><stop offset=".28" stop-color="#000cff"/><stop offset=".298" stop-color="#008aff"/><stop offset=".31" stop-color="#00ebff"/><stop offset=".315" stop-color="#20ffff"/><stop offset=".327" stop-color="#96ffff"/><stop offset=".333" stop-color="#dcffff"/><stop offset=".339" stop-color="#ffdede"/><stop offset=".351" stop-color="#ff7777"/><stop offset=".357" stop-color="#ff5959"/><stop offset=".369" stop-color="#ff4444"/><stop offset=".387" stop-color="#ff5252"/><stop offset=".405" stop-color="#ff8787"/><stop offset=".435" stop-color="#fff3f3"/><stop offset=".44" stop-color="#fdffff"/><stop offset=".464" stop-color="#d7ffff"/><stop offset=".554" stop-color="#cdffff"/><stop offset="1" stop-color="#cdffff"/></linearGradient>
<linearGradient id="hc33" gradientUnits="userSpaceOnUse" x1="38" x2="206"><stop offset="0" stop-color="#fffefe"/><stop offset=".036" stop-color="#ffe2e2"/><stop offset=".071" stop-color="#fffefe"/><stop offset=".107" stop-color="#fffcfc"/><stop offset=".131" stop-color="#dbffff"/><stop offset=".155" stop-color="#9bffff"/><stop offset=".173" stop-color="#4bffff"/><stop offset=".185" stop-color="#03ffff"/><stop offset=".22" stop-color="#002dff"/><stop offset=".226" stop-color="#0010ff"/><stop offset=".232" stop-color="#0000fa"/><stop offset=".256" stop-color="#0000dc"/><stop offset=".274" stop-color="#0000eb"/><stop offset=".28" stop-color="#0000fa"/><stop offset=".286" stop-color="#001dff"/><stop offset=".31" stop-color="#00e1ff"/><stop offset=".315" stop-color="#18ffff"/><stop offset=".327" stop-color="#95ffff"/><stop offset=".333" stop-color="#e0ffff"/><stop offset=".339" stop-color="#ffd6d6"/><stop offset=".345" stop-color="#ff9797"/><stop offset=".351" stop-color="#ff6464"/><stop offset=".357" stop-color="#ff4444"/><stop offset=".369" stop-color="#ff2c2c"/><stop offset=".387" stop-color="#ff3d3d"/><stop offset=".405" stop-color="#ff7f7f"/><stop offset=".429" stop-color="#ffe5e5"/><stop offset=".44" stop-color="#f7ffff"/><stop offset=".458" stop-color="#d8ffff"/><stop offset=".518" stop-color="#ccffff"/><stop offset="1" stop-color="#ccffff"/></linearGradient>
<linearGradient id="hc34" gradientUnits="userSpaceOnUse" x1="38" x2="206"><stop offset="0" stop-color="#fffefe"/><stop offset=".036" stop-color="#ffe2e2"/><stop offset=".071" stop-color="#fffefe"/><stop offset=".107" stop-color="#fffcfc"/><stop offset=".131" stop-color="#daffff"/><stop offset=".155" stop-color="#98ffff"/><stop offset=".173" stop-color="#46ffff"/><stop offset=".185" stop-color="#00fbff"/><stop offset=".22" stop-color="#0020ff"/><stop offset=".226" stop-color="#0001ff"/><stop offset=".25" stop-color="#0000d6"/><stop offset=".268" stop-color="#0000d8"/><stop offset=".28" stop-color="#0000f2"/><stop offset=".286" stop-color="#000eff"/><stop offset=".31" stop-color="#00d9ff"/><stop offset=".315" stop-color="#11ffff"/><stop offset=".327" stop-color="#95ffff"/><stop offset=".333" stop-color="#e5ffff"/><stop offset=".339" stop-color="#ffcdcd"/><stop offset=".345" stop-color="#ff8989"/><stop offset=".351" stop-color="#ff5353"/><stop offset=".357" stop-color="#ff2f2f"/><stop offset=".369" stop-color="#ff1515"/><stop offset=".381" stop-color="#ff1e1e"/><stop offset=".393" stop-color="#ff4343"/><stop offset=".423" stop-color="#ffd6d6"/><stop offset=".435" stop-color="#ffffff"/><stop offset=".452" stop-color="#daffff"/><stop offset=".494" stop-color="#cbffff"/><stop offset="1" stop-color="#cbffff"/></linearGradient>
<linearGradient id="hc35" gradientUnits="userSpaceOnUse" x1="38" x2="206"><stop offset="0" stop-color="#fffefe"/><stop offset=".036" stop-color="#ffe2e2"/><stop offset=".071" stop-color="#fffefe"/><stop offset=".107" stop-color="#fffcfc"/><stop offset=".131" stop-color="#d9ffff"/><stop offset=".155" stop-color="#97ffff"/><stop offset=".173" stop-color="#42ffff"/><stop offset=".185" stop-color="#00f7ff"/><stop offset=".22" stop-color="#0018ff"/><stop offset=".226" stop-color="#0000fb"/><stop offset=".25" stop-color="#0000d1"/><stop offset=".268" stop-color="#0000d3"/><stop offset=".286" stop-color="#0006ff"/><stop offset=".31" stop-color="#00d5ff"/><stop offset=".315" stop-color="#0dffff"/><stop offset=".327" stop-color="#95ffff"/><stop offset=".333" stop-color="#eaffff"/><stop offset=".339" stop-color="#ffc5c5"/><stop offset=".345" stop-color="#ff7d7d"/><stop offset=".351" stop-color="#ff4242"/><stop offset=".357" stop-color="#ff1b1b"/><stop offset=".363" stop-color="#ff0707"/><stop offset=".375" stop-color="#ff0202"/><stop offset=".387" stop-color="#ff2020"/><stop offset=".423" stop-color="#ffe0e0"/><stop offset=".429" stop-color="#fff6f6"/><stop offset=".44" stop-color="#e6ffff"/><stop offset=".464" stop-color="#cdffff"/><stop offset="1" stop-color="#caffff"/></linearGradient>
<linearGradient id="hc36" gradientUnits="userSpaceOnUse" x1="38" x2="206"><stop offset="0" stop-color="#fffefe"/><stop offset=".036" stop-color="#ffe2e2"/><stop offset=".071" stop-color="#fffefe"/><stop offset=".107" stop-color="#fffcfc"/><stop offset=".131" stop-color="#d9ffff"/><stop offset=".155" stop-color="#96ffff"/><stop offset=".173" stop-color="#42ffff"/><stop offset=".185" stop-color="#00f6ff"/><stop offset=".22" stop-color="#0017ff"/><stop offset=".226" stop-color="#0000fb"/><stop offset=".25" stop-color="#0000d1"/><stop offset=".268" stop-color="#0000d3"/><stop offset=".286" stop-color="#0006ff"/><stop offset=".31" stop-color="#00d4ff"/><stop offset=".315" stop-color="#0cffff"/><stop offset=".327" stop-color="#94ffff"/><stop offset=".333" stop-color="#e8ffff"/><stop offset=".339" stop-color="#ffc6c6"/><stop offset=".345" stop-color="#ff7c7c"/><stop offset=".351" stop-color="#ff3f3f"/><stop offset=".357" stop-color="#ff1515"/><stop offset=".363" stop-color="#fe0000"/><stop offset=".381" stop-color="#ff0000"/><stop offset=".393" stop-color="#ff3434"/><stop offset=".417" stop-color="#ffc8c8"/><stop offset=".429" stop-color="#fffafa"/><stop offset=".446" stop-color="#d8ffff"/><stop offset=".488" stop-color="#c9ffff"/><stop offset="1" stop-color="#c9ffff"/></linearGradient>
<linearGradient id="hc37" gradientUnits="userSpaceOnUse" x1="38" x2="206"><stop offset="0" stop-color="#fffefe"/><stop offset=".036" stop-color="#ffe2e2"/><stop offset=".071" stop-color="#fffefe"/><stop offset=".107" stop-color="#fffcfc"/><stop offset=".131" stop-color="#daffff"/><stop offset=".155" stop-color="#98ffff"/><stop offset=".173" stop-color="#45ffff"/><stop offset=".185" stop-color="#00f9ff"/><stop offset=".22" stop-color="#001fff"/><stop offset=".226" stop-color="#0001ff"/><stop offset=".25" stop-color="#0000d7"/><stop offset=".268" stop-color="#0000d8"/><stop offset=".28" stop-color="#0000f2"/><stop offset=".286" stop-color="#000eff"/><stop offset=".31" stop-color="#00d7ff"/><stop offset=".315" stop-color="#0effff"/><stop offset=".327" stop-color="#92ffff"/><stop offset=".333" stop-color="#e3ffff"/><stop offset=".339" stop-color="#ffcdcd"/><stop offset=".345" stop-color="#ff8686"/><stop offset=".351" stop-color="#ff4a4a"/><stop offset=".357" stop-color="#ff2121"/><stop offset=".363" stop-color="#ff0909"/><stop offset=".375" stop-color="#fe0000"/><stop offset=".381" stop-color="#ff0707"/><stop offset=".393" stop-color="#ff3939"/><stop offset=".417" stop-color="#ffcbcb"/><stop offset=".429" stop-color="#fffdfd"/><stop offset=".446" stop-color="#d5ffff"/><stop offset=".488" stop-color="#c8ffff"/><stop offset="1" stop-color="#c8ffff"/></linearGradient>
<linearGradient id="hc38" gradientUnits="userSpaceOnUse" x1="38" x2="206"><stop offset="0" stop-color="#fffefe"/><stop offset=".036" stop-color="#ffe2e2"/><stop offset=".071" stop-color="#fffefe"/><stop offset=".107" stop-color="#fffbfb"/><stop offset=".131" stop-color="#dbffff"/><stop offset=".155" stop-color="#9bffff"/><stop offset=".173" stop-color="#4bffff"/><stop offset=".185" stop-color="#02ffff"/><stop offset=".22" stop-color="#002fff"/><stop offset=".232" stop-color="#0000fc"/><stop offset=".256" stop-color="#0000df"/><stop offset=".274" stop-color="#0000ed"/><stop offset=".28" stop-color="#0000fc"/><stop offset=".286" stop-color="#0020ff"/><stop offset=".31" stop-color="#00dfff"/><stop offset=".315" stop-color="#15ffff"/><stop offset=".327" stop-color="#92ffff"/><stop offset=".333" stop-color="#dfffff"/><stop offset=".339" stop-color="#ffd4d4"/><stop offset=".351" stop-color="#ff5858"/><stop offset=".357" stop-color="#ff3131"/><stop offset=".363" stop-color="#ff1a1a"/><stop offset=".375" stop-color="#ff1010"/><stop offset=".387" stop-color="#ff2e2e"/><stop offset=".417" stop-color="#ffd5d5"/><stop offset=".429" stop-color="#faffff"/><stop offset=".446" stop-color="#d3ffff"/><stop offset=".5" stop-color="#c8ffff"/><stop offset="1" stop-color="#c8ffff"/></linearGradient>
<linearGradient id="hc39" gradientUnits="userSpaceOnUse" x1="38" x2="206"><stop offset="0" stop-color="#fffefe"/><stop offset=".036" stop-color="#ffe2e2"/><stop offset=".071" stop-color="#fffdfd"/><stop offset=".107" stop-color="#fffbfb"/><stop offset=".125" stop-color="#e8ffff"/><stop offset=".155" stop-color="#a0ffff"/><stop offset=".173" stop-color="#54ffff"/><stop offset=".185" stop-color="#0fffff"/><stop offset=".19" stop-color="#00ebff"/><stop offset=".22" stop-color="#0047ff"/><stop offset=".238" stop-color="#0003ff"/><stop offset=".262" stop-color="#0000f0"/><stop offset=".274" stop-color="#0000fd"/><stop offset=".286" stop-color="#0039ff"/><stop offset=".31" stop-color="#00ebff"/><stop offset=".315" stop-color="#1effff"/><stop offset=".327" stop-color="#93ffff"/><stop offset=".333" stop-color="#daffff"/><stop offset=".339" stop-color="#ffdede"/><stop offset=".351" stop-color="#ff6b6b"/><stop offset=".357" stop-color="#ff4646"/><stop offset=".369" stop-color="#ff2525"/><stop offset=".381" stop-color="#ff2e2e"/><stop offset=".393" stop-color="#ff5e5e"/><stop offset=".417" stop-color="#ffe0e0"/><stop offset=".423" stop-color="#fff8f8"/><stop offset=".446" stop-color="#d0ffff"/><stop offset=".536" stop-color="#c7ffff"/><stop offset="1" stop-color="#c7ffff"/></linearGradient>
<linearGradient id="hc40" gradientUnits="userSpaceOnUse" x1="38" x2="206"><stop offset="0" stop-color="#fffefe"/><stop offset=".036" stop-color="#ffe2e2"/><stop offset=".071" stop-color="#fffdfd"/><stop offset=".107" stop-color="#fffafa"/><stop offset=".125" stop-color="#eaffff"/><stop offset=".155" stop-color="#a6ffff"/><stop offset=".173" stop-color="#5fffff"/><stop offset=".19" stop-color="#00fbff"/><stop offset=".22" stop-color="#0064ff"/><stop offset=".238" stop-color="#0027ff"/><stop offset=".256" stop-color="#0009ff"/><stop offset=".268" stop-color="#0011ff"/><stop offset=".28" stop-color="#0038ff"/><stop offset=".298" stop-color="#00a4ff"/><stop offset=".31" stop-color="#00f9ff"/><stop offset=".321" stop-color="#5cffff"/><stop offset=".333" stop-color="#d4ffff"/><stop offset=".339" stop-color="#ffeaea"/><stop offset=".351" stop-color="#ff8484"/><stop offset=".357" stop-color="#ff6363"/><stop offset=".369" stop-color="#ff4444"/><stop offset=".381" stop-color="#ff4b4b"/><stop offset=".393" stop-color="#ff7676"/><stop offset=".417" stop-color="#ffecec"/><stop offset=".423" stop-color="#feffff"/><stop offset=".44" stop-color="#d4ffff"/><stop offset=".488" stop-color="#c7ffff"/><stop offset="1" stop-color="#c7ffff"/></linearGradient>
<linearGradient id="hc41" gradientUnits="userSpaceOnUse" x1="38" x2="206"><stop offset="0" stop-color="#fffefe"/><stop offset=".036" stop-color="#ffe2e2"/><stop offset=".071" stop-color="#fffdfd"/><stop offset=".107" stop-color="#fffafa"/><stop offset=".125" stop-color="#ecffff"/><stop offset=".155" stop-color="#adffff"/><stop offset=".173" stop-color="#6bffff"/><stop offset=".19" stop-color="#0fffff"/><stop offset=".196" stop-color="#00efff"/><stop offset=".22" stop-color="#0084ff"/><stop offset=".244" stop-color="#0042ff"/><stop offset=".262" stop-color="#0035ff"/><stop offset=".274" stop-color="#0049ff"/><stop offset=".292" stop-color="#0099ff"/><stop offset=".304" stop-color="#00e3ff"/><stop offset=".31" stop-color="#0bffff"/><stop offset=".327" stop-color="#96ffff"/><stop offset=".339" stop-color="#fff6f6"/><stop offset=".351" stop-color="#ff9d9d"/><stop offset=".363" stop-color="#ff6e6e"/><stop offset=".375" stop-color="#ff6464"/><stop offset=".387" stop-color="#ff7c7c"/><stop offset=".417" stop-color="#fff8f8"/><stop offset=".44" stop-color="#d1ffff"/><stop offset=".518" stop-color="#c7ffff"/><stop offset="1" stop-color="#c7ffff"/></linearGradient>
<linearGradient id="hc42" gradientUnits="userSpaceOnUse" x1="38" x2="206"><stop offset="0" stop-color="#fffefe"/><stop offset=".036" stop-color="#ffe1e1"/><stop offset=".071" stop-color="#fffdfd"/><stop offset=".107" stop-color="#fff9f9"/><stop offset=".125" stop-color="#eeffff"/><stop offset=".155" stop-color="#b4ffff"/><stop offset=".173" stop-color="#78ffff"/><stop offset=".196" stop-color="#05ffff"/><stop offset=".226" stop-color="#0092ff"/><stop offset=".25" stop-color="#0064ff"/><stop offset=".268" stop-color="#0066ff"/><stop offset=".286" stop-color="#009bff"/><stop offset=".304" stop-color="#00f7ff"/><stop offset=".315" stop-color="#45ffff"/><stop offset=".333" stop-color="#caffff"/><stop offset=".339" stop-color="#feffff"/><stop offset=".351" stop-color="#ffb4b4"/><stop offset=".363" stop-color="#ff8c8c"/><stop offset=".375" stop-color="#ff8585"/><stop offset=".387" stop-color="#ff9a9a"/><stop offset=".411" stop-color="#fff1f1"/><stop offset=".417" stop-color="#faffff"/><stop offset=".435" stop-color="#d3ffff"/><stop offset=".482" stop-color="#c7ffff"/><stop offset="1" stop-color="#c7ffff"/></linearGradient>
<linearGradient id="hc43" gradientUnits="userSpaceOnUse" x1="38" x2="206"><stop offset="0" stop-color="#fffefe"/><stop offset=".036" stop-color="#ffe2e2"/><stop offset=".071" stop-color="#fffdfd"/><stop offset=".107" stop-color="#fff9f9"/><stop offset=".125" stop-color="#efffff"/><stop offset=".161" stop-color="#abffff"/><stop offset=".185" stop-color="#52ffff"/><stop offset=".202" stop-color="#01ffff"/><stop offset=".226" stop-color="#00b4ff"/><stop offset=".25" stop-color="#008eff"/><stop offset=".268" stop-color="#0090ff"/><stop offset=".286" stop-color="#00bcff"/><stop offset=".298" stop-color="#00efff"/><stop offset=".304" stop-color="#0effff"/><stop offset=".327" stop-color="#9dffff"/><stop offset=".339" stop-color="#f6ffff"/><stop offset=".351" stop-color="#ffc5c5"/><stop offset=".363" stop-color="#ffa3a3"/><stop offset=".375" stop-color="#ff9e9e"/><stop offset=".393" stop-color="#ffc5c5"/><stop offset=".411" stop-color="#fffefe"/><stop offset=".429" stop-color="#d6ffff"/><stop offset=".464" stop-color="#c7ffff"/><stop offset="1" stop-color="#c7ffff"/></linearGradient>
<linearGradient id="hc44" gradientUnits="userSpaceOnUse" x1="38" x2="206"><stop offset="0" stop-color="#fffefe"/><stop offset=".036" stop-color="#ffe2e2"/><stop offset=".071" stop-color="#fffdfd"/><stop offset=".107" stop-color="#fffafa"/><stop offset=".131" stop-color="#e8ffff"/><stop offset=".161" stop-color="#b3ffff"/><stop offset=".185" stop-color="#62ffff"/><stop offset=".208" stop-color="#03ffff"/><stop offset=".238" stop-color="#00c1ff"/><stop offset=".262" stop-color="#00b3ff"/><stop offset=".28" stop-color="#00cbff"/><stop offset=".298" stop-color="#08ffff"/><stop offset=".327" stop-color="#a1ffff"/><stop offset=".339" stop-color="#eeffff"/><stop offset=".345" stop-color="#ffeeee"/><stop offset=".357" stop-color="#ffc2c2"/><stop offset=".369" stop-color="#ffb2b2"/><stop offset=".387" stop-color="#ffc6c6"/><stop offset=".405" stop-color="#fff9f9"/><stop offset=".429" stop-color="#d2ffff"/><stop offset=".482" stop-color="#c7ffff"/><stop offset="1" stop-color="#c7ffff"/></linearGradient>
<linearGradient id="hc45" gradientUnits="userSpaceOnUse" x1="38" x2="206"><stop offset="0" stop-color="#fffefe"/><stop offset=".036" stop-color="#ffe3e3"/><stop offset=".071" stop-color="#fffdfd"/><stop offset=".113" stop-color="#fffefe"/><stop offset=".155" stop-color="#c6ffff"/><stop offset=".179" stop-color="#85ffff"/><stop offset=".214" stop-color="#0bffff"/><stop offset=".226" stop-color="#00f2ff"/><stop offset=".256" stop-color="#00d7ff"/><stop offset=".274" stop-color="#00e1ff"/><stop offset=".286" stop-color="#00f8ff"/><stop offset=".298" stop-color="#20ffff"/><stop offset=".327" stop-color="#a4ffff"/><stop offset=".339" stop-color="#e7ffff"/><stop offset=".345" stop-color="#fff8f8"/><stop offset=".357" stop-color="#ffd3d3"/><stop offset=".375" stop-color="#ffc7c7"/><stop offset=".405" stop-color="#f9ffff"/><stop offset=".423" stop-color="#d5ffff"/><stop offset=".464" stop-color="#c7ffff"/><stop offset="1" stop-color="#c7ffff"/></linearGradient>
<linearGradient id="hc46" gradientUnits="userSpaceOnUse" x1="38" x2="206"><stop offset="0" stop-color="#fffefe"/><stop offset=".036" stop-color="#ffe5e5"/><stop offset=".071" stop-color="#fffefe"/><stop offset=".119" stop-color="#f9ffff"/><stop offset=".161" stop-color="#bfffff"/><stop offset=".19" stop-color="#68ffff"/><stop offset=".22" stop-color="#17ffff"/><stop offset=".238" stop-color="#00feff"/><stop offset=".268" stop-color="#00f8ff"/><stop offset=".28" stop-color="#07ffff"/><stop offset=".304" stop-color="#48ffff"/><stop offset=".333" stop-color="#c5ffff"/><stop offset=".345" stop-color="#fffefe"/><stop offset=".363" stop-color="#ffd8d8"/><stop offset=".381" stop-color="#ffdddd"/><stop offset=".399" stop-color="#fdffff"/><stop offset=".423" stop-color="#d1ffff"/><stop offset=".494" stop-color="#c7ffff"/><stop offset="1" stop-color="#c7ffff"/></linearGradient>
<linearGradient id="hc47" gradientUnits="userSpaceOnUse" x1="38" x2="206"><stop offset="0" stop-color="#fffefe"/><stop offset=".036" stop-color="#ffe8e8"/><stop offset=".077" stop-color="#fffefe"/><stop offset=".119" stop-color="#f9ffff"/><stop offset=".161" stop-color="#c5ffff"/><stop offset=".214" stop-color="#37ffff"/><stop offset=".244" stop-color="#16ffff"/><stop offset=".274" stop-color="#1affff"/><stop offset=".298" stop-color="#46ffff"/><stop offset=".327" stop-color="#adffff"/><stop offset=".345" stop-color="#fbffff"/><stop offset=".363" stop-color="#ffe0e0"/><stop offset=".381" stop-color="#ffe6e6"/><stop offset=".393" stop-color="#fffbfb"/><stop offset=".423" stop-color="#d0ffff"/><stop offset=".619" stop-color="#c9ffff"/><stop offset="1" stop-color="#c9ffff"/></linearGradient>
<linearGradient id="hc48" gradientUnits="userSpaceOnUse" x1="38" x2="206"><stop offset="0" stop-color="#fffefe"/><stop offset=".036" stop-color="#ffebeb"/><stop offset=".077" stop-color="#fffefe"/><stop offset=".119" stop-color="#f9ffff"/><stop offset=".161" stop-color="#cbffff"/><stop offset=".214" stop-color="#49ffff"/><stop offset=".244" stop-color="#2effff"/><stop offset=".274" stop-color="#31ffff"/><stop offset=".298" stop-color="#56ffff"/><stop offset=".327" stop-color="#b2ffff"/><stop offset=".345" stop-color="#f8ffff"/><stop offset=".363" stop-color="#ffe6e6"/><stop offset=".381" stop-color="#ffecec"/><stop offset=".393" stop-color="#ffffff"/><stop offset=".417" stop-color="#d6ffff"/><stop offset=".476" stop-color="#ccffff"/><stop offset="1" stop-color="#ccffff"/></linearGradient>
<linearGradient id="hc49" gradientUnits="userSpaceOnUse" x1="38" x2="206"><stop offset="0" stop-color="#fffefe"/><stop offset=".042" stop-color="#fff0f0"/><stop offset=".083" stop-color="#fffefe"/><stop offset=".125" stop-color="#f5ffff"/><stop offset=".167" stop-color="#c5ffff"/><stop offset=".214" stop-color="#58ffff"/><stop offset=".25" stop-color="#40ffff"/><stop offset=".28" stop-color="#48ffff"/><stop offset=".304" stop-color="#70ffff"/><stop offset=".333" stop-color="#cdffff"/><stop offset=".345" stop-color="#f9ffff"/><stop offset=".369" stop-color="#ffe8e8"/><stop offset=".393" stop-color="#fcffff"/><stop offset=".423" stop-color="#d4ffff"/><stop offset="1" stop-color="#cfffff"/></linearGradient>
<linearGradient id="hc50" gradientUnits="userSpaceOnUse" x1="38" x2="206"><stop offset="0" stop-color="#fffefe"/><stop offset=".042" stop-color="#fff3f3"/><stop offset=".095" stop-color="#ffffff"/><stop offset=".143" stop-color="#e8ffff"/><stop offset=".173" stop-color="#bfffff"/><stop offset=".214" stop-color="#64ffff"/><stop offset=".25" stop-color="#50ffff"/><stop offset=".286" stop-color="#5cffff"/><stop offset=".31" stop-color="#88ffff"/><stop offset=".345" stop-color="#fcffff"/><stop offset=".363" stop-color="#ffe9e9"/><stop offset=".387" stop-color="#fff8f8"/><stop offset=".423" stop-color="#d7ffff"/><stop offset="1" stop-color="#d2ffff"/></linearGradient>
<linearGradient id="hc51" gradientUnits="userSpaceOnUse" x1="38" x2="206"><stop offset="0" stop-color="#fffefe"/><stop offset=".048" stop-color="#fff8f8"/><stop offset=".125" stop-color="#f7ffff"/><stop offset=".167" stop-color="#cfffff"/><stop offset=".214" stop-color="#6dffff"/><stop offset=".25" stop-color="#5cffff"/><stop offset=".286" stop-color="#66ffff"/><stop offset=".31" stop-color="#8fffff"/><stop offset=".345" stop-color="#ffffff"/><stop offset=".363" stop-color="#ffe7e7"/><stop offset=".387" stop-color="#fff6f6"/><stop offset=".399" stop-color="#f4ffff"/><stop offset=".429" stop-color="#d8ffff"/><stop offset="1" stop-color="#d5ffff"/></linearGradient>
<linearGradient id="hc52" gradientUnits="userSpaceOnUse" x1="38" x2="206"><stop offset="0" stop-color="#ffffff"/><stop offset=".054" stop-color="#fffcfc"/><stop offset=".125" stop-color="#f7ffff"/><stop offset=".167" stop-color="#d3ffff"/><stop offset=".214" stop-color="#75ffff"/><stop offset=".256" stop-color="#65ffff"/><stop offset=".292" stop-color="#75ffff"/><stop offset=".321" stop-color="#b4ffff"/><stop offset=".345" stop-color="#fffcfc"/><stop offset=".363" stop-color="#ffe4e4"/><stop offset=".387" stop-color="#fff4f4"/><stop offset=".405" stop-color="#eeffff"/><stop offset=".435" stop-color="#daffff"/><stop offset="1" stop-color="#d9ffff"/></linearGradient>
<linearGradient id="hc53" gradientUnits="userSpaceOnUse" x1="38" x2="206"><stop offset="0" stop-color="#ffffff"/><stop offset=".125" stop-color="#f8ffff"/><stop offset=".167" stop-color="#d7ffff"/><stop offset=".214" stop-color="#7dffff"/><stop offset=".256" stop-color="#6effff"/><stop offset=".292" stop-color="#7dffff"/><stop offset=".321" stop-color="#b9ffff"/><stop offset=".345" stop-color="#fff9f9"/><stop offset=".363" stop-color="#ffe1e1"/><stop offset=".387" stop-color="#fff1f1"/><stop offset=".405" stop-color="#f2ffff"/><stop offset=".435" stop-color="#dfffff"/><stop offset="1" stop-color="#deffff"/></linearGradient>
<linearGradient id="hc54" gradientUnits="userSpaceOnUse" x1="38" x2="206"><stop offset="0" stop-color="#ffffff"/><stop offset=".131" stop-color="#f7ffff"/><stop offset=".167" stop-color="#dbffff"/><stop offset=".214" stop-color="#83ffff"/><stop offset=".256" stop-color="#76ffff"/><stop offset=".292" stop-color="#83ffff"/><stop offset=".321" stop-color="#beffff"/><stop offset=".339" stop-color="#f7ffff"/><stop offset=".363" stop-color="#ffdfdf"/><stop offset=".387" stop-color="#ffeeee"/><stop offset=".405" stop-color="#f6ffff"/><stop offset=".435" stop-color="#e3ffff"/><stop offset="1" stop-color="#e2ffff"/></linearGradient>
<linearGradient id="hc55" gradientUnits="userSpaceOnUse" x1="38" x2="206"><stop offset="0" stop-color="#ffffff"/><stop offset=".131" stop-color="#f8ffff"/><stop offset=".167" stop-color="#dfffff"/><stop offset=".214" stop-color="#89ffff"/><stop offset=".256" stop-color="#7cffff"/><stop offset=".292" stop-color="#89ffff"/><stop offset=".321" stop-color="#c3ffff"/><stop offset=".339" stop-color="#fbffff"/><stop offset=".357" stop-color="#ffe0e0"/><stop offset=".375" stop-color="#ffdede"/><stop offset=".405" stop-color="#fbffff"/><stop offset=".44" stop-color="#e7ffff"/><stop offset="1" stop-color="#e6ffff"/></linearGradient>
<linearGradient id="hc56" gradientUnits="userSpaceOnUse" x1="38" x2="206"><stop offset="0" stop-color="#ffffff"/><stop offset=".137" stop-color="#f7ffff"/><stop offset=".173" stop-color="#daffff"/><stop offset=".214" stop-color="#8effff"/><stop offset=".256" stop-color="#82ffff"/><stop offset=".292" stop-color="#8effff"/><stop offset=".321" stop-color="#c8ffff"/><stop offset=".339" stop-color="#ffffff"/><stop offset=".357" stop-color="#ffdddd"/><stop offset=".381" stop-color="#ffe1e1"/><stop offset=".405" stop-color="#feffff"/><stop offset=".44" stop-color="#ebffff"/><stop offset="1" stop-color="#eaffff"/></linearGradient>
<linearGradient id="hc57" gradientUnits="userSpaceOnUse" x1="38" x2="206"><stop offset="0" stop-color="#ffffff"/><stop offset=".137" stop-color="#f8ffff"/><stop offset=".173" stop-color="#dcffff"/><stop offset=".214" stop-color="#90ffff"/><stop offset=".256" stop-color="#84ffff"/><stop offset=".292" stop-color="#90ffff"/><stop offset=".321" stop-color="#c9ffff"/><stop offset=".339" stop-color="#fffefe"/><stop offset=".357" stop-color="#ffdcdc"/><stop offset=".381" stop-color="#ffe0e0"/><stop offset=".411" stop-color="#f8ffff"/><stop offset=".458" stop-color="#ecffff"/><stop offset="1" stop-color="#ecffff"/></linearGradient>
<clipPath id="cliphc"><rect x="38.00" y="337.40" width="168.00" height="167.00"/></clipPath>
<filter id="blhc" x="-0.1" y="-0.1" width="1.2" height="1.2"><feGaussianBlur stdDeviation="0.3 1.2"/></filter>
<linearGradient id="cbhc" x1="0" x2="1" y1="0" y2="0"><stop offset="0.000" stop-color="#000080"/><stop offset="0.017" stop-color="#00008b"/><stop offset="0.034" stop-color="#000097"/><stop offset="0.051" stop-color="#0000a2"/><stop offset="0.068" stop-color="#0000ad"/><stop offset="0.085" stop-color="#0000b8"/><stop offset="0.102" stop-color="#0000c4"/><stop offset="0.119" stop-color="#0000cf"/><stop offset="0.136" stop-color="#0000da"/><stop offset="0.153" stop-color="#0000e5"/><stop offset="0.169" stop-color="#0000f1"/><stop offset="0.186" stop-color="#0000fc"/><stop offset="0.203" stop-color="#0010ff"/><stop offset="0.220" stop-color="#0026ff"/><stop offset="0.237" stop-color="#003cff"/><stop offset="0.254" stop-color="#0052ff"/><stop offset="0.271" stop-color="#0068ff"/><stop offset="0.288" stop-color="#007eff"/><stop offset="0.305" stop-color="#0094ff"/><stop offset="0.322" stop-color="#00aaff"/><stop offset="0.339" stop-color="#00bfff"/><stop offset="0.356" stop-color="#00d5ff"/><stop offset="0.373" stop-color="#00ebff"/><stop offset="0.390" stop-color="#03ffff"/><stop offset="0.407" stop-color="#1bffff"/><stop offset="0.424" stop-color="#34ffff"/><stop offset="0.441" stop-color="#4dffff"/><stop offset="0.458" stop-color="#66ffff"/><stop offset="0.475" stop-color="#7effff"/><stop offset="0.492" stop-color="#97ffff"/><stop offset="0.508" stop-color="#b0ffff"/><stop offset="0.525" stop-color="#c8ffff"/><stop offset="0.542" stop-color="#e1ffff"/><stop offset="0.559" stop-color="#faffff"/><stop offset="0.576" stop-color="#ffefef"/><stop offset="0.593" stop-color="#ffdcdc"/><stop offset="0.610" stop-color="#ffc8c8"/><stop offset="0.627" stop-color="#ffb4b4"/><stop offset="0.644" stop-color="#ffa0a0"/><stop offset="0.661" stop-color="#ff8c8c"/><stop offset="0.678" stop-color="#ff7979"/><stop offset="0.695" stop-color="#ff6565"/><stop offset="0.712" stop-color="#ff5151"/><stop offset="0.729" stop-color="#ff3d3d"/><stop offset="0.746" stop-color="#ff2a2a"/><stop offset="0.763" stop-color="#ff1616"/><stop offset="0.780" stop-color="#ff0202"/><stop offset="0.797" stop-color="#f60000"/><stop offset="0.814" stop-color="#ec0000"/><stop offset="0.831" stop-color="#e20000"/><stop offset="0.847" stop-color="#d90000"/><stop offset="0.864" stop-color="#cf0000"/><stop offset="0.881" stop-color="#c50000"/><stop offset="0.898" stop-color="#bb0000"/><stop offset="0.915" stop-color="#b10000"/><stop offset="0.932" stop-color="#a70000"/><stop offset="0.949" stop-color="#9e0000"/><stop offset="0.966" stop-color="#940000"/><stop offset="0.983" stop-color="#8a0000"/><stop offset="1.000" stop-color="#800000"/></linearGradient>
<linearGradient id="hb0" gradientUnits="userSpaceOnUse" x1="377.7" x2="545.8"><stop offset="0" stop-color="#ffffff"/><stop offset=".125" stop-color="#f3ffff"/><stop offset=".173" stop-color="#d0ffff"/><stop offset=".208" stop-color="#8fffff"/><stop offset=".238" stop-color="#2fffff"/><stop offset=".25" stop-color="#00fcff"/><stop offset=".291" stop-color="#003cff"/><stop offset=".303" stop-color="#0000ff"/><stop offset=".351" stop-color="#00008d"/><stop offset=".363" stop-color="#000080"/><stop offset=".399" stop-color="#000080"/><stop offset=".41" stop-color="#0000a2"/><stop offset=".422" stop-color="#0000df"/><stop offset=".428" stop-color="#0010ff"/><stop offset=".446" stop-color="#00f5ff"/><stop offset=".458" stop-color="#6affff"/><stop offset=".47" stop-color="#a8ffff"/><stop offset=".488" stop-color="#c9ffff"/><stop offset=".565" stop-color="#d4ffff"/><stop offset=".999" stop-color="#d4ffff"/></linearGradient>
<linearGradient id="hb1" gradientUnits="userSpaceOnUse" x1="377.7" x2="545.8"><stop offset="0" stop-color="#ffffff"/><stop offset=".125" stop-color="#f4ffff"/><stop offset=".173" stop-color="#d1ffff"/><stop offset=".208" stop-color="#90ffff"/><stop offset=".238" stop-color="#31ffff"/><stop offset=".25" stop-color="#00feff"/><stop offset=".291" stop-color="#003eff"/><stop offset=".303" stop-color="#0001ff"/><stop offset=".351" stop-color="#00008e"/><stop offset=".363" stop-color="#000080"/><stop offset=".399" stop-color="#000080"/><stop offset=".41" stop-color="#0000a0"/><stop offset=".422" stop-color="#0000dd"/><stop offset=".428" stop-color="#000cff"/><stop offset=".446" stop-color="#00f2ff"/><stop offset=".452" stop-color="#34ffff"/><stop offset=".458" stop-color="#68ffff"/><stop offset=".47" stop-color="#a7ffff"/><stop offset=".488" stop-color="#c9ffff"/><stop offset=".559" stop-color="#d4ffff"/><stop offset=".999" stop-color="#d4ffff"/></linearGradient>
<linearGradient id="hb2" gradientUnits="userSpaceOnUse" x1="377.7" x2="545.8"><stop offset="0" stop-color="#ffffff"/><stop offset=".131" stop-color="#f2ffff"/><stop offset=".178" stop-color="#cbffff"/><stop offset=".208" stop-color="#93ffff"/><stop offset=".238" stop-color="#34ffff"/><stop offset=".25" stop-color="#02ffff"/><stop offset=".286" stop-color="#005fff"/><stop offset=".303" stop-color="#0004ff"/><stop offset=".351" stop-color="#00008e"/><stop offset=".363" stop-color="#000080"/><stop offset=".399" stop-color="#000080"/><stop offset=".41" stop-color="#00009f"/><stop offset=".428" stop-color="#0007ff"/><stop offset=".446" stop-color="#00eeff"/><stop offset=".452" stop-color="#31ffff"/><stop offset=".458" stop-color="#65ffff"/><stop offset=".47" stop-color="#a6ffff"/><stop offset=".488" stop-color="#c9ffff"/><stop offset=".559" stop-color="#d5ffff"/><stop offset=".999" stop-color="#d5ffff"/></linearGradient>
<linearGradient id="hb3" gradientUnits="userSpaceOnUse" x1="377.7" x2="545.8"><stop offset="0" stop-color="#ffffff"/><stop offset=".131" stop-color="#f3ffff"/><stop offset=".178" stop-color="#cdffff"/><stop offset=".208" stop-color="#95ffff"/><stop offset=".238" stop-color="#37ffff"/><stop offset=".25" stop-color="#06ffff"/><stop offset=".274" stop-color="#009cff"/><stop offset=".303" stop-color="#0006ff"/><stop offset=".351" stop-color="#00008e"/><stop offset=".363" stop-color="#000080"/><stop offset=".399" stop-color="#000080"/><stop offset=".41" stop-color="#00009d"/><stop offset=".422" stop-color="#0000d8"/><stop offset=".428" stop-color="#0001ff"/><stop offset=".446" stop-color="#00e9ff"/><stop offset=".452" stop-color="#2dffff"/><stop offset=".458" stop-color="#62ffff"/><stop offset=".464" stop-color="#89ffff"/><stop offset=".476" stop-color="#b6ffff"/><stop offset=".5" stop-color="#d1ffff"/><stop offset=".999" stop-color="#d5ffff"/></linearGradient>
<linearGradient id="hb4" gradientUnits="userSpaceOnUse" x1="377.7" x2="545.8"><stop offset="0" stop-color="#ffffff"/><stop offset=".131" stop-color="#f3ffff"/><stop offset=".178" stop-color="#ceffff"/><stop offset=".208" stop-color="#98ffff"/><stop offset=".238" stop-color="#3bffff"/><stop offset=".25" stop-color="#0affff"/><stop offset=".262" stop-color="#00d6ff"/><stop offset=".303" stop-color="#0009ff"/><stop offset=".315" stop-color="#0000e3"/><stop offset=".357" stop-color="#000084"/><stop offset=".399" stop-color="#000080"/><stop offset=".41" stop-color="#00009c"/><stop offset=".422" stop-color="#0000d6"/><stop offset=".428" stop-color="#0000fd"/><stop offset=".446" stop-color="#00e5ff"/><stop offset=".452" stop-color="#29ffff"/><stop offset=".458" stop-color="#5fffff"/><stop offset=".464" stop-color="#87ffff"/><stop offset=".476" stop-color="#b6ffff"/><stop offset=".5" stop-color="#d1ffff"/><stop offset=".999" stop-color="#d5ffff"/></linearGradient>
<linearGradient id="hb5" gradientUnits="userSpaceOnUse" x1="377.7" x2="545.8"><stop offset="0" stop-color="#ffffff"/><stop offset=".131" stop-color="#f4ffff"/><stop offset=".178" stop-color="#d2ffff"/><stop offset=".208" stop-color="#9dffff"/><stop offset=".238" stop-color="#42ffff"/><stop offset=".256" stop-color="#00f7ff"/><stop offset=".297" stop-color="#002fff"/><stop offset=".303" stop-color="#0010ff"/><stop offset=".309" stop-color="#0000f7"/><stop offset=".351" stop-color="#000090"/><stop offset=".363" stop-color="#000080"/><stop offset=".399" stop-color="#000080"/><stop offset=".41" stop-color="#00009b"/><stop offset=".422" stop-color="#0000d4"/><stop offset=".428" stop-color="#0000fb"/><stop offset=".446" stop-color="#00e2ff"/><stop offset=".452" stop-color="#26ffff"/><stop offset=".458" stop-color="#5dffff"/><stop offset=".464" stop-color="#86ffff"/><stop offset=".476" stop-color="#b5ffff"/><stop offset=".494" stop-color="#ceffff"/><stop offset=".714" stop-color="#d6ffff"/><stop offset=".999" stop-color="#d6ffff"/></linearGradient>
<linearGradient id="hb6" gradientUnits="userSpaceOnUse" x1="377.7" x2="545.8"><stop offset="0" stop-color="#ffffff"/><stop offset=".137" stop-color="#f4ffff"/><stop offset=".184" stop-color="#d0ffff"/><stop offset=".214" stop-color="#98ffff"/><stop offset=".244" stop-color="#37ffff"/><stop offset=".256" stop-color="#04ffff"/><stop offset=".286" stop-color="#0078ff"/><stop offset=".309" stop-color="#0000fc"/><stop offset=".351" stop-color="#000093"/><stop offset=".363" stop-color="#000080"/><stop offset=".399" stop-color="#000080"/><stop offset=".41" stop-color="#00009a"/><stop offset=".422" stop-color="#0000d3"/><stop offset=".428" stop-color="#0000f9"/><stop offset=".446" stop-color="#00dfff"/><stop offset=".452" stop-color="#23ffff"/><stop offset=".458" stop-color="#5bffff"/><stop offset=".464" stop-color="#85ffff"/><stop offset=".476" stop-color="#b5ffff"/><stop offset=".494" stop-color="#ceffff"/><stop offset=".69" stop-color="#d6ffff"/><stop offset=".999" stop-color="#d6ffff"/></linearGradient>
<linearGradient id="hb7" gradientUnits="userSpaceOnUse" x1="377.7" x2="545.8"><stop offset="0" stop-color="#ffffff"/><stop offset=".143" stop-color="#f4ffff"/><stop offset=".19" stop-color="#cdffff"/><stop offset=".22" stop-color="#92ffff"/><stop offset=".25" stop-color="#2cffff"/><stop offset=".262" stop-color="#00f6ff"/><stop offset=".297" stop-color="#0047ff"/><stop offset=".309" stop-color="#0006ff"/><stop offset=".357" stop-color="#000089"/><stop offset=".369" stop-color="#000080"/><stop offset=".399" stop-color="#000080"/><stop offset=".41" stop-color="#000099"/><stop offset=".422" stop-color="#0000d1"/><stop offset=".428" stop-color="#0000f8"/><stop offset=".434" stop-color="#0042ff"/><stop offset=".446" stop-color="#00ddff"/><stop offset=".452" stop-color="#21ffff"/><stop offset=".458" stop-color="#5affff"/><stop offset=".464" stop-color="#84ffff"/><stop offset=".476" stop-color="#b5ffff"/><stop offset=".494" stop-color="#ceffff"/><stop offset=".678" stop-color="#d6ffff"/><stop offset=".999" stop-color="#d6ffff"/></linearGradient>
<linearGradient id="hb8" gradientUnits="userSpaceOnUse" x1="377.7" x2="545.8"><stop offset="0" stop-color="#ffffff"/><stop offset=".149" stop-color="#f4ffff"/><stop offset=".19" stop-color="#d3ffff"/><stop offset=".22" stop-color="#9bffff"/><stop offset=".25" stop-color="#39ffff"/><stop offset=".262" stop-color="#04ffff"/><stop offset=".286" stop-color="#0092ff"/><stop offset=".309" stop-color="#0012ff"/><stop offset=".315" stop-color="#0000f7"/><stop offset=".357" stop-color="#00008b"/><stop offset=".369" stop-color="#000080"/><stop offset=".405" stop-color="#000087"/><stop offset=".416" stop-color="#0000b1"/><stop offset=".428" stop-color="#0000f6"/><stop offset=".434" stop-color="#003fff"/><stop offset=".446" stop-color="#00daff"/><stop offset=".452" stop-color="#1fffff"/><stop offset=".458" stop-color="#58ffff"/><stop offset=".464" stop-color="#83ffff"/><stop offset=".476" stop-color="#b4ffff"/><stop offset=".494" stop-color="#ceffff"/><stop offset=".66" stop-color="#d7ffff"/><stop offset=".999" stop-color="#d7ffff"/></linearGradient>
<linearGradient id="hb9" gradientUnits="userSpaceOnUse" x1="377.7" x2="545.8"><stop offset="0" stop-color="#ffffff"/><stop offset=".149" stop-color="#f5ffff"/><stop offset=".19" stop-color="#d9ffff"/><stop offset=".22" stop-color="#a5ffff"/><stop offset=".25" stop-color="#46ffff"/><stop offset=".262" stop-color="#12ffff"/><stop offset=".268" stop-color="#00f5ff"/><stop offset=".303" stop-color="#003fff"/><stop offset=".315" stop-color="#0000fd"/><stop offset=".357" stop-color="#00008e"/><stop offset=".363" stop-color="#000081"/><stop offset=".405" stop-color="#000086"/><stop offset=".416" stop-color="#0000b0"/><stop offset=".428" stop-color="#0000f5"/><stop offset=".434" stop-color="#003cff"/><stop offset=".446" stop-color="#00d8ff"/><stop offset=".452" stop-color="#1dffff"/><stop offset=".458" stop-color="#57ffff"/><stop offset=".464" stop-color="#82ffff"/><stop offset=".476" stop-color="#b4ffff"/><stop offset=".494" stop-color="#cfffff"/><stop offset=".648" stop-color="#d7ffff"/><stop offset=".999" stop-color="#d7ffff"/></linearGradient>
<linearGradient id="hb10" gradientUnits="userSpaceOnUse" x1="377.7" x2="545.8"><stop offset="0" stop-color="#fffefe"/><stop offset=".155" stop-color="#f5ffff"/><stop offset=".196" stop-color="#d7ffff"/><stop offset=".226" stop-color="#9fffff"/><stop offset=".25" stop-color="#53ffff"/><stop offset=".268" stop-color="#04ffff"/><stop offset=".291" stop-color="#008eff"/><stop offset=".315" stop-color="#0009ff"/><stop offset=".333" stop-color="#0000ce"/><stop offset=".363" stop-color="#000083"/><stop offset=".405" stop-color="#000086"/><stop offset=".416" stop-color="#0000af"/><stop offset=".428" stop-color="#0000f4"/><stop offset=".434" stop-color="#003aff"/><stop offset=".446" stop-color="#00d6ff"/><stop offset=".452" stop-color="#1cffff"/><stop offset=".458" stop-color="#56ffff"/><stop offset=".464" stop-color="#81ffff"/><stop offset=".476" stop-color="#b4ffff"/><stop offset=".494" stop-color="#cfffff"/><stop offset=".648" stop-color="#d7ffff"/><stop offset=".999" stop-color="#d7ffff"/></linearGradient>
<linearGradient id="hb11" gradientUnits="userSpaceOnUse" x1="377.7" x2="545.8"><stop offset="0" stop-color="#fffefe"/><stop offset=".161" stop-color="#f5ffff"/><stop offset=".202" stop-color="#d6ffff"/><stop offset=".232" stop-color="#9bffff"/><stop offset=".256" stop-color="#4affff"/><stop offset=".274" stop-color="#00f7ff"/><stop offset=".309" stop-color="#0039ff"/><stop offset=".321" stop-color="#0000f9"/><stop offset=".363" stop-color="#000086"/><stop offset=".405" stop-color="#000085"/><stop offset=".416" stop-color="#0000ae"/><stop offset=".428" stop-color="#0000f3"/><stop offset=".434" stop-color="#0039ff"/><stop offset=".446" stop-color="#00d7ff"/><stop offset=".452" stop-color="#1dffff"/><stop offset=".458" stop-color="#58ffff"/><stop offset=".464" stop-color="#83ffff"/><stop offset=".476" stop-color="#b5ffff"/><stop offset=".494" stop-color="#d0ffff"/><stop offset=".672" stop-color="#d8ffff"/><stop offset=".999" stop-color="#d8ffff"/></linearGradient>
<linearGradient id="hb12" gradientUnits="userSpaceOnUse" x1="377.7" x2="545.8"><stop offset="0" stop-color="#fffdfd"/><stop offset=".071" stop-color="#fffdfd"/><stop offset=".178" stop-color="#f2ffff"/><stop offset=".214" stop-color="#ccffff"/><stop offset=".244" stop-color="#84ffff"/><stop offset=".268" stop-color="#26ffff"/><stop offset=".274" stop-color="#08ffff"/><stop offset=".286" stop-color="#00cdff"/><stop offset=".321" stop-color="#0002ff"/><stop offset=".363" stop-color="#000088"/><stop offset=".381" stop-color="#000080"/><stop offset=".405" stop-color="#000085"/><stop offset=".416" stop-color="#0000ad"/><stop offset=".428" stop-color="#0000f3"/><stop offset=".434" stop-color="#0039ff"/><stop offset=".446" stop-color="#00d8ff"/><stop offset=".452" stop-color="#1fffff"/><stop offset=".458" stop-color="#5affff"/><stop offset=".464" stop-color="#85ffff"/><stop offset=".476" stop-color="#b7ffff"/><stop offset=".494" stop-color="#d0ffff"/><stop offset=".714" stop-color="#d8ffff"/><stop offset=".999" stop-color="#d8ffff"/></linearGradient>
<linearGradient id="hb13" gradientUnits="userSpaceOnUse" x1="377.7" x2="545.8"><stop offset="0" stop-color="#fffcfc"/><stop offset=".054" stop-color="#fff5f5"/><stop offset=".155" stop-color="#fcffff"/><stop offset=".196" stop-color="#ecffff"/><stop offset=".226" stop-color="#c0ffff"/><stop offset=".25" stop-color="#7effff"/><stop offset=".28" stop-color="#00fbff"/><stop offset=".309" stop-color="#0058ff"/><stop offset=".321" stop-color="#0010ff"/><stop offset=".327" stop-color="#0000f4"/><stop offset=".363" stop-color="#00008b"/><stop offset=".375" stop-color="#000080"/><stop offset=".405" stop-color="#000084"/><stop offset=".416" stop-color="#0000ac"/><stop offset=".428" stop-color="#0000f2"/><stop offset=".434" stop-color="#0039ff"/><stop offset=".446" stop-color="#00daff"/><stop offset=".452" stop-color="#21ffff"/><stop offset=".458" stop-color="#5cffff"/><stop offset=".464" stop-color="#87ffff"/><stop offset=".476" stop-color="#b8ffff"/><stop offset=".494" stop-color="#d1ffff"/><stop offset=".785" stop-color="#d8ffff"/><stop offset=".999" stop-color="#d8ffff"/></linearGradient>
<linearGradient id="hb14" gradientUnits="userSpaceOnUse" x1="377.7" x2="545.8"><stop offset="0" stop-color="#fffafa"/><stop offset=".048" stop-color="#ffefef"/><stop offset=".119" stop-color="#ffffff"/><stop offset=".19" stop-color="#f7ffff"/><stop offset=".22" stop-color="#d5ffff"/><stop offset=".25" stop-color="#8bffff"/><stop offset=".274" stop-color="#2bffff"/><stop offset=".28" stop-color="#0dffff"/><stop offset=".286" stop-color="#00eeff"/><stop offset=".327" stop-color="#0000fc"/><stop offset=".369" stop-color="#000080"/><stop offset=".405" stop-color="#000084"/><stop offset=".416" stop-color="#0000ac"/><stop offset=".428" stop-color="#0000f2"/><stop offset=".434" stop-color="#0039ff"/><stop offset=".446" stop-color="#00dbff"/><stop offset=".452" stop-color="#23ffff"/><stop offset=".458" stop-color="#5dffff"/><stop offset=".464" stop-color="#88ffff"/><stop offset=".476" stop-color="#b9ffff"/><stop offset=".494" stop-color="#d2ffff"/><stop offset=".898" stop-color="#d9ffff"/><stop offset=".999" stop-color="#d9ffff"/></linearGradient>
<linearGradient id="hb15" gradientUnits="userSpaceOnUse" x1="377.7" x2="545.8"><stop offset="0" stop-color="#fff9f9"/><stop offset=".048" stop-color="#ffecec"/><stop offset=".107" stop-color="#ffffff"/><stop offset=".196" stop-color="#f9ffff"/><stop offset=".226" stop-color="#d3ffff"/><stop offset=".256" stop-color="#84ffff"/><stop offset=".28" stop-color="#1effff"/><stop offset=".286" stop-color="#00fdff"/><stop offset=".315" stop-color="#0054ff"/><stop offset=".327" stop-color="#0009ff"/><stop offset=".345" stop-color="#0000c8"/><stop offset=".369" stop-color="#000083"/><stop offset=".405" stop-color="#000084"/><stop offset=".416" stop-color="#0000ac"/><stop offset=".428" stop-color="#0000f2"/><stop offset=".434" stop-color="#003aff"/><stop offset=".446" stop-color="#00dcff"/><stop offset=".452" stop-color="#24ffff"/><stop offset=".458" stop-color="#5fffff"/><stop offset=".464" stop-color="#8affff"/><stop offset=".476" stop-color="#baffff"/><stop offset=".494" stop-color="#d2ffff"/><stop offset=".999" stop-color="#d9ffff"/></linearGradient>
<linearGradient id="hb16" gradientUnits="userSpaceOnUse" x1="377.7" x2="545.8"><stop offset="0" stop-color="#fff9f9"/><stop offset=".042" stop-color="#ffe8e8"/><stop offset=".107" stop-color="#ffffff"/><stop offset=".19" stop-color="#fffafa"/><stop offset=".22" stop-color="#e6ffff"/><stop offset=".25" stop-color="#a3ffff"/><stop offset=".274" stop-color="#49ffff"/><stop offset=".286" stop-color="#0effff"/><stop offset=".291" stop-color="#00edff"/><stop offset=".327" stop-color="#0017ff"/><stop offset=".333" stop-color="#0000f7"/><stop offset=".369" stop-color="#000087"/><stop offset=".399" stop-color="#000080"/><stop offset=".41" stop-color="#000096"/><stop offset=".422" stop-color="#0000cc"/><stop offset=".428" stop-color="#0000f3"/><stop offset=".434" stop-color="#003bff"/><stop offset=".446" stop-color="#00ddff"/><stop offset=".452" stop-color="#25ffff"/><stop offset=".458" stop-color="#60ffff"/><stop offset=".464" stop-color="#8affff"/><stop offset=".476" stop-color="#bbffff"/><stop offset=".494" stop-color="#d2ffff"/><stop offset=".999" stop-color="#d9ffff"/></linearGradient>
<linearGradient id="hb17" gradientUnits="userSpaceOnUse" x1="377.7" x2="545.8"><stop offset="0" stop-color="#fff9f9"/><stop offset=".042" stop-color="#ffe9e9"/><stop offset=".107" stop-color="#ffffff"/><stop offset=".19" stop-color="#fff1f1"/><stop offset=".208" stop-color="#fbffff"/><stop offset=".238" stop-color="#cbffff"/><stop offset=".262" stop-color="#87ffff"/><stop offset=".286" stop-color="#1dffff"/><stop offset=".291" stop-color="#00fcff"/><stop offset=".321" stop-color="#004dff"/><stop offset=".333" stop-color="#0000ff"/><stop offset=".369" stop-color="#00008b"/><stop offset=".381" stop-color="#000080"/><stop offset=".405" stop-color="#000087"/><stop offset=".416" stop-color="#0000ae"/><stop offset=".428" stop-color="#0000f4"/><stop offset=".434" stop-color="#003dff"/><stop offset=".446" stop-color="#00deff"/><stop offset=".452" stop-color="#26ffff"/><stop offset=".458" stop-color="#60ffff"/><stop offset=".464" stop-color="#8bffff"/><stop offset=".476" stop-color="#bbffff"/><stop offset=".494" stop-color="#d3ffff"/><stop offset=".999" stop-color="#d9ffff"/></linearGradient>
<linearGradient id="hb18" gradientUnits="userSpaceOnUse" x1="377.7" x2="545.8"><stop offset="0" stop-color="#fffafa"/><stop offset=".048" stop-color="#ffeeee"/><stop offset=".113" stop-color="#ffffff"/><stop offset=".173" stop-color="#fff1f1"/><stop offset=".196" stop-color="#ffeded"/><stop offset=".214" stop-color="#faffff"/><stop offset=".244" stop-color="#c6ffff"/><stop offset=".268" stop-color="#7dffff"/><stop offset=".291" stop-color="#0dffff"/><stop offset=".297" stop-color="#00ecff"/><stop offset=".333" stop-color="#000eff"/><stop offset=".339" stop-color="#0000f1"/><stop offset=".369" stop-color="#000090"/><stop offset=".381" stop-color="#000080"/><stop offset=".399" stop-color="#000080"/><stop offset=".41" stop-color="#000098"/><stop offset=".422" stop-color="#0000cf"/><stop offset=".428" stop-color="#0000f5"/><stop offset=".434" stop-color="#003fff"/><stop offset=".446" stop-color="#00dfff"/><stop offset=".452" stop-color="#27ffff"/><stop offset=".458" stop-color="#61ffff"/><stop offset=".464" stop-color="#8cffff"/><stop offset=".476" stop-color="#bbffff"/><stop offset=".494" stop-color="#d3ffff"/><stop offset=".999" stop-color="#daffff"/></linearGradient>
<linearGradient id="hb19" gradientUnits="userSpaceOnUse" x1="377.7" x2="545.8"><stop offset="0" stop-color="#fffbfb"/><stop offset=".054" stop-color="#fff4f4"/><stop offset=".137" stop-color="#fffefe"/><stop offset=".196" stop-color="#ffe5e5"/><stop offset=".22" stop-color="#f9ffff"/><stop offset=".25" stop-color="#c1ffff"/><stop offset=".274" stop-color="#73ffff"/><stop offset=".297" stop-color="#00fbff"/><stop offset=".327" stop-color="#0046ff"/><stop offset=".339" stop-color="#0000fa"/><stop offset=".369" stop-color="#000095"/><stop offset=".381" stop-color="#000080"/><stop offset=".399" stop-color="#000082"/><stop offset=".41" stop-color="#00009b"/><stop offset=".422" stop-color="#0000d1"/><stop offset=".428" stop-color="#0000f8"/><stop offset=".434" stop-color="#0043ff"/><stop offset=".446" stop-color="#00e2ff"/><stop offset=".452" stop-color="#29ffff"/><stop offset=".458" stop-color="#63ffff"/><stop offset=".464" stop-color="#8dffff"/><stop offset=".476" stop-color="#bcffff"/><stop offset=".494" stop-color="#d4ffff"/><stop offset=".999" stop-color="#dbffff"/></linearGradient>
<linearGradient id="hb20" gradientUnits="userSpaceOnUse" x1="377.7" x2="545.8"><stop offset="0" stop-color="#fffdfd"/><stop offset=".065" stop-color="#fffbfb"/><stop offset=".155" stop-color="#fffafa"/><stop offset=".202" stop-color="#ffe0e0"/><stop offset=".22" stop-color="#ffffff"/><stop offset=".25" stop-color="#cbffff"/><stop offset=".274" stop-color="#82ffff"/><stop offset=".297" stop-color="#10ffff"/><stop offset=".303" stop-color="#00eeff"/><stop offset=".339" stop-color="#000aff"/><stop offset=".351" stop-color="#0000da"/><stop offset=".375" stop-color="#000091"/><stop offset=".393" stop-color="#000086"/><stop offset=".41" stop-color="#0000a5"/><stop offset=".422" stop-color="#0000db"/><stop offset=".428" stop-color="#0003ff"/><stop offset=".446" stop-color="#00ecff"/><stop offset=".452" stop-color="#31ffff"/><stop offset=".458" stop-color="#68ffff"/><stop offset=".464" stop-color="#91ffff"/><stop offset=".476" stop-color="#beffff"/><stop offset=".5" stop-color="#d7ffff"/><stop offset=".999" stop-color="#dbffff"/></linearGradient>
<linearGradient id="hb21" gradientUnits="userSpaceOnUse" x1="377.7" x2="545.8"><stop offset="0" stop-color="#fffefe"/><stop offset=".161" stop-color="#fff8f8"/><stop offset=".202" stop-color="#ffd8d8"/><stop offset=".22" stop-color="#ffefef"/><stop offset=".226" stop-color="#feffff"/><stop offset=".256" stop-color="#c7ffff"/><stop offset=".28" stop-color="#7affff"/><stop offset=".303" stop-color="#03ffff"/><stop offset=".327" stop-color="#0071ff"/><stop offset=".345" stop-color="#0000fb"/><stop offset=".375" stop-color="#00009e"/><stop offset=".393" stop-color="#000092"/><stop offset=".41" stop-color="#0000b1"/><stop offset=".422" stop-color="#0000e7"/><stop offset=".428" stop-color="#0018ff"/><stop offset=".446" stop-color="#00f8ff"/><stop offset=".458" stop-color="#6fffff"/><stop offset=".47" stop-color="#afffff"/><stop offset=".488" stop-color="#d2ffff"/><stop offset=".565" stop-color="#dcffff"/><stop offset=".999" stop-color="#dcffff"/></linearGradient>
<linearGradient id="hb22" gradientUnits="userSpaceOnUse" x1="377.7" x2="545.8"><stop offset="0" stop-color="#fffefe"/><stop offset=".161" stop-color="#fff8f8"/><stop offset=".208" stop-color="#ffd3d3"/><stop offset=".226" stop-color="#ffefef"/><stop offset=".232" stop-color="#fdffff"/><stop offset=".262" stop-color="#c3ffff"/><stop offset=".286" stop-color="#72ffff"/><stop offset=".303" stop-color="#18ffff"/><stop offset=".309" stop-color="#00f5ff"/><stop offset=".345" stop-color="#0010ff"/><stop offset=".351" stop-color="#0000f2"/><stop offset=".375" stop-color="#0000aa"/><stop offset=".393" stop-color="#00009e"/><stop offset=".41" stop-color="#0000be"/><stop offset=".422" stop-color="#0000f3"/><stop offset=".428" stop-color="#002dff"/><stop offset=".44" stop-color="#00c0ff"/><stop offset=".446" stop-color="#05ffff"/><stop offset=".452" stop-color="#45ffff"/><stop offset=".458" stop-color="#76ffff"/><stop offset=".47" stop-color="#b2ffff"/><stop offset=".488" stop-color="#d3ffff"/><stop offset=".577" stop-color="#ddffff"/><stop offset=".999" stop-color="#ddffff"/></linearGradient>
<linearGradient id="hb23" gradientUnits="userSpaceOnUse" x1="377.7" x2="545.8"><stop offset="0" stop-color="#ffffff"/><stop offset=".161" stop-color="#fff9f9"/><stop offset=".208" stop-color="#ffcccc"/><stop offset=".226" stop-color="#ffe0e0"/><stop offset=".238" stop-color="#fcffff"/><stop offset=".268" stop-color="#bfffff"/><stop offset=".291" stop-color="#6affff"/><stop offset=".309" stop-color="#0bffff"/><stop offset=".315" stop-color="#00e7ff"/><stop offset=".351" stop-color="#0000fe"/><stop offset=".375" stop-color="#0000b7"/><stop offset=".393" stop-color="#0000aa"/><stop offset=".41" stop-color="#0000ca"/><stop offset=".422" stop-color="#0000ff"/><stop offset=".44" stop-color="#00cfff"/><stop offset=".446" stop-color="#12ffff"/><stop offset=".452" stop-color="#4effff"/><stop offset=".458" stop-color="#7cffff"/><stop offset=".47" stop-color="#b5ffff"/><stop offset=".488" stop-color="#d4ffff"/><stop offset=".589" stop-color="#ddffff"/><stop offset=".999" stop-color="#ddffff"/></linearGradient>
<linearGradient id="hb24" gradientUnits="userSpaceOnUse" x1="377.7" x2="545.8"><stop offset="0" stop-color="#ffffff"/><stop offset=".161" stop-color="#fff9f9"/><stop offset=".214" stop-color="#ffc6c6"/><stop offset=".232" stop-color="#ffe1e1"/><stop offset=".244" stop-color="#faffff"/><stop offset=".274" stop-color="#baffff"/><stop offset=".297" stop-color="#60ffff"/><stop offset=".315" stop-color="#00fbff"/><stop offset=".351" stop-color="#0016ff"/><stop offset=".357" stop-color="#0000f6"/><stop offset=".375" stop-color="#0000c4"/><stop offset=".393" stop-color="#0000b7"/><stop offset=".41" stop-color="#0000d8"/><stop offset=".416" stop-color="#0000ee"/><stop offset=".422" stop-color="#0017ff"/><stop offset=".44" stop-color="#00deff"/><stop offset=".446" stop-color="#1fffff"/><stop offset=".452" stop-color="#57ffff"/><stop offset=".458" stop-color="#83ffff"/><stop offset=".47" stop-color="#b8ffff"/><stop offset=".488" stop-color="#d5ffff"/><stop offset=".601" stop-color="#deffff"/><stop offset=".999" stop-color="#deffff"/></linearGradient>
<linearGradient id="hb25" gradientUnits="userSpaceOnUse" x1="377.7" x2="545.8"><stop offset="0" stop-color="#ffffff"/><stop offset=".161" stop-color="#fffafa"/><stop offset=".196" stop-color="#ffd3d3"/><stop offset=".214" stop-color="#ffc1c1"/><stop offset=".232" stop-color="#ffd5d5"/><stop offset=".244" stop-color="#fffdfd"/><stop offset=".274" stop-color="#c3ffff"/><stop offset=".297" stop-color="#6fffff"/><stop offset=".315" stop-color="#0fffff"/><stop offset=".321" stop-color="#00eaff"/><stop offset=".357" stop-color="#0008ff"/><stop offset=".381" stop-color="#0000cb"/><stop offset=".399" stop-color="#0000cf"/><stop offset=".416" stop-color="#0005ff"/><stop offset=".428" stop-color="#0076ff"/><stop offset=".44" stop-color="#00f3ff"/><stop offset=".446" stop-color="#30ffff"/><stop offset=".458" stop-color="#8affff"/><stop offset=".47" stop-color="#bbffff"/><stop offset=".488" stop-color="#d6ffff"/><stop offset=".607" stop-color="#dfffff"/><stop offset=".999" stop-color="#dfffff"/></linearGradient>
<linearGradient id="hb26" gradientUnits="userSpaceOnUse" x1="377.7" x2="545.8"><stop offset="0" stop-color="#ffffff"/><stop offset=".167" stop-color="#fff8f8"/><stop offset=".214" stop-color="#ffbdbd"/><stop offset=".232" stop-color="#ffcccc"/><stop offset=".25" stop-color="#fbffff"/><stop offset=".28" stop-color="#baffff"/><stop offset=".303" stop-color="#5effff"/><stop offset=".321" stop-color="#00f9ff"/><stop offset=".363" stop-color="#0002ff"/><stop offset=".381" stop-color="#0000df"/><stop offset=".399" stop-color="#0000e7"/><stop offset=".41" stop-color="#000bff"/><stop offset=".422" stop-color="#0066ff"/><stop offset=".434" stop-color="#00d6ff"/><stop offset=".44" stop-color="#0fffff"/><stop offset=".452" stop-color="#71ffff"/><stop offset=".464" stop-color="#acffff"/><stop offset=".482" stop-color="#d1ffff"/><stop offset=".535" stop-color="#dfffff"/><stop offset=".999" stop-color="#dfffff"/></linearGradient>
<linearGradient id="hb27" gradientUnits="userSpaceOnUse" x1="377.7" x2="545.8"><stop offset="0" stop-color="#ffffff"/><stop offset=".167" stop-color="#fff8f8"/><stop offset=".202" stop-color="#ffcaca"/><stop offset=".22" stop-color="#ffb8b8"/><stop offset=".238" stop-color="#ffd1d1"/><stop offset=".25" stop-color="#fffdfd"/><stop offset=".28" stop-color="#c1ffff"/><stop offset=".303" stop-color="#6affff"/><stop offset=".321" stop-color="#0affff"/><stop offset=".333" stop-color="#00c4ff"/><stop offset=".363" stop-color="#001eff"/><stop offset=".369" stop-color="#0006ff"/><stop offset=".387" stop-color="#0000f3"/><stop offset=".399" stop-color="#0001ff"/><stop offset=".41" stop-color="#0039ff"/><stop offset=".428" stop-color="#00c2ff"/><stop offset=".434" stop-color="#00f5ff"/><stop offset=".446" stop-color="#58ffff"/><stop offset=".458" stop-color="#9bffff"/><stop offset=".476" stop-color="#cbffff"/><stop offset=".512" stop-color="#deffff"/><stop offset=".999" stop-color="#e0ffff"/></linearGradient>
<linearGradient id="hb28" gradientUnits="userSpaceOnUse" x1="377.7" x2="545.8"><stop offset="0" stop-color="#ffffff"/><stop offset=".167" stop-color="#fff9f9"/><stop offset=".196" stop-color="#ffd5d5"/><stop offset=".22" stop-color="#ffb5b5"/><stop offset=".238" stop-color="#ffcaca"/><stop offset=".25" stop-color="#fff5f5"/><stop offset=".262" stop-color="#eeffff"/><stop offset=".291" stop-color="#9fffff"/><stop offset=".315" stop-color="#35ffff"/><stop offset=".321" stop-color="#14ffff"/><stop offset=".327" stop-color="#00f1ff"/><stop offset=".357" stop-color="#0052ff"/><stop offset=".375" stop-color="#0017ff"/><stop offset=".387" stop-color="#0012ff"/><stop offset=".399" stop-color="#002dff"/><stop offset=".41" stop-color="#0065ff"/><stop offset=".428" stop-color="#00e2ff"/><stop offset=".434" stop-color="#11ffff"/><stop offset=".446" stop-color="#67ffff"/><stop offset=".458" stop-color="#a1ffff"/><stop offset=".476" stop-color="#ccffff"/><stop offset=".512" stop-color="#dfffff"/><stop offset=".999" stop-color="#e1ffff"/></linearGradient>
<linearGradient id="hb29" gradientUnits="userSpaceOnUse" x1="377.7" x2="545.8"><stop offset="0" stop-color="#ffffff"/><stop offset=".167" stop-color="#fffafa"/><stop offset=".196" stop-color="#ffd7d7"/><stop offset=".22" stop-color="#ffb5b5"/><stop offset=".232" stop-color="#ffbcbc"/><stop offset=".244" stop-color="#ffdddd"/><stop offset=".25" stop-color="#fff6f6"/><stop offset=".268" stop-color="#deffff"/><stop offset=".297" stop-color="#82ffff"/><stop offset=".321" stop-color="#12ffff"/><stop offset=".327" stop-color="#00f2ff"/><stop offset=".357" stop-color="#0065ff"/><stop offset=".375" stop-color="#0037ff"/><stop offset=".387" stop-color="#0039ff"/><stop offset=".399" stop-color="#0057ff"/><stop offset=".416" stop-color="#00afff"/><stop offset=".428" stop-color="#00fcff"/><stop offset=".446" stop-color="#73ffff"/><stop offset=".464" stop-color="#b7ffff"/><stop offset=".488" stop-color="#d8ffff"/><stop offset=".607" stop-color="#e1ffff"/><stop offset=".999" stop-color="#e1ffff"/></linearGradient>
<linearGradient id="hb30" gradientUnits="userSpaceOnUse" x1="377.7" x2="545.8"><stop offset="0" stop-color="#ffffff"/><stop offset=".167" stop-color="#fffafa"/><stop offset=".196" stop-color="#ffdada"/><stop offset=".22" stop-color="#ffb7b7"/><stop offset=".232" stop-color="#ffbdbd"/><stop offset=".244" stop-color="#ffdfdf"/><stop offset=".25" stop-color="#fffafa"/><stop offset=".28" stop-color="#b9ffff"/><stop offset=".309" stop-color="#4affff"/><stop offset=".321" stop-color="#12ffff"/><stop offset=".327" stop-color="#00f4ff"/><stop offset=".357" stop-color="#007cff"/><stop offset=".375" stop-color="#005aff"/><stop offset=".387" stop-color="#0061ff"/><stop offset=".405" stop-color="#0096ff"/><stop offset=".422" stop-color="#00f2ff"/><stop offset=".428" stop-color="#17ffff"/><stop offset=".446" stop-color="#7cffff"/><stop offset=".464" stop-color="#b9ffff"/><stop offset=".488" stop-color="#d8ffff"/><stop offset=".595" stop-color="#e2ffff"/><stop offset=".999" stop-color="#e2ffff"/></linearGradient>
<linearGradient id="hb31" gradientUnits="userSpaceOnUse" x1="377.7" x2="545.8"><stop offset="0" stop-color="#ffffff"/><stop offset=".173" stop-color="#fff9f9"/><stop offset=".202" stop-color="#ffd3d3"/><stop offset=".22" stop-color="#ffbbbb"/><stop offset=".232" stop-color="#ffc0c0"/><stop offset=".244" stop-color="#ffe3e3"/><stop offset=".25" stop-color="#ffffff"/><stop offset=".28" stop-color="#b4ffff"/><stop offset=".315" stop-color="#32ffff"/><stop offset=".327" stop-color="#00ffff"/><stop offset=".357" stop-color="#009bff"/><stop offset=".375" stop-color="#0082ff"/><stop offset=".393" stop-color="#0096ff"/><stop offset=".41" stop-color="#00d2ff"/><stop offset=".422" stop-color="#0affff"/><stop offset=".446" stop-color="#80ffff"/><stop offset=".464" stop-color="#b7ffff"/><stop offset=".488" stop-color="#d6ffff"/><stop offset=".571" stop-color="#e3ffff"/><stop offset=".999" stop-color="#e3ffff"/></linearGradient>
<linearGradient id="hb32" gradientUnits="userSpaceOnUse" x1="377.7" x2="545.8"><stop offset="0" stop-color="#ffffff"/><stop offset=".173" stop-color="#fffbfb"/><stop offset=".202" stop-color="#ffd8d8"/><stop offset=".226" stop-color="#ffbcbc"/><stop offset=".238" stop-color="#ffcccc"/><stop offset=".25" stop-color="#fffcfc"/><stop offset=".286" stop-color="#a5ffff"/><stop offset=".333" stop-color="#06ffff"/><stop offset=".363" stop-color="#00bbff"/><stop offset=".381" stop-color="#00b0ff"/><stop offset=".399" stop-color="#00ccff"/><stop offset=".416" stop-color="#07ffff"/><stop offset=".446" stop-color="#80ffff"/><stop offset=".47" stop-color="#bdffff"/><stop offset=".506" stop-color="#ddffff"/><stop offset=".999" stop-color="#e3ffff"/></linearGradient>
<linearGradient id="hb33" gradientUnits="userSpaceOnUse" x1="377.7" x2="545.8"><stop offset="0" stop-color="#ffffff"/><stop offset=".178" stop-color="#fff9f9"/><stop offset=".208" stop-color="#ffcece"/><stop offset=".226" stop-color="#ffb3b3"/><stop offset=".238" stop-color="#ffbaba"/><stop offset=".25" stop-color="#ffe2e2"/><stop offset=".256" stop-color="#feffff"/><stop offset=".351" stop-color="#00fbff"/><stop offset=".375" stop-color="#00d8ff"/><stop offset=".393" stop-color="#00e4ff"/><stop offset=".405" stop-color="#00fdff"/><stop offset=".452" stop-color="#95ffff"/><stop offset=".482" stop-color="#cbffff"/><stop offset=".529" stop-color="#e1ffff"/><stop offset=".999" stop-color="#e4ffff"/></linearGradient>
<linearGradient id="hb34" gradientUnits="userSpaceOnUse" x1="377.7" x2="545.8"><stop offset="0" stop-color="#ffffff"/><stop offset=".178" stop-color="#fff9f9"/><stop offset=".202" stop-color="#ffd8d8"/><stop offset=".232" stop-color="#ff9898"/><stop offset=".244" stop-color="#ffa1a1"/><stop offset=".256" stop-color="#ffd3d3"/><stop offset=".262" stop-color="#fff9f9"/><stop offset=".357" stop-color="#02ffff"/><stop offset=".375" stop-color="#00ebff"/><stop offset=".399" stop-color="#06ffff"/><stop offset=".452" stop-color="#9bffff"/><stop offset=".482" stop-color="#cbffff"/><stop offset=".529" stop-color="#e2ffff"/><stop offset=".999" stop-color="#e5ffff"/></linearGradient>
<linearGradient id="hb35" gradientUnits="userSpaceOnUse" x1="377.7" x2="545.8"><stop offset="0" stop-color="#ffffff"/><stop offset=".178" stop-color="#fffafa"/><stop offset=".202" stop-color="#ffd8d8"/><stop offset=".232" stop-color="#ff7a7a"/><stop offset=".244" stop-color="#ff7474"/><stop offset=".25" stop-color="#ff8484"/><stop offset=".256" stop-color="#ffa2a2"/><stop offset=".268" stop-color="#feffff"/><stop offset=".315" stop-color="#6cffff"/><stop offset=".357" stop-color="#03ffff"/><stop offset=".375" stop-color="#00f2ff"/><stop offset=".393" stop-color="#06ffff"/><stop offset=".452" stop-color="#a1ffff"/><stop offset=".488" stop-color="#d2ffff"/><stop offset=".553" stop-color="#e4ffff"/><stop offset=".999" stop-color="#e6ffff"/></linearGradient>
<linearGradient id="hb36" gradientUnits="userSpaceOnUse" x1="377.7" x2="545.8"><stop offset="0" stop-color="#ffffff"/><stop offset=".178" stop-color="#fffbfb"/><stop offset=".196" stop-color="#ffe8e8"/><stop offset=".214" stop-color="#ffb0b0"/><stop offset=".232" stop-color="#ff5a5a"/><stop offset=".238" stop-color="#ff4747"/><stop offset=".244" stop-color="#ff4141"/><stop offset=".25" stop-color="#ff4d4d"/><stop offset=".256" stop-color="#ff6d6d"/><stop offset=".262" stop-color="#ff9d9d"/><stop offset=".268" stop-color="#ffdbdb"/><stop offset=".274" stop-color="#f4ffff"/><stop offset=".303" stop-color="#88ffff"/><stop offset=".351" stop-color="#0cffff"/><stop offset=".363" stop-color="#00f9ff"/><stop offset=".387" stop-color="#05ffff"/><stop offset=".452" stop-color="#a7ffff"/><stop offset=".488" stop-color="#d4ffff"/><stop offset=".559" stop-color="#e5ffff"/><stop offset=".999" stop-color="#e6ffff"/></linearGradient>
<linearGradient id="hb37" gradientUnits="userSpaceOnUse" x1="377.7" x2="545.8"><stop offset="0" stop-color="#ffffff"/><stop offset=".184" stop-color="#fff9f9"/><stop offset=".202" stop-color="#ffdcdc"/><stop offset=".214" stop-color="#ffabab"/><stop offset=".238" stop-color="#ff2020"/><stop offset=".244" stop-color="#ff1313"/><stop offset=".25" stop-color="#ff1c1c"/><stop offset=".256" stop-color="#ff3d3d"/><stop offset=".262" stop-color="#ff7474"/><stop offset=".274" stop-color="#fbffff"/><stop offset=".297" stop-color="#96ffff"/><stop offset=".345" stop-color="#16ffff"/><stop offset=".357" stop-color="#01ffff"/><stop offset=".381" stop-color="#05ffff"/><stop offset=".446" stop-color="#a2ffff"/><stop offset=".482" stop-color="#d1ffff"/><stop offset=".547" stop-color="#e5ffff"/><stop offset=".999" stop-color="#e7ffff"/></linearGradient>
<linearGradient id="hb38" gradientUnits="userSpaceOnUse" x1="377.7" x2="545.8"><stop offset="0" stop-color="#ffffff"/><stop offset=".184" stop-color="#fffbfb"/><stop offset=".202" stop-color="#ffe1e1"/><stop offset=".214" stop-color="#ffb0b0"/><stop offset=".238" stop-color="#ff1c1c"/><stop offset=".244" stop-color="#ff0d0d"/><stop offset=".25" stop-color="#ff1515"/><stop offset=".256" stop-color="#ff3737"/><stop offset=".262" stop-color="#ff7171"/><stop offset=".274" stop-color="#f8ffff"/><stop offset=".297" stop-color="#8fffff"/><stop offset=".339" stop-color="#1dffff"/><stop offset=".357" stop-color="#02ffff"/><stop offset=".375" stop-color="#08ffff"/><stop offset=".446" stop-color="#abffff"/><stop offset=".482" stop-color="#d5ffff"/><stop offset=".559" stop-color="#e7ffff"/><stop offset=".999" stop-color="#e7ffff"/></linearGradient>
<linearGradient id="hb39" gradientUnits="userSpaceOnUse" x1="377.7" x2="545.8"><stop offset="0" stop-color="#ffffff"/><stop offset=".19" stop-color="#fffafa"/><stop offset=".208" stop-color="#ffdada"/><stop offset=".226" stop-color="#ff8484"/><stop offset=".238" stop-color="#ff4a4a"/><stop offset=".244" stop-color="#ff4040"/><stop offset=".25" stop-color="#ff4c4c"/><stop offset=".256" stop-color="#ff6e6e"/><stop offset=".262" stop-color="#ffa7a7"/><stop offset=".268" stop-color="#fff0f0"/><stop offset=".274" stop-color="#e8ffff"/><stop offset=".297" stop-color="#84ffff"/><stop offset=".333" stop-color="#22ffff"/><stop offset=".351" stop-color="#08ffff"/><stop offset=".369" stop-color="#10ffff"/><stop offset=".434" stop-color="#a6ffff"/><stop offset=".47" stop-color="#d3ffff"/><stop offset=".535" stop-color="#e6ffff"/><stop offset=".999" stop-color="#e8ffff"/></linearGradient>
<linearGradient id="hb40" gradientUnits="userSpaceOnUse" x1="377.7" x2="545.8"><stop offset="0" stop-color="#ffffff"/><stop offset=".196" stop-color="#fffcfc"/><stop offset=".214" stop-color="#ffdfdf"/><stop offset=".238" stop-color="#ff9b9b"/><stop offset=".244" stop-color="#ff9c9c"/><stop offset=".25" stop-color="#ffacac"/><stop offset=".256" stop-color="#ffcfcf"/><stop offset=".262" stop-color="#feffff"/><stop offset=".297" stop-color="#76ffff"/><stop offset=".333" stop-color="#1bffff"/><stop offset=".351" stop-color="#0dffff"/><stop offset=".369" stop-color="#24ffff"/><stop offset=".422" stop-color="#a4ffff"/><stop offset=".458" stop-color="#d3ffff"/><stop offset=".529" stop-color="#e7ffff"/><stop offset=".999" stop-color="#e9ffff"/></linearGradient>
<linearGradient id="hb41" gradientUnits="userSpaceOnUse" x1="377.7" x2="545.8"><stop offset="0" stop-color="#ffffff"/><stop offset=".22" stop-color="#fffbfb"/><stop offset=".238" stop-color="#fff8f8"/><stop offset=".256" stop-color="#e9ffff"/><stop offset=".309" stop-color="#44ffff"/><stop offset=".333" stop-color="#17ffff"/><stop offset=".351" stop-color="#1bffff"/><stop offset=".416" stop-color="#b0ffff"/><stop offset=".452" stop-color="#d9ffff"/><stop offset=".553" stop-color="#e9ffff"/><stop offset=".999" stop-color="#e9ffff"/></linearGradient>
<linearGradient id="hb42" gradientUnits="userSpaceOnUse" x1="377.7" x2="545.8"><stop offset="0" stop-color="#ffffff"/><stop offset=".196" stop-color="#f5ffff"/><stop offset=".238" stop-color="#daffff"/><stop offset=".262" stop-color="#a9ffff"/><stop offset=".309" stop-color="#29ffff"/><stop offset=".327" stop-color="#19ffff"/><stop offset=".345" stop-color="#2effff"/><stop offset=".393" stop-color="#a6ffff"/><stop offset=".428" stop-color="#d9ffff"/><stop offset=".482" stop-color="#e7ffff"/><stop offset=".999" stop-color="#eaffff"/></linearGradient>
<linearGradient id="hb43" gradientUnits="userSpaceOnUse" x1="377.7" x2="545.8"><stop offset="0" stop-color="#ffffff"/><stop offset=".173" stop-color="#f5ffff"/><stop offset=".214" stop-color="#d4ffff"/><stop offset=".256" stop-color="#86ffff"/><stop offset=".297" stop-color="#24ffff"/><stop offset=".315" stop-color="#1dffff"/><stop offset=".339" stop-color="#4affff"/><stop offset=".381" stop-color="#b9ffff"/><stop offset=".416" stop-color="#e9ffff"/><stop offset=".452" stop-color="#f1ffff"/><stop offset=".589" stop-color="#eaffff"/><stop offset=".999" stop-color="#eaffff"/></linearGradient>
<linearGradient id="hb44" gradientUnits="userSpaceOnUse" x1="377.7" x2="545.8"><stop offset="0" stop-color="#ffffff"/><stop offset=".155" stop-color="#f6ffff"/><stop offset=".196" stop-color="#d6ffff"/><stop offset=".244" stop-color="#7cffff"/><stop offset=".286" stop-color="#20ffff"/><stop offset=".303" stop-color="#1fffff"/><stop offset=".327" stop-color="#51ffff"/><stop offset=".381" stop-color="#e1ffff"/><stop offset=".41" stop-color="#fffafa"/><stop offset=".434" stop-color="#ffe8e8"/><stop offset=".458" stop-color="#f9ffff"/><stop offset=".5" stop-color="#ebffff"/><stop offset=".999" stop-color="#ebffff"/></linearGradient>
<linearGradient id="hb45" gradientUnits="userSpaceOnUse" x1="377.7" x2="545.8"><stop offset="0" stop-color="#ffffff"/><stop offset=".149" stop-color="#f6ffff"/><stop offset=".19" stop-color="#d4ffff"/><stop offset=".238" stop-color="#78ffff"/><stop offset=".274" stop-color="#26ffff"/><stop offset=".291" stop-color="#1cffff"/><stop offset=".309" stop-color="#39ffff"/><stop offset=".363" stop-color="#d3ffff"/><stop offset=".381" stop-color="#fff6f6"/><stop offset=".393" stop-color="#ffc3c3"/><stop offset=".41" stop-color="#ffa0a0"/><stop offset=".428" stop-color="#ff9797"/><stop offset=".44" stop-color="#ffa8a8"/><stop offset=".464" stop-color="#fdffff"/><stop offset=".494" stop-color="#ecffff"/><stop offset=".999" stop-color="#ecffff"/></linearGradient>
<linearGradient id="hb46" gradientUnits="userSpaceOnUse" x1="377.7" x2="545.8"><stop offset="0" stop-color="#ffffff"/><stop offset=".143" stop-color="#f6ffff"/><stop offset=".184" stop-color="#d5ffff"/><stop offset=".232" stop-color="#79ffff"/><stop offset=".268" stop-color="#27ffff"/><stop offset=".286" stop-color="#1dffff"/><stop offset=".303" stop-color="#3cffff"/><stop offset=".351" stop-color="#c3ffff"/><stop offset=".363" stop-color="#f0ffff"/><stop offset=".369" stop-color="#ffecec"/><stop offset=".381" stop-color="#ff8989"/><stop offset=".393" stop-color="#ff5252"/><stop offset=".41" stop-color="#ff3333"/><stop offset=".428" stop-color="#ff3232"/><stop offset=".44" stop-color="#ff5151"/><stop offset=".452" stop-color="#ff9393"/><stop offset=".464" stop-color="#ffe3e3"/><stop offset=".47" stop-color="#fdffff"/><stop offset=".494" stop-color="#ecffff"/><stop offset=".999" stop-color="#ecffff"/></linearGradient>
<linearGradient id="hb47" gradientUnits="userSpaceOnUse" x1="377.7" x2="545.8"><stop offset="0" stop-color="#ffffff"/><stop offset=".143" stop-color="#f4ffff"/><stop offset=".184" stop-color="#ceffff"/><stop offset=".232" stop-color="#6effff"/><stop offset=".262" stop-color="#28ffff"/><stop offset=".28" stop-color="#1effff"/><stop offset=".297" stop-color="#3dffff"/><stop offset=".345" stop-color="#bfffff"/><stop offset=".357" stop-color="#f1ffff"/><stop offset=".363" stop-color="#ffdada"/><stop offset=".375" stop-color="#ff4b4b"/><stop offset=".381" stop-color="#ff1818"/><stop offset=".387" stop-color="#f90000"/><stop offset=".41" stop-color="#df0000"/><stop offset=".428" stop-color="#e30000"/><stop offset=".44" stop-color="#f80000"/><stop offset=".446" stop-color="#ff1b1b"/><stop offset=".464" stop-color="#ffc0c0"/><stop offset=".47" stop-color="#ffeeee"/><stop offset=".476" stop-color="#faffff"/><stop offset=".506" stop-color="#edffff"/><stop offset=".999" stop-color="#edffff"/></linearGradient>
<linearGradient id="hb48" gradientUnits="userSpaceOnUse" x1="377.7" x2="545.8"><stop offset="0" stop-color="#ffffff"/><stop offset=".137" stop-color="#f5ffff"/><stop offset=".178" stop-color="#d2ffff"/><stop offset=".226" stop-color="#74ffff"/><stop offset=".262" stop-color="#22ffff"/><stop offset=".28" stop-color="#1fffff"/><stop offset=".303" stop-color="#53ffff"/><stop offset=".345" stop-color="#c9ffff"/><stop offset=".357" stop-color="#fff9f9"/><stop offset=".369" stop-color="#ff4242"/><stop offset=".375" stop-color="#fa0000"/><stop offset=".387" stop-color="#c90000"/><stop offset=".405" stop-color="#b00000"/><stop offset=".428" stop-color="#b30000"/><stop offset=".44" stop-color="#cf0000"/><stop offset=".446" stop-color="#e80000"/><stop offset=".452" stop-color="#ff1212"/><stop offset=".464" stop-color="#ff9f9f"/><stop offset=".47" stop-color="#ffd9d9"/><stop offset=".476" stop-color="#feffff"/><stop offset=".5" stop-color="#eeffff"/><stop offset=".999" stop-color="#edffff"/></linearGradient>
<linearGradient id="hb49" gradientUnits="userSpaceOnUse" x1="377.7" x2="545.8"><stop offset="0" stop-color="#ffffff"/><stop offset=".137" stop-color="#f5ffff"/><stop offset=".178" stop-color="#d0ffff"/><stop offset=".226" stop-color="#6fffff"/><stop offset=".262" stop-color="#1dffff"/><stop offset=".28" stop-color="#1effff"/><stop offset=".309" stop-color="#67ffff"/><stop offset=".339" stop-color="#b8ffff"/><stop offset=".351" stop-color="#ebffff"/><stop offset=".357" stop-color="#ffd9d9"/><stop offset=".369" stop-color="#ff0d0d"/><stop offset=".375" stop-color="#dc0000"/><stop offset=".387" stop-color="#a60000"/><stop offset=".405" stop-color="#8b0000"/><stop offset=".428" stop-color="#900000"/><stop offset=".44" stop-color="#b00000"/><stop offset=".452" stop-color="#f20000"/><stop offset=".458" stop-color="#ff3737"/><stop offset=".464" stop-color="#ff8787"/><stop offset=".47" stop-color="#ffcaca"/><stop offset=".476" stop-color="#fffafa"/><stop offset=".5" stop-color="#eeffff"/><stop offset=".999" stop-color="#eeffff"/></linearGradient>
<linearGradient id="hb50" gradientUnits="userSpaceOnUse" x1="377.7" x2="545.8"><stop offset="0" stop-color="#ffffff"/><stop offset=".131" stop-color="#f9ffff"/><stop offset=".173" stop-color="#d6ffff"/><stop offset=".22" stop-color="#78ffff"/><stop offset=".256" stop-color="#21ffff"/><stop offset=".274" stop-color="#16ffff"/><stop offset=".291" stop-color="#37ffff"/><stop offset=".339" stop-color="#bbffff"/><stop offset=".351" stop-color="#f1ffff"/><stop offset=".357" stop-color="#ffc2c2"/><stop offset=".363" stop-color="#ff5353"/><stop offset=".369" stop-color="#f40000"/><stop offset=".381" stop-color="#a60000"/><stop offset=".393" stop-color="#800000"/><stop offset=".434" stop-color="#860000"/><stop offset=".446" stop-color="#bb0000"/><stop offset=".452" stop-color="#e30000"/><stop offset=".458" stop-color="#ff1f1f"/><stop offset=".464" stop-color="#ff7676"/><stop offset=".47" stop-color="#ffbfbf"/><stop offset=".476" stop-color="#fff3f3"/><stop offset=".488" stop-color="#f2ffff"/><stop offset=".999" stop-color="#efffff"/></linearGradient>
<linearGradient id="hb51" gradientUnits="userSpaceOnUse" x1="377.7" x2="545.8"><stop offset="0" stop-color="#ffffff"/><stop offset=".113" stop-color="#fff4f4"/><stop offset=".149" stop-color="#f1ffff"/><stop offset=".184" stop-color="#c1ffff"/><stop offset=".256" stop-color="#1cffff"/><stop offset=".274" stop-color="#14ffff"/><stop offset=".291" stop-color="#38ffff"/><stop offset=".339" stop-color="#beffff"/><stop offset=".351" stop-color="#f5ffff"/><stop offset=".357" stop-color="#ffb2b2"/><stop offset=".363" stop-color="#ff4040"/><stop offset=".369" stop-color="#e90000"/><stop offset=".381" stop-color="#980000"/><stop offset=".387" stop-color="#800000"/><stop offset=".434" stop-color="#800000"/><stop offset=".44" stop-color="#8f0000"/><stop offset=".452" stop-color="#da0000"/><stop offset=".458" stop-color="#ff1111"/><stop offset=".464" stop-color="#ff6c6c"/><stop offset=".47" stop-color="#ffb8b8"/><stop offset=".476" stop-color="#ffefef"/><stop offset=".482" stop-color="#f9ffff"/><stop offset=".523" stop-color="#efffff"/><stop offset=".999" stop-color="#efffff"/></linearGradient>
<linearGradient id="hb52" gradientUnits="userSpaceOnUse" x1="377.7" x2="545.8"><stop offset="0" stop-color="#ffffff"/><stop offset=".071" stop-color="#fff0f0"/><stop offset=".113" stop-color="#ffe8e8"/><stop offset=".143" stop-color="#f8ffff"/><stop offset=".184" stop-color="#c0ffff"/><stop offset=".256" stop-color="#17ffff"/><stop offset=".274" stop-color="#12ffff"/><stop offset=".297" stop-color="#49ffff"/><stop offset=".339" stop-color="#bfffff"/><stop offset=".351" stop-color="#f7ffff"/><stop offset=".357" stop-color="#ffa9a9"/><stop offset=".363" stop-color="#ff3434"/><stop offset=".369" stop-color="#e20000"/><stop offset=".381" stop-color="#900000"/><stop offset=".387" stop-color="#800000"/><stop offset=".434" stop-color="#800000"/><stop offset=".44" stop-color="#880000"/><stop offset=".458" stop-color="#ff0808"/><stop offset=".464" stop-color="#ff6565"/><stop offset=".47" stop-color="#ffb3b3"/><stop offset=".476" stop-color="#ffebeb"/><stop offset=".482" stop-color="#faffff"/><stop offset=".523" stop-color="#f0ffff"/><stop offset=".999" stop-color="#f0ffff"/></linearGradient>
<linearGradient id="hb53" gradientUnits="userSpaceOnUse" x1="377.7" x2="545.8"><stop offset="0" stop-color="#ffffff"/><stop offset=".113" stop-color="#ffefef"/><stop offset=".137" stop-color="#fbffff"/><stop offset=".178" stop-color="#c9ffff"/><stop offset=".232" stop-color="#4dffff"/><stop offset=".256" stop-color="#13ffff"/><stop offset=".274" stop-color="#0fffff"/><stop offset=".297" stop-color="#4affff"/><stop offset=".339" stop-color="#c1ffff"/><stop offset=".351" stop-color="#f9ffff"/><stop offset=".357" stop-color="#ffa2a2"/><stop offset=".363" stop-color="#ff2c2c"/><stop offset=".369" stop-color="#de0000"/><stop offset=".381" stop-color="#8b0000"/><stop offset=".393" stop-color="#800000"/><stop offset=".44" stop-color="#840000"/><stop offset=".452" stop-color="#d10000"/><stop offset=".458" stop-color="#ff0202"/><stop offset=".464" stop-color="#ff6060"/><stop offset=".47" stop-color="#ffb0b0"/><stop offset=".476" stop-color="#ffe9e9"/><stop offset=".482" stop-color="#fbffff"/><stop offset=".518" stop-color="#f0ffff"/><stop offset=".999" stop-color="#f0ffff"/></linearGradient>
<linearGradient id="hb54" gradientUnits="userSpaceOnUse" x1="377.7" x2="545.8"><stop offset="0" stop-color="#ffffff"/><stop offset=".131" stop-color="#f9ffff"/><stop offset=".173" stop-color="#d1ffff"/><stop offset=".22" stop-color="#69ffff"/><stop offset=".256" stop-color="#0effff"/><stop offset=".274" stop-color="#0cffff"/><stop offset=".297" stop-color="#4affff"/><stop offset=".339" stop-color="#c2ffff"/><stop offset=".351" stop-color="#fbffff"/><stop offset=".357" stop-color="#ff9d9d"/><stop offset=".363" stop-color="#ff2727"/><stop offset=".369" stop-color="#db0000"/><stop offset=".381" stop-color="#880000"/><stop offset=".405" stop-color="#800000"/><stop offset=".44" stop-color="#810000"/><stop offset=".452" stop-color="#cf0000"/><stop offset=".458" stop-color="#fe0000"/><stop offset=".464" stop-color="#ff5d5d"/><stop offset=".47" stop-color="#ffadad"/><stop offset=".476" stop-color="#ffe6e6"/><stop offset=".482" stop-color="#fbffff"/><stop offset=".518" stop-color="#f1ffff"/><stop offset=".999" stop-color="#f1ffff"/></linearGradient>
<linearGradient id="hb55" gradientUnits="userSpaceOnUse" x1="377.7" x2="545.8"><stop offset="0" stop-color="#ffffff"/><stop offset=".131" stop-color="#f6ffff"/><stop offset=".173" stop-color="#cfffff"/><stop offset=".214" stop-color="#76ffff"/><stop offset=".256" stop-color="#0affff"/><stop offset=".268" stop-color="#03ffff"/><stop offset=".286" stop-color="#25ffff"/><stop offset=".339" stop-color="#c4ffff"/><stop offset=".351" stop-color="#fcffff"/><stop offset=".357" stop-color="#ff9898"/><stop offset=".363" stop-color="#ff2222"/><stop offset=".369" stop-color="#d90000"/><stop offset=".381" stop-color="#850000"/><stop offset=".44" stop-color="#800000"/><stop offset=".452" stop-color="#cd0000"/><stop offset=".458" stop-color="#fd0000"/><stop offset=".47" stop-color="#ffabab"/><stop offset=".476" stop-color="#ffe4e4"/><stop offset=".482" stop-color="#fcffff"/><stop offset=".518" stop-color="#f2ffff"/><stop offset=".999" stop-color="#f2ffff"/></linearGradient>
<linearGradient id="hb56" gradientUnits="userSpaceOnUse" x1="377.7" x2="545.8"><stop offset="0" stop-color="#ffffff"/><stop offset=".131" stop-color="#f5ffff"/><stop offset=".167" stop-color="#d7ffff"/><stop offset=".202" stop-color="#92ffff"/><stop offset=".256" stop-color="#07ffff"/><stop offset=".268" stop-color="#01ffff"/><stop offset=".286" stop-color="#24ffff"/><stop offset=".339" stop-color="#c5ffff"/><stop offset=".351" stop-color="#feffff"/><stop offset=".357" stop-color="#ff9595"/><stop offset=".363" stop-color="#ff1f1f"/><stop offset=".369" stop-color="#d70000"/><stop offset=".381" stop-color="#840000"/><stop offset=".44" stop-color="#800000"/><stop offset=".452" stop-color="#cc0000"/><stop offset=".458" stop-color="#fc0000"/><stop offset=".47" stop-color="#ffa9a9"/><stop offset=".476" stop-color="#ffe3e3"/><stop offset=".482" stop-color="#fcffff"/><stop offset=".518" stop-color="#f2ffff"/><stop offset=".999" stop-color="#f2ffff"/></linearGradient>
<linearGradient id="hb57" gradientUnits="userSpaceOnUse" x1="377.7" x2="545.8"><stop offset="0" stop-color="#ffffff"/><stop offset=".131" stop-color="#f4ffff"/><stop offset=".167" stop-color="#d7ffff"/><stop offset=".202" stop-color="#91ffff"/><stop offset=".256" stop-color="#06ffff"/><stop offset=".268" stop-color="#01ffff"/><stop offset=".286" stop-color="#24ffff"/><stop offset=".339" stop-color="#c5ffff"/><stop offset=".351" stop-color="#feffff"/><stop offset=".363" stop-color="#ff1e1e"/><stop offset=".369" stop-color="#d70000"/><stop offset=".381" stop-color="#840000"/><stop offset=".44" stop-color="#800000"/><stop offset=".452" stop-color="#cc0000"/><stop offset=".458" stop-color="#fc0000"/><stop offset=".47" stop-color="#ffa9a9"/><stop offset=".476" stop-color="#ffe3e3"/><stop offset=".482" stop-color="#fcffff"/><stop offset=".518" stop-color="#f2ffff"/><stop offset=".999" stop-color="#f2ffff"/></linearGradient>
<clipPath id="cliphb"><rect x="377.70" y="47.60" width="168.10" height="166.80"/></clipPath>
<filter id="blhb" x="-0.1" y="-0.1" width="1.2" height="1.2"><feGaussianBlur stdDeviation="0.3 1.2"/></filter>
<linearGradient id="cbhb" x1="0" x2="1" y1="0" y2="0"><stop offset="0.000" stop-color="#000080"/><stop offset="0.017" stop-color="#000088"/><stop offset="0.034" stop-color="#000090"/><stop offset="0.051" stop-color="#000098"/><stop offset="0.068" stop-color="#0000a0"/><stop offset="0.085" stop-color="#0000a8"/><stop offset="0.102" stop-color="#0000b0"/><stop offset="0.119" stop-color="#0000b8"/><stop offset="0.136" stop-color="#0000c0"/><stop offset="0.153" stop-color="#0000c8"/><stop offset="0.169" stop-color="#0000d0"/><stop offset="0.186" stop-color="#0000d8"/><stop offset="0.203" stop-color="#0000e0"/><stop offset="0.220" stop-color="#0000e8"/><stop offset="0.237" stop-color="#0000f0"/><stop offset="0.254" stop-color="#0000f8"/><stop offset="0.271" stop-color="#0002ff"/><stop offset="0.288" stop-color="#0011ff"/><stop offset="0.305" stop-color="#001fff"/><stop offset="0.322" stop-color="#002eff"/><stop offset="0.339" stop-color="#003dff"/><stop offset="0.356" stop-color="#004cff"/><stop offset="0.373" stop-color="#005bff"/><stop offset="0.390" stop-color="#0069ff"/><stop offset="0.407" stop-color="#0078ff"/><stop offset="0.424" stop-color="#0087ff"/><stop offset="0.441" stop-color="#0096ff"/><stop offset="0.458" stop-color="#00a4ff"/><stop offset="0.475" stop-color="#00b3ff"/><stop offset="0.492" stop-color="#00c2ff"/><stop offset="0.508" stop-color="#00d1ff"/><stop offset="0.525" stop-color="#00e0ff"/><stop offset="0.542" stop-color="#00eeff"/><stop offset="0.559" stop-color="#00fdff"/><stop offset="0.576" stop-color="#0fffff"/><stop offset="0.593" stop-color="#1fffff"/><stop offset="0.610" stop-color="#30ffff"/><stop offset="0.627" stop-color="#40ffff"/><stop offset="0.644" stop-color="#51ffff"/><stop offset="0.661" stop-color="#62ffff"/><stop offset="0.678" stop-color="#72ffff"/><stop offset="0.695" stop-color="#83ffff"/><stop offset="0.712" stop-color="#93ffff"/><stop offset="0.729" stop-color="#a4ffff"/><stop offset="0.746" stop-color="#b5ffff"/><stop offset="0.763" stop-color="#c5ffff"/><stop offset="0.780" stop-color="#d6ffff"/><stop offset="0.797" stop-color="#e6ffff"/><stop offset="0.814" stop-color="#f7ffff"/><stop offset="0.831" stop-color="#ffe5e5"/><stop offset="0.847" stop-color="#ffb4b4"/><stop offset="0.864" stop-color="#ff8383"/><stop offset="0.881" stop-color="#ff5151"/><stop offset="0.898" stop-color="#ff2020"/><stop offset="0.915" stop-color="#f70000"/><stop offset="0.932" stop-color="#df0000"/><stop offset="0.949" stop-color="#c70000"/><stop offset="0.966" stop-color="#af0000"/><stop offset="0.983" stop-color="#980000"/><stop offset="1.000" stop-color="#800000"/></linearGradient>
<linearGradient id="hd0" gradientUnits="userSpaceOnUse" x1="362.8" x2="468.4"><stop offset="0" stop-color="#feffff"/><stop offset=".114" stop-color="#edffff"/><stop offset=".161" stop-color="#c8ffff"/><stop offset=".199" stop-color="#8affff"/><stop offset=".237" stop-color="#1fffff"/><stop offset=".246" stop-color="#00fdff"/><stop offset=".312" stop-color="#0000fe"/><stop offset=".36" stop-color="#0000a7"/><stop offset=".388" stop-color="#00008d"/><stop offset=".417" stop-color="#000096"/><stop offset=".436" stop-color="#0000c2"/><stop offset=".445" stop-color="#0000e9"/><stop offset=".455" stop-color="#0030ff"/><stop offset=".473" stop-color="#00eeff"/><stop offset=".483" stop-color="#42ffff"/><stop offset=".492" stop-color="#7effff"/><stop offset=".502" stop-color="#a5ffff"/><stop offset=".521" stop-color="#c7ffff"/><stop offset=".587" stop-color="#d4ffff"/><stop offset="1.004" stop-color="#d4ffff"/></linearGradient>
<linearGradient id="hd1" gradientUnits="userSpaceOnUse" x1="362.8" x2="468.4"><stop offset="0" stop-color="#ffffff"/><stop offset=".114" stop-color="#eeffff"/><stop offset=".161" stop-color="#caffff"/><stop offset=".199" stop-color="#8dffff"/><stop offset=".237" stop-color="#23ffff"/><stop offset=".246" stop-color="#01ffff"/><stop offset=".294" stop-color="#004dff"/><stop offset=".312" stop-color="#0001ff"/><stop offset=".36" stop-color="#0000a7"/><stop offset=".388" stop-color="#00008d"/><stop offset=".417" stop-color="#000096"/><stop offset=".436" stop-color="#0000c2"/><stop offset=".445" stop-color="#0000e9"/><stop offset=".455" stop-color="#0031ff"/><stop offset=".473" stop-color="#00eeff"/><stop offset=".483" stop-color="#42ffff"/><stop offset=".492" stop-color="#7effff"/><stop offset=".502" stop-color="#a5ffff"/><stop offset=".521" stop-color="#c8ffff"/><stop offset=".587" stop-color="#d4ffff"/><stop offset="1.004" stop-color="#d4ffff"/></linearGradient>
<linearGradient id="hd2" gradientUnits="userSpaceOnUse" x1="362.8" x2="468.4"><stop offset="0" stop-color="#ffffff"/><stop offset=".114" stop-color="#f0ffff"/><stop offset=".161" stop-color="#ceffff"/><stop offset=".199" stop-color="#93ffff"/><stop offset=".227" stop-color="#49ffff"/><stop offset=".246" stop-color="#09ffff"/><stop offset=".265" stop-color="#00c5ff"/><stop offset=".312" stop-color="#0006ff"/><stop offset=".36" stop-color="#0000a8"/><stop offset=".388" stop-color="#00008d"/><stop offset=".417" stop-color="#000096"/><stop offset=".436" stop-color="#0000c2"/><stop offset=".445" stop-color="#0000e9"/><stop offset=".455" stop-color="#0031ff"/><stop offset=".473" stop-color="#00efff"/><stop offset=".483" stop-color="#42ffff"/><stop offset=".492" stop-color="#7fffff"/><stop offset=".502" stop-color="#a5ffff"/><stop offset=".521" stop-color="#c8ffff"/><stop offset=".587" stop-color="#d5ffff"/><stop offset="1.004" stop-color="#d5ffff"/></linearGradient>
<linearGradient id="hd3" gradientUnits="userSpaceOnUse" x1="362.8" x2="468.4"><stop offset="0" stop-color="#ffffff"/><stop offset=".114" stop-color="#f2ffff"/><stop offset=".161" stop-color="#d2ffff"/><stop offset=".199" stop-color="#99ffff"/><stop offset=".227" stop-color="#52ffff"/><stop offset=".246" stop-color="#12ffff"/><stop offset=".256" stop-color="#00efff"/><stop offset=".312" stop-color="#000cff"/><stop offset=".322" stop-color="#0000f1"/><stop offset=".369" stop-color="#00009d"/><stop offset=".398" stop-color="#00008b"/><stop offset=".417" stop-color="#000096"/><stop offset=".436" stop-color="#0000c2"/><stop offset=".445" stop-color="#0000e9"/><stop offset=".455" stop-color="#0031ff"/><stop offset=".473" stop-color="#00efff"/><stop offset=".483" stop-color="#43ffff"/><stop offset=".492" stop-color="#7fffff"/><stop offset=".502" stop-color="#a6ffff"/><stop offset=".521" stop-color="#c9ffff"/><stop offset=".587" stop-color="#d5ffff"/><stop offset="1.004" stop-color="#d5ffff"/></linearGradient>
<linearGradient id="hd4" gradientUnits="userSpaceOnUse" x1="362.8" x2="468.4"><stop offset="0" stop-color="#ffffff"/><stop offset=".123" stop-color="#f0ffff"/><stop offset=".17" stop-color="#ceffff"/><stop offset=".208" stop-color="#8effff"/><stop offset=".237" stop-color="#3fffff"/><stop offset=".256" stop-color="#00faff"/><stop offset=".312" stop-color="#0015ff"/><stop offset=".322" stop-color="#0000f5"/><stop offset=".369" stop-color="#00009e"/><stop offset=".398" stop-color="#00008b"/><stop offset=".417" stop-color="#000096"/><stop offset=".436" stop-color="#0000c2"/><stop offset=".445" stop-color="#0000e9"/><stop offset=".455" stop-color="#0031ff"/><stop offset=".473" stop-color="#00efff"/><stop offset=".483" stop-color="#43ffff"/><stop offset=".492" stop-color="#80ffff"/><stop offset=".502" stop-color="#a6ffff"/><stop offset=".521" stop-color="#c9ffff"/><stop offset=".587" stop-color="#d6ffff"/><stop offset="1.004" stop-color="#d6ffff"/></linearGradient>
<linearGradient id="hd5" gradientUnits="userSpaceOnUse" x1="362.8" x2="468.4"><stop offset="0" stop-color="#ffffff"/><stop offset=".123" stop-color="#f3ffff"/><stop offset=".17" stop-color="#d4ffff"/><stop offset=".208" stop-color="#99ffff"/><stop offset=".237" stop-color="#4dffff"/><stop offset=".256" stop-color="#09ffff"/><stop offset=".275" stop-color="#00c0ff"/><stop offset=".312" stop-color="#001fff"/><stop offset=".322" stop-color="#0000fa"/><stop offset=".369" stop-color="#0000a0"/><stop offset=".398" stop-color="#00008c"/><stop offset=".417" stop-color="#000096"/><stop offset=".436" stop-color="#0000c2"/><stop offset=".445" stop-color="#0000e9"/><stop offset=".455" stop-color="#0031ff"/><stop offset=".473" stop-color="#00f0ff"/><stop offset=".483" stop-color="#43ffff"/><stop offset=".492" stop-color="#80ffff"/><stop offset=".502" stop-color="#a7ffff"/><stop offset=".521" stop-color="#caffff"/><stop offset=".587" stop-color="#d6ffff"/><stop offset="1.004" stop-color="#d6ffff"/></linearGradient>
<linearGradient id="hd6" gradientUnits="userSpaceOnUse" x1="362.8" x2="468.4"><stop offset="0" stop-color="#ffffff"/><stop offset=".133" stop-color="#f2ffff"/><stop offset=".18" stop-color="#d0ffff"/><stop offset=".218" stop-color="#8effff"/><stop offset=".246" stop-color="#3bffff"/><stop offset=".256" stop-color="#18ffff"/><stop offset=".265" stop-color="#00f2ff"/><stop offset=".322" stop-color="#0000ff"/><stop offset=".36" stop-color="#0000b0"/><stop offset=".388" stop-color="#00008f"/><stop offset=".417" stop-color="#000097"/><stop offset=".436" stop-color="#0000c2"/><stop offset=".445" stop-color="#0000e9"/><stop offset=".455" stop-color="#0032ff"/><stop offset=".473" stop-color="#00f0ff"/><stop offset=".483" stop-color="#44ffff"/><stop offset=".492" stop-color="#81ffff"/><stop offset=".502" stop-color="#a8ffff"/><stop offset=".521" stop-color="#caffff"/><stop offset=".587" stop-color="#d7ffff"/><stop offset="1.004" stop-color="#d7ffff"/></linearGradient>
<linearGradient id="hd7" gradientUnits="userSpaceOnUse" x1="362.8" x2="468.4"><stop offset="0" stop-color="#fffefe"/><stop offset=".133" stop-color="#f5ffff"/><stop offset=".18" stop-color="#d7ffff"/><stop offset=".218" stop-color="#9bffff"/><stop offset=".246" stop-color="#4affff"/><stop offset=".265" stop-color="#02ffff"/><stop offset=".303" stop-color="#0061ff"/><stop offset=".322" stop-color="#000bff"/><stop offset=".341" stop-color="#0000d8"/><stop offset=".379" stop-color="#000097"/><stop offset=".407" stop-color="#00008f"/><stop offset=".426" stop-color="#0000a9"/><stop offset=".445" stop-color="#0000ed"/><stop offset=".455" stop-color="#003bff"/><stop offset=".473" stop-color="#00f8ff"/><stop offset=".483" stop-color="#4bffff"/><stop offset=".492" stop-color="#86ffff"/><stop offset=".502" stop-color="#abffff"/><stop offset=".521" stop-color="#cbffff"/><stop offset=".587" stop-color="#d7ffff"/><stop offset="1.004" stop-color="#d7ffff"/></linearGradient>
<linearGradient id="hd8" gradientUnits="userSpaceOnUse" x1="362.8" x2="468.4"><stop offset="0" stop-color="#fffdfd"/><stop offset=".142" stop-color="#f5ffff"/><stop offset=".189" stop-color="#d7ffff"/><stop offset=".218" stop-color="#aaffff"/><stop offset=".246" stop-color="#5cffff"/><stop offset=".265" stop-color="#14ffff"/><stop offset=".275" stop-color="#00edff"/><stop offset=".322" stop-color="#0017ff"/><stop offset=".331" stop-color="#0000f4"/><stop offset=".369" stop-color="#0000a5"/><stop offset=".398" stop-color="#00008e"/><stop offset=".417" stop-color="#00009b"/><stop offset=".436" stop-color="#0000cd"/><stop offset=".445" stop-color="#0000f7"/><stop offset=".455" stop-color="#004fff"/><stop offset=".464" stop-color="#00b1ff"/><stop offset=".473" stop-color="#0bffff"/><stop offset=".483" stop-color="#59ffff"/><stop offset=".492" stop-color="#8fffff"/><stop offset=".502" stop-color="#b0ffff"/><stop offset=".521" stop-color="#ceffff"/><stop offset=".606" stop-color="#d8ffff"/><stop offset="1.004" stop-color="#d8ffff"/></linearGradient>
<linearGradient id="hd9" gradientUnits="userSpaceOnUse" x1="362.8" x2="468.4"><stop offset="0" stop-color="#fffafa"/><stop offset=".057" stop-color="#fff5f5"/><stop offset=".123" stop-color="#fbffff"/><stop offset=".189" stop-color="#e2ffff"/><stop offset=".218" stop-color="#baffff"/><stop offset=".246" stop-color="#6effff"/><stop offset=".275" stop-color="#00feff"/><stop offset=".322" stop-color="#0024ff"/><stop offset=".331" stop-color="#0000fa"/><stop offset=".369" stop-color="#0000a8"/><stop offset=".398" stop-color="#00008f"/><stop offset=".417" stop-color="#00009e"/><stop offset=".436" stop-color="#0000d5"/><stop offset=".445" stop-color="#0004ff"/><stop offset=".464" stop-color="#00c5ff"/><stop offset=".473" stop-color="#1effff"/><stop offset=".483" stop-color="#67ffff"/><stop offset=".492" stop-color="#98ffff"/><stop offset=".502" stop-color="#b6ffff"/><stop offset=".521" stop-color="#cfffff"/><stop offset=".653" stop-color="#d8ffff"/><stop offset="1.004" stop-color="#d8ffff"/></linearGradient>
<linearGradient id="hd10" gradientUnits="userSpaceOnUse" x1="362.8" x2="468.4"><stop offset="0" stop-color="#fff9f9"/><stop offset=".047" stop-color="#ffeded"/><stop offset=".114" stop-color="#fdffff"/><stop offset=".189" stop-color="#ecffff"/><stop offset=".218" stop-color="#caffff"/><stop offset=".246" stop-color="#82ffff"/><stop offset=".275" stop-color="#13ffff"/><stop offset=".284" stop-color="#00e9ff"/><stop offset=".331" stop-color="#0004ff"/><stop offset=".369" stop-color="#0000ab"/><stop offset=".398" stop-color="#000092"/><stop offset=".417" stop-color="#0000a2"/><stop offset=".436" stop-color="#0000dc"/><stop offset=".445" stop-color="#0014ff"/><stop offset=".464" stop-color="#00d5ff"/><stop offset=".473" stop-color="#2dffff"/><stop offset=".483" stop-color="#71ffff"/><stop offset=".492" stop-color="#9fffff"/><stop offset=".502" stop-color="#baffff"/><stop offset=".521" stop-color="#d1ffff"/><stop offset=".72" stop-color="#d9ffff"/><stop offset="1.004" stop-color="#d9ffff"/></linearGradient>
<linearGradient id="hd11" gradientUnits="userSpaceOnUse" x1="362.8" x2="468.4"><stop offset="0" stop-color="#fff8f8"/><stop offset=".047" stop-color="#ffeded"/><stop offset=".114" stop-color="#feffff"/><stop offset=".199" stop-color="#eeffff"/><stop offset=".227" stop-color="#c7ffff"/><stop offset=".256" stop-color="#74ffff"/><stop offset=".284" stop-color="#00fcff"/><stop offset=".331" stop-color="#0014ff"/><stop offset=".341" stop-color="#0000f0"/><stop offset=".369" stop-color="#0000b0"/><stop offset=".398" stop-color="#000095"/><stop offset=".417" stop-color="#0000a6"/><stop offset=".436" stop-color="#0000e3"/><stop offset=".445" stop-color="#0022ff"/><stop offset=".464" stop-color="#00e1ff"/><stop offset=".473" stop-color="#37ffff"/><stop offset=".483" stop-color="#79ffff"/><stop offset=".492" stop-color="#a3ffff"/><stop offset=".511" stop-color="#cbffff"/><stop offset=".559" stop-color="#d9ffff"/><stop offset="1.004" stop-color="#d9ffff"/></linearGradient>
<linearGradient id="hd12" gradientUnits="userSpaceOnUse" x1="362.8" x2="468.4"><stop offset="0" stop-color="#fffafa"/><stop offset=".047" stop-color="#fff1f1"/><stop offset=".133" stop-color="#feffff"/><stop offset=".199" stop-color="#f6ffff"/><stop offset=".227" stop-color="#d5ffff"/><stop offset=".256" stop-color="#87ffff"/><stop offset=".284" stop-color="#12ffff"/><stop offset=".294" stop-color="#00e5ff"/><stop offset=".331" stop-color="#0025ff"/><stop offset=".341" stop-color="#0000f9"/><stop offset=".369" stop-color="#0000b5"/><stop offset=".388" stop-color="#00009c"/><stop offset=".407" stop-color="#00009d"/><stop offset=".426" stop-color="#0000c5"/><stop offset=".436" stop-color="#0000ea"/><stop offset=".445" stop-color="#0030ff"/><stop offset=".464" stop-color="#00edff"/><stop offset=".473" stop-color="#42ffff"/><stop offset=".483" stop-color="#80ffff"/><stop offset=".492" stop-color="#a8ffff"/><stop offset=".511" stop-color="#cdffff"/><stop offset=".568" stop-color="#daffff"/><stop offset="1.004" stop-color="#daffff"/></linearGradient>
<linearGradient id="hd13" gradientUnits="userSpaceOnUse" x1="362.8" x2="468.4"><stop offset="0" stop-color="#fffcfc"/><stop offset=".076" stop-color="#fffcfc"/><stop offset=".208" stop-color="#f7ffff"/><stop offset=".237" stop-color="#cdffff"/><stop offset=".265" stop-color="#76ffff"/><stop offset=".294" stop-color="#00f8ff"/><stop offset=".341" stop-color="#0005ff"/><stop offset=".379" stop-color="#0000ad"/><stop offset=".398" stop-color="#0000a1"/><stop offset=".417" stop-color="#0000b8"/><stop offset=".436" stop-color="#0000fa"/><stop offset=".445" stop-color="#0050ff"/><stop offset=".455" stop-color="#00aeff"/><stop offset=".464" stop-color="#08ffff"/><stop offset=".473" stop-color="#57ffff"/><stop offset=".483" stop-color="#8effff"/><stop offset=".492" stop-color="#b1ffff"/><stop offset=".511" stop-color="#d0ffff"/><stop offset=".587" stop-color="#dbffff"/><stop offset="1.004" stop-color="#dbffff"/></linearGradient>
<linearGradient id="hd14" gradientUnits="userSpaceOnUse" x1="362.8" x2="468.4"><stop offset="0" stop-color="#fffefe"/><stop offset=".18" stop-color="#fff9f9"/><stop offset=".218" stop-color="#f6ffff"/><stop offset=".246" stop-color="#c2ffff"/><stop offset=".275" stop-color="#61ffff"/><stop offset=".294" stop-color="#0affff"/><stop offset=".303" stop-color="#00dcff"/><stop offset=".341" stop-color="#0017ff"/><stop offset=".35" stop-color="#0000f2"/><stop offset=".379" stop-color="#0000b8"/><stop offset=".398" stop-color="#0000af"/><stop offset=".417" stop-color="#0000cb"/><stop offset=".426" stop-color="#0000e9"/><stop offset=".436" stop-color="#0024ff"/><stop offset=".455" stop-color="#00d8ff"/><stop offset=".464" stop-color="#2effff"/><stop offset=".473" stop-color="#72ffff"/><stop offset=".483" stop-color="#a0ffff"/><stop offset=".492" stop-color="#bcffff"/><stop offset=".511" stop-color="#d4ffff"/><stop offset=".672" stop-color="#dcffff"/><stop offset="1.004" stop-color="#dcffff"/></linearGradient>
<linearGradient id="hd15" gradientUnits="userSpaceOnUse" x1="362.8" x2="468.4"><stop offset="0" stop-color="#ffffff"/><stop offset=".17" stop-color="#fff9f9"/><stop offset=".199" stop-color="#ffeeee"/><stop offset=".218" stop-color="#feffff"/><stop offset=".246" stop-color="#ceffff"/><stop offset=".275" stop-color="#71ffff"/><stop offset=".294" stop-color="#1cffff"/><stop offset=".303" stop-color="#00edff"/><stop offset=".35" stop-color="#0000fc"/><stop offset=".379" stop-color="#0000c4"/><stop offset=".398" stop-color="#0000be"/><stop offset=".417" stop-color="#0000df"/><stop offset=".426" stop-color="#0004ff"/><stop offset=".455" stop-color="#01ffff"/><stop offset=".464" stop-color="#50ffff"/><stop offset=".473" stop-color="#8affff"/><stop offset=".483" stop-color="#afffff"/><stop offset=".502" stop-color="#d1ffff"/><stop offset=".568" stop-color="#ddffff"/><stop offset="1.004" stop-color="#ddffff"/></linearGradient>
<linearGradient id="hd16" gradientUnits="userSpaceOnUse" x1="362.8" x2="468.4"><stop offset="0" stop-color="#ffffff"/><stop offset=".161" stop-color="#fffbfb"/><stop offset=".208" stop-color="#ffe5e5"/><stop offset=".227" stop-color="#fcffff"/><stop offset=".256" stop-color="#c2ffff"/><stop offset=".284" stop-color="#5cffff"/><stop offset=".303" stop-color="#01ffff"/><stop offset=".35" stop-color="#0011ff"/><stop offset=".36" stop-color="#0000f2"/><stop offset=".379" stop-color="#0000d3"/><stop offset=".398" stop-color="#0000d2"/><stop offset=".417" stop-color="#0000f9"/><stop offset=".426" stop-color="#0037ff"/><stop offset=".445" stop-color="#00daff"/><stop offset=".455" stop-color="#2bffff"/><stop offset=".464" stop-color="#6effff"/><stop offset=".473" stop-color="#9dffff"/><stop offset=".483" stop-color="#bbffff"/><stop offset=".502" stop-color="#d5ffff"/><stop offset=".606" stop-color="#dfffff"/><stop offset="1.004" stop-color="#dfffff"/></linearGradient>
<linearGradient id="hd17" gradientUnits="userSpaceOnUse" x1="362.8" x2="468.4"><stop offset="0" stop-color="#ffffff"/><stop offset=".161" stop-color="#fffafa"/><stop offset=".208" stop-color="#ffd8d8"/><stop offset=".218" stop-color="#ffdddd"/><stop offset=".237" stop-color="#f9ffff"/><stop offset=".265" stop-color="#b5ffff"/><stop offset=".294" stop-color="#48ffff"/><stop offset=".303" stop-color="#1bffff"/><stop offset=".312" stop-color="#00ebff"/><stop offset=".35" stop-color="#0032ff"/><stop offset=".36" stop-color="#000cff"/><stop offset=".379" stop-color="#0000eb"/><stop offset=".398" stop-color="#0000f0"/><stop offset=".407" stop-color="#0005ff"/><stop offset=".417" stop-color="#0036ff"/><stop offset=".436" stop-color="#00c1ff"/><stop offset=".445" stop-color="#0cffff"/><stop offset=".455" stop-color="#52ffff"/><stop offset=".464" stop-color="#88ffff"/><stop offset=".473" stop-color="#acffff"/><stop offset=".492" stop-color="#d0ffff"/><stop offset=".54" stop-color="#dfffff"/><stop offset="1.004" stop-color="#e0ffff"/></linearGradient>
<linearGradient id="hd18" gradientUnits="userSpaceOnUse" x1="362.8" x2="468.4"><stop offset="0" stop-color="#ffffff"/><stop offset=".161" stop-color="#fff9f9"/><stop offset=".208" stop-color="#ffcfcf"/><stop offset=".218" stop-color="#ffcfcf"/><stop offset=".227" stop-color="#ffdbdb"/><stop offset=".237" stop-color="#fff7f7"/><stop offset=".256" stop-color="#deffff"/><stop offset=".284" stop-color="#84ffff"/><stop offset=".312" stop-color="#04ffff"/><stop offset=".35" stop-color="#0055ff"/><stop offset=".369" stop-color="#0019ff"/><stop offset=".379" stop-color="#000cff"/><stop offset=".388" stop-color="#000fff"/><stop offset=".398" stop-color="#0021ff"/><stop offset=".407" stop-color="#0045ff"/><stop offset=".426" stop-color="#00b4ff"/><stop offset=".436" stop-color="#00f5ff"/><stop offset=".455" stop-color="#71ffff"/><stop offset=".464" stop-color="#9bffff"/><stop offset=".483" stop-color="#c9ffff"/><stop offset=".521" stop-color="#dfffff"/><stop offset="1.004" stop-color="#e1ffff"/></linearGradient>
<linearGradient id="hd19" gradientUnits="userSpaceOnUse" x1="362.8" x2="468.4"><stop offset="0" stop-color="#ffffff"/><stop offset=".161" stop-color="#fffafa"/><stop offset=".218" stop-color="#ffc6c6"/><stop offset=".227" stop-color="#ffcece"/><stop offset=".246" stop-color="#faffff"/><stop offset=".275" stop-color="#b2ffff"/><stop offset=".303" stop-color="#44ffff"/><stop offset=".312" stop-color="#19ffff"/><stop offset=".322" stop-color="#00edff"/><stop offset=".35" stop-color="#0078ff"/><stop offset=".369" stop-color="#0048ff"/><stop offset=".379" stop-color="#0041ff"/><stop offset=".388" stop-color="#0049ff"/><stop offset=".398" stop-color="#0060ff"/><stop offset=".417" stop-color="#00b4ff"/><stop offset=".426" stop-color="#00eaff"/><stop offset=".436" stop-color="#25ffff"/><stop offset=".455" stop-color="#89ffff"/><stop offset=".473" stop-color="#c0ffff"/><stop offset=".502" stop-color="#dbffff"/><stop offset="1.004" stop-color="#e2ffff"/></linearGradient>
<linearGradient id="hd20" gradientUnits="userSpaceOnUse" x1="362.8" x2="468.4"><stop offset="0" stop-color="#ffffff"/><stop offset=".161" stop-color="#fffbfb"/><stop offset=".189" stop-color="#ffe2e2"/><stop offset=".218" stop-color="#ffbdbd"/><stop offset=".227" stop-color="#ffbdbd"/><stop offset=".237" stop-color="#ffcdcd"/><stop offset=".246" stop-color="#ffefef"/><stop offset=".256" stop-color="#f3ffff"/><stop offset=".284" stop-color="#a0ffff"/><stop offset=".322" stop-color="#0effff"/><stop offset=".331" stop-color="#00e8ff"/><stop offset=".36" stop-color="#0092ff"/><stop offset=".369" stop-color="#0085ff"/><stop offset=".379" stop-color="#0085ff"/><stop offset=".398" stop-color="#00acff"/><stop offset=".417" stop-color="#00f7ff"/><stop offset=".445" stop-color="#7effff"/><stop offset=".464" stop-color="#b7ffff"/><stop offset=".492" stop-color="#d9ffff"/><stop offset=".625" stop-color="#e3ffff"/><stop offset="1.004" stop-color="#e3ffff"/></linearGradient>
<linearGradient id="hd21" gradientUnits="userSpaceOnUse" x1="362.8" x2="468.4"><stop offset="0" stop-color="#ffffff"/><stop offset=".161" stop-color="#fffbfb"/><stop offset=".189" stop-color="#ffe2e2"/><stop offset=".227" stop-color="#ff9494"/><stop offset=".237" stop-color="#ff9393"/><stop offset=".246" stop-color="#ffa9a9"/><stop offset=".265" stop-color="#f4ffff"/><stop offset=".331" stop-color="#12ffff"/><stop offset=".341" stop-color="#00f4ff"/><stop offset=".36" stop-color="#00d1ff"/><stop offset=".369" stop-color="#00d0ff"/><stop offset=".388" stop-color="#00f3ff"/><stop offset=".398" stop-color="#12ffff"/><stop offset=".436" stop-color="#92ffff"/><stop offset=".464" stop-color="#caffff"/><stop offset=".502" stop-color="#e0ffff"/><stop offset="1.004" stop-color="#e4ffff"/></linearGradient>
<linearGradient id="hd22" gradientUnits="userSpaceOnUse" x1="362.8" x2="468.4"><stop offset="0" stop-color="#ffffff"/><stop offset=".161" stop-color="#fffbfb"/><stop offset=".189" stop-color="#ffdede"/><stop offset=".208" stop-color="#ffa3a3"/><stop offset=".227" stop-color="#ff4f4f"/><stop offset=".237" stop-color="#ff3535"/><stop offset=".246" stop-color="#ff3c3c"/><stop offset=".256" stop-color="#ff6d6d"/><stop offset=".265" stop-color="#ffc2c2"/><stop offset=".275" stop-color="#efffff"/><stop offset=".322" stop-color="#3affff"/><stop offset=".341" stop-color="#05ffff"/><stop offset=".36" stop-color="#00f9ff"/><stop offset=".369" stop-color="#09ffff"/><stop offset=".417" stop-color="#9bffff"/><stop offset=".445" stop-color="#cdffff"/><stop offset=".492" stop-color="#e3ffff"/><stop offset="1.004" stop-color="#e5ffff"/></linearGradient>
<linearGradient id="hd23" gradientUnits="userSpaceOnUse" x1="362.8" x2="468.4"><stop offset="0" stop-color="#ffffff"/><stop offset=".17" stop-color="#fff9f9"/><stop offset=".189" stop-color="#ffe2e2"/><stop offset=".199" stop-color="#ffc7c7"/><stop offset=".208" stop-color="#ff9e9e"/><stop offset=".227" stop-color="#ff2f2f"/><stop offset=".237" stop-color="#ff0707"/><stop offset=".246" stop-color="#ff0909"/><stop offset=".256" stop-color="#ff4242"/><stop offset=".265" stop-color="#ffacac"/><stop offset=".275" stop-color="#edffff"/><stop offset=".303" stop-color="#69ffff"/><stop offset=".322" stop-color="#28ffff"/><stop offset=".341" stop-color="#04ffff"/><stop offset=".35" stop-color="#06ffff"/><stop offset=".369" stop-color="#2fffff"/><stop offset=".407" stop-color="#a3ffff"/><stop offset=".436" stop-color="#d2ffff"/><stop offset=".483" stop-color="#e4ffff"/><stop offset="1.004" stop-color="#e6ffff"/></linearGradient>
<linearGradient id="hd24" gradientUnits="userSpaceOnUse" x1="362.8" x2="468.4"><stop offset="0" stop-color="#ffffff"/><stop offset=".17" stop-color="#fffbfb"/><stop offset=".189" stop-color="#ffebeb"/><stop offset=".199" stop-color="#ffd7d7"/><stop offset=".218" stop-color="#ff8a8a"/><stop offset=".227" stop-color="#ff5c5c"/><stop offset=".237" stop-color="#ff4040"/><stop offset=".246" stop-color="#ff4c4c"/><stop offset=".256" stop-color="#ff8d8d"/><stop offset=".265" stop-color="#fffcfc"/><stop offset=".303" stop-color="#50ffff"/><stop offset=".322" stop-color="#19ffff"/><stop offset=".331" stop-color="#0cffff"/><stop offset=".341" stop-color="#0dffff"/><stop offset=".36" stop-color="#33ffff"/><stop offset=".398" stop-color="#a3ffff"/><stop offset=".426" stop-color="#d2ffff"/><stop offset=".473" stop-color="#e5ffff"/><stop offset="1.004" stop-color="#e7ffff"/></linearGradient>
<linearGradient id="hd25" gradientUnits="userSpaceOnUse" x1="362.8" x2="468.4"><stop offset="0" stop-color="#ffffff"/><stop offset=".189" stop-color="#fff9f9"/><stop offset=".227" stop-color="#ffc4c4"/><stop offset=".237" stop-color="#ffc7c7"/><stop offset=".246" stop-color="#ffe8e8"/><stop offset=".256" stop-color="#f0ffff"/><stop offset=".303" stop-color="#38ffff"/><stop offset=".322" stop-color="#0effff"/><stop offset=".331" stop-color="#0affff"/><stop offset=".35" stop-color="#28ffff"/><stop offset=".398" stop-color="#b1ffff"/><stop offset=".426" stop-color="#d9ffff"/><stop offset=".492" stop-color="#e7ffff"/><stop offset="1.004" stop-color="#e8ffff"/></linearGradient>
<linearGradient id="hd26" gradientUnits="userSpaceOnUse" x1="362.8" x2="468.4"><stop offset="0" stop-color="#ffffff"/><stop offset=".208" stop-color="#f9ffff"/><stop offset=".237" stop-color="#e4ffff"/><stop offset=".256" stop-color="#baffff"/><stop offset=".303" stop-color="#23ffff"/><stop offset=".322" stop-color="#06ffff"/><stop offset=".341" stop-color="#17ffff"/><stop offset=".398" stop-color="#bbffff"/><stop offset=".426" stop-color="#e2ffff"/><stop offset=".549" stop-color="#e9ffff"/><stop offset="1.004" stop-color="#e9ffff"/></linearGradient>
<linearGradient id="hd27" gradientUnits="userSpaceOnUse" x1="362.8" x2="468.4"><stop offset="0" stop-color="#ffffff"/><stop offset=".189" stop-color="#f8ffff"/><stop offset=".218" stop-color="#e4ffff"/><stop offset=".246" stop-color="#aeffff"/><stop offset=".303" stop-color="#12ffff"/><stop offset=".322" stop-color="#02ffff"/><stop offset=".341" stop-color="#1dffff"/><stop offset=".388" stop-color="#b9ffff"/><stop offset=".417" stop-color="#ecffff"/><stop offset=".445" stop-color="#f4ffff"/><stop offset=".54" stop-color="#eaffff"/><stop offset="1.004" stop-color="#eaffff"/></linearGradient>
<linearGradient id="hd28" gradientUnits="userSpaceOnUse" x1="362.8" x2="468.4"><stop offset="0" stop-color="#ffffff"/><stop offset=".18" stop-color="#f9ffff"/><stop offset=".208" stop-color="#e6ffff"/><stop offset=".237" stop-color="#b2ffff"/><stop offset=".294" stop-color="#19ffff"/><stop offset=".312" stop-color="#00feff"/><stop offset=".331" stop-color="#0fffff"/><stop offset=".35" stop-color="#46ffff"/><stop offset=".388" stop-color="#dcffff"/><stop offset=".398" stop-color="#f5ffff"/><stop offset=".417" stop-color="#ffcdcd"/><stop offset=".426" stop-color="#ffc1c1"/><stop offset=".436" stop-color="#ffc7c7"/><stop offset=".455" stop-color="#fffcfc"/><stop offset=".492" stop-color="#ebffff"/><stop offset="1.004" stop-color="#ebffff"/></linearGradient>
<linearGradient id="hd29" gradientUnits="userSpaceOnUse" x1="362.8" x2="468.4"><stop offset="0" stop-color="#ffffff"/><stop offset=".18" stop-color="#f7ffff"/><stop offset=".208" stop-color="#dfffff"/><stop offset=".237" stop-color="#a4ffff"/><stop offset=".284" stop-color="#22ffff"/><stop offset=".303" stop-color="#01ffff"/><stop offset=".322" stop-color="#04ffff"/><stop offset=".341" stop-color="#32ffff"/><stop offset=".36" stop-color="#86ffff"/><stop offset=".379" stop-color="#e9ffff"/><stop offset=".388" stop-color="#ffcece"/><stop offset=".398" stop-color="#ff7b7b"/><stop offset=".407" stop-color="#ff4747"/><stop offset=".417" stop-color="#ff2d2d"/><stop offset=".426" stop-color="#ff2d2d"/><stop offset=".436" stop-color="#ff4747"/><stop offset=".445" stop-color="#ff7a7a"/><stop offset=".464" stop-color="#fff3f3"/><stop offset=".473" stop-color="#f6ffff"/><stop offset=".521" stop-color="#ecffff"/><stop offset="1.004" stop-color="#ecffff"/></linearGradient>
<linearGradient id="hd30" gradientUnits="userSpaceOnUse" x1="362.8" x2="468.4"><stop offset="0" stop-color="#ffffff"/><stop offset=".17" stop-color="#f9ffff"/><stop offset=".199" stop-color="#e7ffff"/><stop offset=".227" stop-color="#b3ffff"/><stop offset=".284" stop-color="#1affff"/><stop offset=".303" stop-color="#00fdff"/><stop offset=".322" stop-color="#08ffff"/><stop offset=".341" stop-color="#3cffff"/><stop offset=".36" stop-color="#9effff"/><stop offset=".369" stop-color="#dbffff"/><stop offset=".379" stop-color="#ffbfbf"/><stop offset=".388" stop-color="#ff3636"/><stop offset=".398" stop-color="#ec0000"/><stop offset=".407" stop-color="#d20000"/><stop offset=".417" stop-color="#c70000"/><stop offset=".426" stop-color="#cd0000"/><stop offset=".436" stop-color="#e30000"/><stop offset=".445" stop-color="#ff1616"/><stop offset=".464" stop-color="#ffcccc"/><stop offset=".473" stop-color="#fcffff"/><stop offset=".502" stop-color="#edffff"/><stop offset="1.004" stop-color="#edffff"/></linearGradient>
<linearGradient id="hd31" gradientUnits="userSpaceOnUse" x1="362.8" x2="468.4"><stop offset="0" stop-color="#ffffff"/><stop offset=".17" stop-color="#f9ffff"/><stop offset=".199" stop-color="#e4ffff"/><stop offset=".227" stop-color="#aeffff"/><stop offset=".284" stop-color="#16ffff"/><stop offset=".303" stop-color="#00fcff"/><stop offset=".322" stop-color="#0bffff"/><stop offset=".341" stop-color="#44ffff"/><stop offset=".35" stop-color="#73ffff"/><stop offset=".369" stop-color="#f3ffff"/><stop offset=".379" stop-color="#ff6464"/><stop offset=".388" stop-color="#e70000"/><stop offset=".398" stop-color="#b70000"/><stop offset=".407" stop-color="#9c0000"/><stop offset=".417" stop-color="#930000"/><stop offset=".426" stop-color="#9c0000"/><stop offset=".436" stop-color="#b90000"/><stop offset=".445" stop-color="#e90000"/><stop offset=".455" stop-color="#ff4848"/><stop offset=".464" stop-color="#ffb1b1"/><stop offset=".473" stop-color="#fffafa"/><stop offset=".502" stop-color="#eeffff"/><stop offset="1.004" stop-color="#eeffff"/></linearGradient>
<linearGradient id="hd32" gradientUnits="userSpaceOnUse" x1="362.8" x2="468.4"><stop offset="0" stop-color="#ffffff"/><stop offset=".133" stop-color="#fff7f7"/><stop offset=".18" stop-color="#f4ffff"/><stop offset=".208" stop-color="#d4ffff"/><stop offset=".246" stop-color="#75ffff"/><stop offset=".284" stop-color="#12ffff"/><stop offset=".294" stop-color="#03ffff"/><stop offset=".312" stop-color="#00ffff"/><stop offset=".331" stop-color="#27ffff"/><stop offset=".341" stop-color="#4bffff"/><stop offset=".35" stop-color="#7cffff"/><stop offset=".369" stop-color="#fff7f7"/><stop offset=".379" stop-color="#ff3131"/><stop offset=".388" stop-color="#cb0000"/><stop offset=".398" stop-color="#9a0000"/><stop offset=".407" stop-color="#800000"/><stop offset=".426" stop-color="#830000"/><stop offset=".436" stop-color="#a30000"/><stop offset=".445" stop-color="#d80000"/><stop offset=".455" stop-color="#ff3030"/><stop offset=".464" stop-color="#ffa3a3"/><stop offset=".473" stop-color="#fff2f2"/><stop offset=".483" stop-color="#f6ffff"/><stop offset=".644" stop-color="#efffff"/><stop offset="1.004" stop-color="#efffff"/></linearGradient>
<linearGradient id="hd33" gradientUnits="userSpaceOnUse" x1="362.8" x2="468.4"><stop offset="0" stop-color="#ffffff"/><stop offset=".076" stop-color="#ffeded"/><stop offset=".123" stop-color="#ffe2e2"/><stop offset=".17" stop-color="#faffff"/><stop offset=".199" stop-color="#e0ffff"/><stop offset=".227" stop-color="#a5ffff"/><stop offset=".275" stop-color="#22ffff"/><stop offset=".294" stop-color="#01ffff"/><stop offset=".312" stop-color="#02ffff"/><stop offset=".331" stop-color="#2dffff"/><stop offset=".341" stop-color="#52ffff"/><stop offset=".35" stop-color="#84ffff"/><stop offset=".36" stop-color="#c4ffff"/><stop offset=".369" stop-color="#ffdbdb"/><stop offset=".379" stop-color="#ff1313"/><stop offset=".388" stop-color="#bd0000"/><stop offset=".398" stop-color="#8c0000"/><stop offset=".417" stop-color="#800000"/><stop offset=".426" stop-color="#800000"/><stop offset=".436" stop-color="#9a0000"/><stop offset=".445" stop-color="#d00000"/><stop offset=".455" stop-color="#ff2424"/><stop offset=".464" stop-color="#ff9b9b"/><stop offset=".473" stop-color="#ffeded"/><stop offset=".483" stop-color="#f7ffff"/><stop offset=".616" stop-color="#f0ffff"/><stop offset="1.004" stop-color="#f0ffff"/></linearGradient>
<linearGradient id="hd34" gradientUnits="userSpaceOnUse" x1="362.8" x2="468.4"><stop offset="0" stop-color="#ffffff"/><stop offset=".123" stop-color="#ffebeb"/><stop offset=".17" stop-color="#f9ffff"/><stop offset=".199" stop-color="#ddffff"/><stop offset=".227" stop-color="#9fffff"/><stop offset=".275" stop-color="#1effff"/><stop offset=".294" stop-color="#00feff"/><stop offset=".312" stop-color="#05ffff"/><stop offset=".331" stop-color="#33ffff"/><stop offset=".341" stop-color="#58ffff"/><stop offset=".35" stop-color="#8bffff"/><stop offset=".36" stop-color="#cbffff"/><stop offset=".369" stop-color="#ffc6c6"/><stop offset=".379" stop-color="#fe0000"/><stop offset=".388" stop-color="#b30000"/><stop offset=".398" stop-color="#840000"/><stop offset=".426" stop-color="#800000"/><stop offset=".436" stop-color="#950000"/><stop offset=".445" stop-color="#cc0000"/><stop offset=".455" stop-color="#ff1e1e"/><stop offset=".464" stop-color="#ff9696"/><stop offset=".473" stop-color="#ffe9e9"/><stop offset=".483" stop-color="#f8ffff"/><stop offset=".606" stop-color="#f1ffff"/><stop offset="1.004" stop-color="#f1ffff"/></linearGradient>
<linearGradient id="hd35" gradientUnits="userSpaceOnUse" x1="362.8" x2="468.4"><stop offset="0" stop-color="#ffffff"/><stop offset=".161" stop-color="#faffff"/><stop offset=".199" stop-color="#daffff"/><stop offset=".227" stop-color="#9affff"/><stop offset=".275" stop-color="#1affff"/><stop offset=".294" stop-color="#00fdff"/><stop offset=".312" stop-color="#08ffff"/><stop offset=".331" stop-color="#39ffff"/><stop offset=".341" stop-color="#5fffff"/><stop offset=".35" stop-color="#91ffff"/><stop offset=".36" stop-color="#d1ffff"/><stop offset=".369" stop-color="#ffb4b4"/><stop offset=".379" stop-color="#f60000"/><stop offset=".388" stop-color="#ad0000"/><stop offset=".398" stop-color="#800000"/><stop offset=".426" stop-color="#800000"/><stop offset=".436" stop-color="#920000"/><stop offset=".445" stop-color="#ca0000"/><stop offset=".455" stop-color="#ff1919"/><stop offset=".464" stop-color="#ff9393"/><stop offset=".473" stop-color="#ffe6e6"/><stop offset=".483" stop-color="#f9ffff"/><stop offset=".597" stop-color="#f2ffff"/><stop offset="1.004" stop-color="#f2ffff"/></linearGradient>
<linearGradient id="hd36" gradientUnits="userSpaceOnUse" x1="362.8" x2="468.4"><stop offset="0" stop-color="#ffffff"/><stop offset=".161" stop-color="#f9ffff"/><stop offset=".189" stop-color="#e5ffff"/><stop offset=".218" stop-color="#b0ffff"/><stop offset=".275" stop-color="#17ffff"/><stop offset=".294" stop-color="#00fdff"/><stop offset=".312" stop-color="#0affff"/><stop offset=".331" stop-color="#3cffff"/><stop offset=".341" stop-color="#62ffff"/><stop offset=".35" stop-color="#95ffff"/><stop offset=".36" stop-color="#d5ffff"/><stop offset=".369" stop-color="#ffaaaa"/><stop offset=".379" stop-color="#f20000"/><stop offset=".388" stop-color="#a90000"/><stop offset=".398" stop-color="#800000"/><stop offset=".426" stop-color="#800000"/><stop offset=".436" stop-color="#900000"/><stop offset=".445" stop-color="#c80000"/><stop offset=".455" stop-color="#ff1717"/><stop offset=".464" stop-color="#ff9191"/><stop offset=".473" stop-color="#ffe4e4"/><stop offset=".483" stop-color="#faffff"/><stop offset=".597" stop-color="#f2ffff"/><stop offset="1.004" stop-color="#f2ffff"/></linearGradient>
<clipPath id="cliphd"><rect x="362.80" y="387.30" width="105.60" height="104.50"/></clipPath>
<filter id="blhd" x="-0.1" y="-0.1" width="1.2" height="1.2"><feGaussianBlur stdDeviation="0.3 1.2"/></filter>
<linearGradient id="cbhd" x1="0" x2="1" y1="0" y2="0"><stop offset="0.000" stop-color="#000080"/><stop offset="0.017" stop-color="#000088"/><stop offset="0.034" stop-color="#000090"/><stop offset="0.051" stop-color="#000098"/><stop offset="0.068" stop-color="#0000a0"/><stop offset="0.085" stop-color="#0000a8"/><stop offset="0.102" stop-color="#0000b0"/><stop offset="0.119" stop-color="#0000b8"/><stop offset="0.136" stop-color="#0000c0"/><stop offset="0.153" stop-color="#0000c8"/><stop offset="0.169" stop-color="#0000d0"/><stop offset="0.186" stop-color="#0000d8"/><stop offset="0.203" stop-color="#0000e0"/><stop offset="0.220" stop-color="#0000e8"/><stop offset="0.237" stop-color="#0000f0"/><stop offset="0.254" stop-color="#0000f8"/><stop offset="0.271" stop-color="#0002ff"/><stop offset="0.288" stop-color="#0011ff"/><stop offset="0.305" stop-color="#001fff"/><stop offset="0.322" stop-color="#002eff"/><stop offset="0.339" stop-color="#003dff"/><stop offset="0.356" stop-color="#004cff"/><stop offset="0.373" stop-color="#005bff"/><stop offset="0.390" stop-color="#0069ff"/><stop offset="0.407" stop-color="#0078ff"/><stop offset="0.424" stop-color="#0087ff"/><stop offset="0.441" stop-color="#0096ff"/><stop offset="0.458" stop-color="#00a4ff"/><stop offset="0.475" stop-color="#00b3ff"/><stop offset="0.492" stop-color="#00c2ff"/><stop offset="0.508" stop-color="#00d1ff"/><stop offset="0.525" stop-color="#00e0ff"/><stop offset="0.542" stop-color="#00eeff"/><stop offset="0.559" stop-color="#00fdff"/><stop offset="0.576" stop-color="#0fffff"/><stop offset="0.593" stop-color="#1fffff"/><stop offset="0.610" stop-color="#30ffff"/><stop offset="0.627" stop-color="#40ffff"/><stop offset="0.644" stop-color="#51ffff"/><stop offset="0.661" stop-color="#62ffff"/><stop offset="0.678" stop-color="#72ffff"/><stop offset="0.695" stop-color="#83ffff"/><stop offset="0.712" stop-color="#93ffff"/><stop offset="0.729" stop-color="#a4ffff"/><stop offset="0.746" stop-color="#b5ffff"/><stop offset="0.763" stop-color="#c5ffff"/><stop offset="0.780" stop-color="#d6ffff"/><stop offset="0.797" stop-color="#e6ffff"/><stop offset="0.814" stop-color="#f7ffff"/><stop offset="0.831" stop-color="#ffe5e5"/><stop offset="0.847" stop-color="#ffb4b4"/><stop offset="0.864" stop-color="#ff8383"/><stop offset="0.881" stop-color="#ff5151"/><stop offset="0.898" stop-color="#ff2020"/><stop offset="0.915" stop-color="#f70000"/><stop offset="0.932" stop-color="#df0000"/><stop offset="0.949" stop-color="#c70000"/><stop offset="0.966" stop-color="#af0000"/><stop offset="0.983" stop-color="#980000"/><stop offset="1.000" stop-color="#800000"/></linearGradient>
</defs>
<rect width="685" height="540" fill="#fff"/>
<text x="-0.50" y="7.90" font-size="11.40" text-anchor="start" fill="#000" font-weight="bold" stroke="#000" stroke-width="0.25">a</text>
<text x="123.20" y="13.30" font-size="10.25" text-anchor="middle" fill="#231f20"><tspan font-family="Liberation Sans">Δ</tspan><tspan font-style="italic" dx="0.6">T</tspan>/<tspan font-style="italic">T</tspan> (×10<tspan dy="-4.9" font-size="7.3">−4</tspan><tspan dy="4.9">)</tspan></text>
<g clip-path="url(#clipha)"><g filter="url(#blha)"><rect x="38" y="44" width="168" height="3.5" fill="url(#ha0)"/>
<rect x="38" y="47" width="168" height="3.5" fill="url(#ha1)"/>
<rect x="38" y="50" width="168" height="3.5" fill="url(#ha2)"/>
<rect x="38" y="53" width="168" height="3.5" fill="url(#ha3)"/>
<rect x="38" y="56" width="168" height="3.5" fill="url(#ha4)"/>
<rect x="38" y="59" width="168" height="3.5" fill="url(#ha5)"/>
<rect x="38" y="62" width="168" height="3.5" fill="url(#ha6)"/>
<rect x="38" y="65" width="168" height="3.5" fill="url(#ha7)"/>
<rect x="38" y="68" width="168" height="3.5" fill="url(#ha8)"/>
<rect x="38" y="71" width="168" height="3.5" fill="url(#ha9)"/>
<rect x="38" y="74" width="168" height="3.5" fill="url(#ha10)"/>
<rect x="38" y="77" width="168" height="3.5" fill="url(#ha11)"/>
<rect x="38" y="80" width="168" height="3.5" fill="url(#ha12)"/>
<rect x="38" y="83" width="168" height="3.5" fill="url(#ha13)"/>
<rect x="38" y="86" width="168" height="3.5" fill="url(#ha14)"/>
<rect x="38" y="89" width="168" height="3.5" fill="url(#ha15)"/>
<rect x="38" y="92" width="168" height="3.5" fill="url(#ha16)"/>
<rect x="38" y="95" width="168" height="3.5" fill="url(#ha17)"/>
<rect x="38" y="98" width="168" height="3.5" fill="url(#ha18)"/>
<rect x="38" y="101" width="168" height="3.5" fill="url(#ha19)"/>
<rect x="38" y="104" width="168" height="3.5" fill="url(#ha20)"/>
<rect x="38" y="107" width="168" height="3.5" fill="url(#ha21)"/>
<rect x="38" y="110" width="168" height="3.5" fill="url(#ha22)"/>
<rect x="38" y="113" width="168" height="3.5" fill="url(#ha23)"/>
<rect x="38" y="116" width="168" height="3.5" fill="url(#ha24)"/>
<rect x="38" y="119" width="168" height="3.5" fill="url(#ha25)"/>
<rect x="38" y="122" width="168" height="3.5" fill="url(#ha26)"/>
<rect x="38" y="125" width="168" height="3.5" fill="url(#ha27)"/>
<rect x="38" y="128" width="168" height="3.5" fill="url(#ha28)"/>
<rect x="38" y="131" width="168" height="3.5" fill="url(#ha29)"/>
<rect x="38" y="134" width="168" height="3.5" fill="url(#ha30)"/>
<rect x="38" y="137" width="168" height="3.5" fill="url(#ha31)"/>
<rect x="38" y="140" width="168" height="3.5" fill="url(#ha32)"/>
<rect x="38" y="143" width="168" height="3.5" fill="url(#ha33)"/>
<rect x="38" y="146" width="168" height="3.5" fill="url(#ha34)"/>
<rect x="38" y="149" width="168" height="3.5" fill="url(#ha35)"/>
<rect x="38" y="152" width="168" height="3.5" fill="url(#ha36)"/>
<rect x="38" y="155" width="168" height="3.5" fill="url(#ha37)"/>
<rect x="38" y="158" width="168" height="3.5" fill="url(#ha38)"/>
<rect x="38" y="161" width="168" height="3.5" fill="url(#ha39)"/>
<rect x="38" y="164" width="168" height="3.5" fill="url(#ha40)"/>
<rect x="38" y="167" width="168" height="3.5" fill="url(#ha41)"/>
<rect x="38" y="170" width="168" height="3.5" fill="url(#ha42)"/>
<rect x="38" y="173" width="168" height="3.5" fill="url(#ha43)"/>
<rect x="38" y="176" width="168" height="3.5" fill="url(#ha44)"/>
<rect x="38" y="179" width="168" height="3.5" fill="url(#ha45)"/>
<rect x="38" y="182" width="168" height="3.5" fill="url(#ha46)"/>
<rect x="38" y="185" width="168" height="3.5" fill="url(#ha47)"/>
<rect x="38" y="188" width="168" height="3.5" fill="url(#ha48)"/>
<rect x="38" y="191" width="168" height="3.5" fill="url(#ha49)"/>
<rect x="38" y="194" width="168" height="3.5" fill="url(#ha50)"/>
<rect x="38" y="197" width="168" height="3.5" fill="url(#ha51)"/>
<rect x="38" y="200" width="168" height="3.5" fill="url(#ha52)"/>
<rect x="38" y="203" width="168" height="3.5" fill="url(#ha53)"/>
<rect x="38" y="206" width="168" height="3.5" fill="url(#ha54)"/>
<rect x="38" y="209" width="168" height="3.5" fill="url(#ha55)"/>
<rect x="38" y="212" width="168" height="3.5" fill="url(#ha56)"/>
<rect x="38" y="215" width="168" height="3.5" fill="url(#ha57)"/></g></g>
<rect x="38.00" y="38.40" width="167.80" height="8.80" fill="url(#cbha)" stroke="#484848" stroke-width="0.9"/>
<line x1="57.20" y1="36.30" x2="57.20" y2="38.40" stroke="#484848" stroke-width="1.00"/>
<text x="57.20" y="30.90" font-size="10.25" text-anchor="middle" fill="#231f20">−4</text>
<line x1="94.50" y1="36.30" x2="94.50" y2="38.40" stroke="#484848" stroke-width="1.00"/>
<text x="94.50" y="30.90" font-size="10.25" text-anchor="middle" fill="#231f20">−2</text>
<line x1="131.60" y1="36.30" x2="131.60" y2="38.40" stroke="#484848" stroke-width="1.00"/>
<text x="131.60" y="30.90" font-size="10.25" text-anchor="middle" fill="#231f20">0</text>
<line x1="168.60" y1="36.30" x2="168.60" y2="38.40" stroke="#484848" stroke-width="1.00"/>
<text x="168.60" y="30.90" font-size="10.25" text-anchor="middle" fill="#231f20">2</text>
<line x1="205.40" y1="36.30" x2="205.40" y2="38.40" stroke="#484848" stroke-width="1.00"/>
<text x="205.40" y="30.90" font-size="10.25" text-anchor="middle" fill="#231f20">4</text>
<line x1="37.55" y1="47.00" x2="37.55" y2="214.80" stroke="#484848" stroke-width="0.95"/>
<line x1="37.50" y1="214.30" x2="206.30" y2="214.30" stroke="#484848" stroke-width="1.00"/>
<line x1="206.50" y1="47.00" x2="206.50" y2="214.50" stroke="#707070" stroke-width="0.70"/>
<line x1="33.80" y1="208.30" x2="37.50" y2="208.30" stroke="#484848" stroke-width="1.00"/>
<text x="29.40" y="211.90" font-size="10.25" text-anchor="end" fill="#231f20">7</text>
<line x1="206.00" y1="208.30" x2="209.50" y2="208.30" stroke="#484848" stroke-width="1.00"/>
<line x1="33.80" y1="179.95" x2="37.50" y2="179.95" stroke="#484848" stroke-width="1.00"/>
<text x="29.40" y="183.55" font-size="10.25" text-anchor="end" fill="#231f20">8</text>
<line x1="206.00" y1="179.95" x2="209.50" y2="179.95" stroke="#484848" stroke-width="1.00"/>
<line x1="33.80" y1="151.60" x2="37.50" y2="151.60" stroke="#484848" stroke-width="1.00"/>
<text x="29.40" y="155.20" font-size="10.25" text-anchor="end" fill="#231f20">9</text>
<line x1="206.00" y1="151.60" x2="209.50" y2="151.60" stroke="#484848" stroke-width="1.00"/>
<line x1="33.80" y1="123.25" x2="37.50" y2="123.25" stroke="#484848" stroke-width="1.00"/>
<text x="29.40" y="126.85" font-size="10.25" text-anchor="end" fill="#231f20">10</text>
<line x1="206.00" y1="123.25" x2="209.50" y2="123.25" stroke="#484848" stroke-width="1.00"/>
<line x1="33.80" y1="94.90" x2="37.50" y2="94.90" stroke="#484848" stroke-width="1.00"/>
<text x="29.40" y="98.50" font-size="10.25" text-anchor="end" fill="#231f20">11</text>
<line x1="206.00" y1="94.90" x2="209.50" y2="94.90" stroke="#484848" stroke-width="1.00"/>
<line x1="33.80" y1="66.55" x2="37.50" y2="66.55" stroke="#484848" stroke-width="1.00"/>
<text x="29.40" y="70.15" font-size="10.25" text-anchor="end" fill="#231f20">12</text>
<line x1="206.00" y1="66.55" x2="209.50" y2="66.55" stroke="#484848" stroke-width="1.00"/>
<line x1="68.50" y1="214.30" x2="68.50" y2="218.20" stroke="#484848" stroke-width="1.00"/>
<text x="68.50" y="232.00" font-size="10.25" text-anchor="middle" fill="#231f20">0</text>
<line x1="106.50" y1="214.30" x2="106.50" y2="218.20" stroke="#484848" stroke-width="1.00"/>
<text x="106.50" y="232.00" font-size="10.25" text-anchor="middle" fill="#231f20">500</text>
<line x1="144.60" y1="214.30" x2="144.60" y2="218.20" stroke="#484848" stroke-width="1.00"/>
<text x="144.60" y="232.00" font-size="10.25" text-anchor="middle" fill="#231f20">1,000</text>
<line x1="182.80" y1="214.30" x2="182.80" y2="218.20" stroke="#484848" stroke-width="1.00"/>
<text x="182.80" y="232.00" font-size="10.25" text-anchor="middle" fill="#231f20">1,500</text>
<text x="123.50" y="249.80" font-size="10.25" text-anchor="middle" fill="#231f20">Mid-IR–visible delay (fs)</text>
<text transform="translate(9.0,140.40) rotate(-90)" font-size="10.25" text-anchor="middle" fill="#231f20">Mid-IR wavelength (μm)</text>
<text x="42.50" y="62.30" font-size="10.25" text-anchor="start" fill="#231f20"><tspan font-style="italic">E</tspan><tspan font-size="7.4" dy="2.7">VIS</tspan><tspan dy="-2.7"> = 1.75 eV</tspan></text>
<line x1="205.80" y1="47.50" x2="289.50" y2="47.50" stroke="#484848" stroke-width="1.00"/>
<line x1="206.00" y1="214.30" x2="289.90" y2="214.30" stroke="#484848" stroke-width="1.00"/>
<line x1="289.50" y1="43.30" x2="289.50" y2="214.50" stroke="#484848" stroke-width="1.00"/>
<line x1="205.90" y1="214.30" x2="205.90" y2="218.20" stroke="#484848" stroke-width="1.00"/>
<text x="205.90" y="232.00" font-size="10.25" text-anchor="middle" fill="#231f20">0</text>
<line x1="247.60" y1="214.30" x2="247.60" y2="218.20" stroke="#484848" stroke-width="1.00"/>
<text x="247.60" y="232.00" font-size="10.25" text-anchor="middle" fill="#231f20">50</text>
<line x1="289.30" y1="214.30" x2="289.30" y2="218.20" stroke="#484848" stroke-width="1.00"/>
<text x="289.30" y="232.00" font-size="10.25" text-anchor="middle" fill="#231f20">100</text>
<text x="247.00" y="247.30" font-size="10.25" text-anchor="middle" fill="#231f20">CuGeO<tspan font-size="7" dy="2.5">3</tspan></text>
<text x="247.50" y="259.30" font-size="10.25" text-anchor="middle" fill="#231f20">transmission (%)</text>
<path d="M206.1,53.7 227.0,62.4 229.8,65.2 232.6,69.4 239.0,74.4 241.5,78.5 222.4,85.2 229.8,88.9 241.9,91.7 257.6,92.6 260.4,95.7 263.1,100.4 264.0,111.5 269.6,114.8 271.8,130.0 273.8,139.6 274.2,154.0 271.8,164.9 266.5,178.1 259.8,179.8 245.8,186.6 244.2,188.5 214.0,193.8 232.1,199.8 224.9,202.2 235.7,206.0 250.2,207.0 253.0,209.4 264.6,210.6 269.4,213.8" fill="none" stroke="#000" stroke-width="2.20" stroke-linejoin="round" stroke-linecap="round"/>
<text x="-0.50" y="299.30" font-size="11.40" text-anchor="start" fill="#000" font-weight="bold" stroke="#000" stroke-width="0.25">c</text>
<text x="125.20" y="304.40" font-size="10.25" text-anchor="middle" fill="#231f20"><tspan font-family="Liberation Sans">Δ</tspan><tspan font-style="italic" dx="0.6">T</tspan>/<tspan font-style="italic">T</tspan> (×10<tspan dy="-4.9" font-size="7.3">−4</tspan><tspan dy="4.9">)</tspan></text>
<g clip-path="url(#cliphc)"><g filter="url(#blhc)"><rect x="38" y="334" width="168" height="3.5" fill="url(#hc0)"/>
<rect x="38" y="337" width="168" height="3.5" fill="url(#hc1)"/>
<rect x="38" y="340" width="168" height="3.5" fill="url(#hc2)"/>
<rect x="38" y="343" width="168" height="3.5" fill="url(#hc3)"/>
<rect x="38" y="346" width="168" height="3.5" fill="url(#hc4)"/>
<rect x="38" y="349" width="168" height="3.5" fill="url(#hc5)"/>
<rect x="38" y="352" width="168" height="3.5" fill="url(#hc6)"/>
<rect x="38" y="355" width="168" height="3.5" fill="url(#hc7)"/>
<rect x="38" y="358" width="168" height="3.5" fill="url(#hc8)"/>
<rect x="38" y="361" width="168" height="3.5" fill="url(#hc9)"/>
<rect x="38" y="364" width="168" height="3.5" fill="url(#hc10)"/>
<rect x="38" y="367" width="168" height="3.5" fill="url(#hc11)"/>
<rect x="38" y="370" width="168" height="3.5" fill="url(#hc12)"/>
<rect x="38" y="373" width="168" height="3.5" fill="url(#hc13)"/>
<rect x="38" y="376" width="168" height="3.5" fill="url(#hc14)"/>
<rect x="38" y="379" width="168" height="3.5" fill="url(#hc15)"/>
<rect x="38" y="382" width="168" height="3.5" fill="url(#hc16)"/>
<rect x="38" y="385" width="168" height="3.5" fill="url(#hc17)"/>
<rect x="38" y="388" width="168" height="3.5" fill="url(#hc18)"/>
<rect x="38" y="391" width="168" height="3.5" fill="url(#hc19)"/>
<rect x="38" y="394" width="168" height="3.5" fill="url(#hc20)"/>
<rect x="38" y="397" width="168" height="3.5" fill="url(#hc21)"/>
<rect x="38" y="400" width="168" height="3.5" fill="url(#hc22)"/>
<rect x="38" y="403" width="168" height="3.5" fill="url(#hc23)"/>
<rect x="38" y="406" width="168" height="3.5" fill="url(#hc24)"/>
<rect x="38" y="409" width="168" height="3.5" fill="url(#hc25)"/>
<rect x="38" y="412" width="168" height="3.5" fill="url(#hc26)"/>
<rect x="38" y="415" width="168" height="3.5" fill="url(#hc27)"/>
<rect x="38" y="418" width="168" height="3.5" fill="url(#hc28)"/>
<rect x="38" y="421" width="168" height="3.5" fill="url(#hc29)"/>
<rect x="38" y="424" width="168" height="3.5" fill="url(#hc30)"/>
<rect x="38" y="427" width="168" height="3.5" fill="url(#hc31)"/>
<rect x="38" y="430" width="168" height="3.5" fill="url(#hc32)"/>
<rect x="38" y="433" width="168" height="3.5" fill="url(#hc33)"/>
<rect x="38" y="436" width="168" height="3.5" fill="url(#hc34)"/>
<rect x="38" y="439" width="168" height="3.5" fill="url(#hc35)"/>
<rect x="38" y="442" width="168" height="3.5" fill="url(#hc36)"/>
<rect x="38" y="445" width="168" height="3.5" fill="url(#hc37)"/>
<rect x="38" y="448" width="168" height="3.5" fill="url(#hc38)"/>
<rect x="38" y="451" width="168" height="3.5" fill="url(#hc39)"/>
<rect x="38" y="454" width="168" height="3.5" fill="url(#hc40)"/>
<rect x="38" y="457" width="168" height="3.5" fill="url(#hc41)"/>
<rect x="38" y="460" width="168" height="3.5" fill="url(#hc42)"/>
<rect x="38" y="463" width="168" height="3.5" fill="url(#hc43)"/>
<rect x="38" y="466" width="168" height="3.5" fill="url(#hc44)"/>
<rect x="38" y="469" width="168" height="3.5" fill="url(#hc45)"/>
<rect x="38" y="472" width="168" height="3.5" fill="url(#hc46)"/>
<rect x="38" y="475" width="168" height="3.5" fill="url(#hc47)"/>
<rect x="38" y="478" width="168" height="3.5" fill="url(#hc48)"/>
<rect x="38" y="481" width="168" height="3.5" fill="url(#hc49)"/>
<rect x="38" y="484" width="168" height="3.5" fill="url(#hc50)"/>
<rect x="38" y="487" width="168" height="3.5" fill="url(#hc51)"/>
<rect x="38" y="490" width="168" height="3.5" fill="url(#hc52)"/>
<rect x="38" y="493" width="168" height="3.5" fill="url(#hc53)"/>
<rect x="38" y="496" width="168" height="3.5" fill="url(#hc54)"/>
<rect x="38" y="499" width="168" height="3.5" fill="url(#hc55)"/>
<rect x="38" y="502" width="168" height="3.5" fill="url(#hc56)"/>
<rect x="38" y="505" width="168" height="3.5" fill="url(#hc57)"/></g></g>
<rect x="38.00" y="328.60" width="167.80" height="8.80" fill="url(#cbhc)" stroke="#484848" stroke-width="0.9"/>
<line x1="57.20" y1="326.50" x2="57.20" y2="328.60" stroke="#484848" stroke-width="1.00"/>
<text x="57.20" y="321.60" font-size="10.25" text-anchor="middle" fill="#231f20">−4</text>
<line x1="94.50" y1="326.50" x2="94.50" y2="328.60" stroke="#484848" stroke-width="1.00"/>
<text x="94.50" y="321.60" font-size="10.25" text-anchor="middle" fill="#231f20">−2</text>
<line x1="131.60" y1="326.50" x2="131.60" y2="328.60" stroke="#484848" stroke-width="1.00"/>
<text x="131.60" y="321.60" font-size="10.25" text-anchor="middle" fill="#231f20">0</text>
<line x1="168.60" y1="326.50" x2="168.60" y2="328.60" stroke="#484848" stroke-width="1.00"/>
<text x="168.60" y="321.60" font-size="10.25" text-anchor="middle" fill="#231f20">2</text>
<line x1="205.40" y1="326.50" x2="205.40" y2="328.60" stroke="#484848" stroke-width="1.00"/>
<text x="205.40" y="321.60" font-size="10.25" text-anchor="middle" fill="#231f20">4</text>
<line x1="37.55" y1="337.20" x2="37.55" y2="505.00" stroke="#484848" stroke-width="0.95"/>
<line x1="37.50" y1="504.50" x2="206.30" y2="504.50" stroke="#484848" stroke-width="1.00"/>
<line x1="206.50" y1="337.20" x2="206.50" y2="504.70" stroke="#a0a0a0" stroke-width="0.70"/>
<line x1="33.80" y1="498.50" x2="37.50" y2="498.50" stroke="#484848" stroke-width="1.00"/>
<text x="29.40" y="502.10" font-size="10.25" text-anchor="end" fill="#231f20">7</text>
<line x1="33.80" y1="470.15" x2="37.50" y2="470.15" stroke="#484848" stroke-width="1.00"/>
<text x="29.40" y="473.75" font-size="10.25" text-anchor="end" fill="#231f20">8</text>
<line x1="33.80" y1="441.80" x2="37.50" y2="441.80" stroke="#484848" stroke-width="1.00"/>
<text x="29.40" y="445.40" font-size="10.25" text-anchor="end" fill="#231f20">9</text>
<line x1="33.80" y1="413.45" x2="37.50" y2="413.45" stroke="#484848" stroke-width="1.00"/>
<text x="29.40" y="417.05" font-size="10.25" text-anchor="end" fill="#231f20">10</text>
<line x1="33.80" y1="385.10" x2="37.50" y2="385.10" stroke="#484848" stroke-width="1.00"/>
<text x="29.40" y="388.70" font-size="10.25" text-anchor="end" fill="#231f20">11</text>
<line x1="33.80" y1="356.75" x2="37.50" y2="356.75" stroke="#484848" stroke-width="1.00"/>
<text x="29.40" y="360.35" font-size="10.25" text-anchor="end" fill="#231f20">12</text>
<line x1="68.50" y1="504.50" x2="68.50" y2="508.40" stroke="#484848" stroke-width="1.00"/>
<text x="68.50" y="520.80" font-size="10.25" text-anchor="middle" fill="#231f20">0</text>
<line x1="106.50" y1="504.50" x2="106.50" y2="508.40" stroke="#484848" stroke-width="1.00"/>
<text x="106.50" y="520.80" font-size="10.25" text-anchor="middle" fill="#231f20">500</text>
<line x1="144.60" y1="504.50" x2="144.60" y2="508.40" stroke="#484848" stroke-width="1.00"/>
<text x="144.60" y="520.80" font-size="10.25" text-anchor="middle" fill="#231f20">1,000</text>
<line x1="182.80" y1="504.50" x2="182.80" y2="508.40" stroke="#484848" stroke-width="1.00"/>
<text x="182.80" y="520.80" font-size="10.25" text-anchor="middle" fill="#231f20">1,500</text>
<text x="123.50" y="537.00" font-size="10.25" text-anchor="middle" fill="#231f20">Mid-IR–visible delay (fs)</text>
<text transform="translate(9.0,430.60) rotate(-90)" font-size="10.25" text-anchor="middle" fill="#231f20">Mid-IR wavelength (μm)</text>
<text x="47.30" y="357.30" font-size="10.25" text-anchor="start" fill="#231f20"><tspan font-style="italic">E</tspan><tspan font-size="7.4" dy="2.7">VIS</tspan><tspan dy="-2.7"> = 1.37 eV</tspan></text>
<text x="339.40" y="8.90" font-size="12.30" text-anchor="start" fill="#000" font-weight="bold" stroke="#000" stroke-width="0.25">b</text>
<text x="467.00" y="17.50" font-size="10.25" text-anchor="middle" fill="#231f20"><tspan font-family="Liberation Sans">Δ</tspan><tspan font-style="italic" dx="0.6">T</tspan>/<tspan font-style="italic">T</tspan> (×10<tspan dy="-4.9" font-size="7.3">−3</tspan><tspan dy="4.9">)</tspan></text>
<g clip-path="url(#cliphb)"><g filter="url(#blhb)"><rect x="377.7" y="45" width="168.1" height="3.5" fill="url(#hb0)"/>
<rect x="377.7" y="48" width="168.1" height="3.5" fill="url(#hb1)"/>
<rect x="377.7" y="51" width="168.1" height="3.5" fill="url(#hb2)"/>
<rect x="377.7" y="54" width="168.1" height="3.5" fill="url(#hb3)"/>
<rect x="377.7" y="57" width="168.1" height="3.5" fill="url(#hb4)"/>
<rect x="377.7" y="60" width="168.1" height="3.5" fill="url(#hb5)"/>
<rect x="377.7" y="63" width="168.1" height="3.5" fill="url(#hb6)"/>
<rect x="377.7" y="66" width="168.1" height="3.5" fill="url(#hb7)"/>
<rect x="377.7" y="69" width="168.1" height="3.5" fill="url(#hb8)"/>
<rect x="377.7" y="72" width="168.1" height="3.5" fill="url(#hb9)"/>
<rect x="377.7" y="75" width="168.1" height="3.5" fill="url(#hb10)"/>
<rect x="377.7" y="78" width="168.1" height="3.5" fill="url(#hb11)"/>
<rect x="377.7" y="81" width="168.1" height="3.5" fill="url(#hb12)"/>
<rect x="377.7" y="84" width="168.1" height="3.5" fill="url(#hb13)"/>
<rect x="377.7" y="87" width="168.1" height="3.5" fill="url(#hb14)"/>
<rect x="377.7" y="90" width="168.1" height="3.5" fill="url(#hb15)"/>
<rect x="377.7" y="93" width="168.1" height="3.5" fill="url(#hb16)"/>
<rect x="377.7" y="96" width="168.1" height="3.5" fill="url(#hb17)"/>
<rect x="377.7" y="99" width="168.1" height="3.5" fill="url(#hb18)"/>
<rect x="377.7" y="102" width="168.1" height="3.5" fill="url(#hb19)"/>
<rect x="377.7" y="105" width="168.1" height="3.5" fill="url(#hb20)"/>
<rect x="377.7" y="108" width="168.1" height="3.5" fill="url(#hb21)"/>
<rect x="377.7" y="111" width="168.1" height="3.5" fill="url(#hb22)"/>
<rect x="377.7" y="114" width="168.1" height="3.5" fill="url(#hb23)"/>
<rect x="377.7" y="117" width="168.1" height="3.5" fill="url(#hb24)"/>
<rect x="377.7" y="120" width="168.1" height="3.5" fill="url(#hb25)"/>
<rect x="377.7" y="123" width="168.1" height="3.5" fill="url(#hb26)"/>
<rect x="377.7" y="126" width="168.1" height="3.5" fill="url(#hb27)"/>
<rect x="377.7" y="129" width="168.1" height="3.5" fill="url(#hb28)"/>
<rect x="377.7" y="132" width="168.1" height="3.5" fill="url(#hb29)"/>
<rect x="377.7" y="135" width="168.1" height="3.5" fill="url(#hb30)"/>
<rect x="377.7" y="138" width="168.1" height="3.5" fill="url(#hb31)"/>
<rect x="377.7" y="141" width="168.1" height="3.5" fill="url(#hb32)"/>
<rect x="377.7" y="144" width="168.1" height="3.5" fill="url(#hb33)"/>
<rect x="377.7" y="147" width="168.1" height="3.5" fill="url(#hb34)"/>
<rect x="377.7" y="150" width="168.1" height="3.5" fill="url(#hb35)"/>
<rect x="377.7" y="153" width="168.1" height="3.5" fill="url(#hb36)"/>
<rect x="377.7" y="156" width="168.1" height="3.5" fill="url(#hb37)"/>
<rect x="377.7" y="159" width="168.1" height="3.5" fill="url(#hb38)"/>
<rect x="377.7" y="162" width="168.1" height="3.5" fill="url(#hb39)"/>
<rect x="377.7" y="165" width="168.1" height="3.5" fill="url(#hb40)"/>
<rect x="377.7" y="168" width="168.1" height="3.5" fill="url(#hb41)"/>
<rect x="377.7" y="171" width="168.1" height="3.5" fill="url(#hb42)"/>
<rect x="377.7" y="174" width="168.1" height="3.5" fill="url(#hb43)"/>
<rect x="377.7" y="177" width="168.1" height="3.5" fill="url(#hb44)"/>
<rect x="377.7" y="180" width="168.1" height="3.5" fill="url(#hb45)"/>
<rect x="377.7" y="183" width="168.1" height="3.5" fill="url(#hb46)"/>
<rect x="377.7" y="186" width="168.1" height="3.5" fill="url(#hb47)"/>
<rect x="377.7" y="189" width="168.1" height="3.5" fill="url(#hb48)"/>
<rect x="377.7" y="192" width="168.1" height="3.5" fill="url(#hb49)"/>
<rect x="377.7" y="195" width="168.1" height="3.5" fill="url(#hb50)"/>
<rect x="377.7" y="198" width="168.1" height="3.5" fill="url(#hb51)"/>
<rect x="377.7" y="201" width="168.1" height="3.5" fill="url(#hb52)"/>
<rect x="377.7" y="204" width="168.1" height="3.5" fill="url(#hb53)"/>
<rect x="377.7" y="207" width="168.1" height="3.5" fill="url(#hb54)"/>
<rect x="377.7" y="210" width="168.1" height="3.5" fill="url(#hb55)"/>
<rect x="377.7" y="213" width="168.1" height="3.5" fill="url(#hb56)"/>
<rect x="377.7" y="216" width="168.1" height="2.5" fill="url(#hb57)"/></g></g>
<rect x="377.70" y="39.20" width="168.10" height="8.40" fill="url(#cbhb)" stroke="#484848" stroke-width="0.9"/>
<line x1="417.30" y1="37.20" x2="417.30" y2="39.20" stroke="#484848" stroke-width="1.00"/>
<text x="417.30" y="32.60" font-size="10.25" text-anchor="middle" fill="#231f20">−2</text>
<line x1="466.50" y1="37.20" x2="466.50" y2="39.20" stroke="#484848" stroke-width="1.00"/>
<text x="466.50" y="32.60" font-size="10.25" text-anchor="middle" fill="#231f20">−1</text>
<line x1="515.70" y1="37.20" x2="515.70" y2="39.20" stroke="#484848" stroke-width="1.00"/>
<text x="515.70" y="32.60" font-size="10.25" text-anchor="middle" fill="#231f20">0</text>
<line x1="377.90" y1="53.30" x2="545.60" y2="53.30" stroke="#5b1aa8" stroke-width="1.30" stroke-dasharray="4.63 4.63" stroke-dashoffset="2.4"/>
<line x1="377.90" y1="104.40" x2="545.60" y2="104.40" stroke="#1b9e5e" stroke-width="1.30" stroke-dasharray="4.63 4.63" stroke-dashoffset="2.4"/>
<line x1="377.90" y1="146.50" x2="545.60" y2="146.50" stroke="#dc7a1e" stroke-width="1.30" stroke-dasharray="4.63 4.63" stroke-dashoffset="2.4"/>
<line x1="377.90" y1="195.10" x2="545.60" y2="195.10" stroke="#d42222" stroke-width="1.30" stroke-dasharray="4.63 4.63" stroke-dashoffset="2.4"/>
<text x="476.80" y="207.30" font-size="10.25" text-anchor="start" fill="#231f20"><tspan font-style="italic">λ</tspan><tspan font-size="7" dy="2.2">midIR</tspan><tspan dy="-2.2"> = 9 μm</tspan></text>
<line x1="377.70" y1="47.20" x2="377.70" y2="297.60" stroke="#484848" stroke-width="1.00"/>
<line x1="545.80" y1="47.20" x2="545.80" y2="297.60" stroke="#484848" stroke-width="1.00"/>
<line x1="377.20" y1="214.40" x2="629.80" y2="214.40" stroke="#484848" stroke-width="1.00"/>
<line x1="373.60" y1="77.30" x2="377.70" y2="77.30" stroke="#484848" stroke-width="1.00"/>
<line x1="545.80" y1="77.30" x2="549.60" y2="77.30" stroke="#484848" stroke-width="1.00"/>
<text x="369.20" y="80.90" font-size="10.25" text-anchor="end" fill="#231f20">1.8</text>
<line x1="373.60" y1="132.00" x2="377.70" y2="132.00" stroke="#484848" stroke-width="1.00"/>
<line x1="545.80" y1="132.00" x2="549.60" y2="132.00" stroke="#484848" stroke-width="1.00"/>
<text x="369.20" y="135.60" font-size="10.25" text-anchor="end" fill="#231f20">1.6</text>
<line x1="373.60" y1="186.70" x2="377.70" y2="186.70" stroke="#484848" stroke-width="1.00"/>
<line x1="545.80" y1="186.70" x2="549.60" y2="186.70" stroke="#484848" stroke-width="1.00"/>
<text x="369.20" y="190.30" font-size="10.25" text-anchor="end" fill="#231f20">1.4</text>
<text transform="translate(346.9,131.2) rotate(-90)" font-size="10.25" text-anchor="middle" fill="#231f20">Probe photon energy (eV)</text>
<line x1="377.20" y1="297.60" x2="546.30" y2="297.60" stroke="#484848" stroke-width="1.00"/>
<path d="M377.9,234.3 401.0,234.3 407.0,234.6 409.7,235.0 412.0,235.7 414.0,236.8 415.7,238.1 417.7,240.3 419.4,242.8 421.4,246.6 423.4,251.1 427.1,261.0 434.8,283.8 437.1,289.9 438.4,292.5 439.4,293.8 440.4,294.7 441.4,294.9 442.8,294.4 443.8,293.5 445.1,291.4 446.5,288.5 448.1,284.0 449.8,278.6 456.2,255.1 458.5,247.7 459.9,244.4 461.5,241.2 462.9,239.5 464.5,238.1 465.9,237.5 467.2,237.2 471.2,236.9 544.8,236.9" fill="none" stroke="#5b1aa8" stroke-width="1.60" stroke-linejoin="round" stroke-linecap="round"/>
<path d="M377.9,234.3 409.3,234.4 412.0,234.7 414.0,235.1 416.0,235.9 417.7,236.8 419.4,238.1 421.0,239.8 424.0,244.0 426.7,248.8 431.7,258.5 438.4,272.2 440.1,274.5 440.8,275.0 441.4,275.2 442.5,275.0 443.5,274.0 444.5,272.4 445.5,270.0 447.5,263.6 451.5,248.0 453.5,241.9 454.5,239.8 455.5,238.3 456.5,237.4 457.5,236.8 458.8,236.5 461.2,236.4 544.8,236.4" fill="none" stroke="#1b9e5e" stroke-width="1.60" stroke-linejoin="round" stroke-linecap="round"/>
<path d="M377.9,234.3 401.3,234.3 406.3,234.1 410.3,233.4 417.0,230.7 418.7,230.5 420.4,230.8 422.0,231.6 423.7,232.8 425.7,234.6 427.4,236.4 430.4,240.4 435.8,248.9 438.1,251.8 439.4,253.0 440.8,253.7 442.1,254.1 444.1,254.3 445.8,254.0 446.8,253.3 447.5,252.6 449.1,249.7 452.5,241.5 453.8,238.8 455.5,236.7 456.5,236.1 457.8,235.7 460.2,235.5 544.8,235.6" fill="none" stroke="#dc7a1e" stroke-width="1.60" stroke-linejoin="round" stroke-linecap="round"/>
<path d="M377.9,234.3 406.6,234.3 409.7,234.5 412.0,234.9 414.3,236.0 416.4,237.7 418.0,239.8 421.4,244.8 422.7,246.4 424.0,247.3 425.4,247.5 426.4,247.1 427.4,246.2 429.4,243.5 436.4,231.8 441.1,223.2 442.5,221.1 444.1,219.3 445.5,218.9 446.8,219.5 448.1,221.0 452.5,228.2 454.8,231.3 457.2,233.1 458.5,233.6 460.2,234.0 466.5,234.3 544.8,234.3" fill="none" stroke="#d42222" stroke-width="1.60" stroke-linejoin="round" stroke-linecap="round"/>
<line x1="374.40" y1="234.30" x2="377.70" y2="234.30" stroke="#484848" stroke-width="1.00"/>
<text x="368.20" y="237.90" font-size="10.25" text-anchor="end" fill="#231f20">0</text>
<line x1="374.40" y1="255.70" x2="377.70" y2="255.70" stroke="#484848" stroke-width="1.00"/>
<text x="368.20" y="259.30" font-size="10.25" text-anchor="end" fill="#231f20">−1</text>
<line x1="374.40" y1="277.10" x2="377.70" y2="277.10" stroke="#484848" stroke-width="1.00"/>
<text x="368.20" y="280.70" font-size="10.25" text-anchor="end" fill="#231f20">−2</text>
<line x1="406.80" y1="297.60" x2="406.80" y2="301.00" stroke="#484848" stroke-width="1.00"/>
<text x="406.80" y="314.30" font-size="10.25" text-anchor="middle" fill="#231f20">0</text>
<line x1="454.70" y1="297.60" x2="454.70" y2="301.00" stroke="#484848" stroke-width="1.00"/>
<text x="454.70" y="314.30" font-size="10.25" text-anchor="middle" fill="#231f20">500</text>
<line x1="502.60" y1="297.60" x2="502.60" y2="301.00" stroke="#484848" stroke-width="1.00"/>
<text x="502.60" y="314.30" font-size="10.25" text-anchor="middle" fill="#231f20">1,000</text>
<text x="462.80" y="328.60" font-size="10.25" text-anchor="middle" fill="#231f20">Mid-IR–visible delay (fs)</text>
<text transform="translate(348.3,260.5) rotate(-90)" font-size="10.25" text-anchor="middle" fill="#231f20"><tspan font-family="Liberation Sans">Δ</tspan><tspan font-style="italic" dx="0.6">T</tspan>/<tspan font-style="italic">T</tspan></text>
<line x1="549.90" y1="228.50" x2="567.70" y2="228.50" stroke="#5b1aa8" stroke-width="1.60"/>
<text x="572.80" y="231.90" font-size="10.25" text-anchor="start" fill="#231f20"><tspan font-style="italic">E</tspan><tspan font-size="7.4" dy="2.7">VIS</tspan><tspan dy="-2.7"> = 1.89 eV</tspan></text>
<line x1="549.90" y1="248.20" x2="567.70" y2="248.20" stroke="#1b9e5e" stroke-width="1.60"/>
<text x="572.80" y="251.60" font-size="10.25" text-anchor="start" fill="#231f20"><tspan font-style="italic">E</tspan><tspan font-size="7.4" dy="2.7">VIS</tspan><tspan dy="-2.7"> = 1.70 eV</tspan></text>
<line x1="549.90" y1="267.50" x2="567.70" y2="267.50" stroke="#dc7a1e" stroke-width="1.60"/>
<text x="572.80" y="270.90" font-size="10.25" text-anchor="start" fill="#231f20"><tspan font-style="italic">E</tspan><tspan font-size="7.4" dy="2.7">VIS</tspan><tspan dy="-2.7"> = 1.55 eV</tspan></text>
<line x1="549.90" y1="286.90" x2="567.70" y2="286.90" stroke="#d42222" stroke-width="1.60"/>
<text x="572.80" y="290.30" font-size="10.25" text-anchor="start" fill="#231f20"><tspan font-style="italic">E</tspan><tspan font-size="7.4" dy="2.7">VIS</tspan><tspan dy="-2.7"> = 1.37 eV</tspan></text>
<line x1="545.80" y1="47.20" x2="629.30" y2="47.20" stroke="#484848" stroke-width="1.00"/>
<line x1="629.30" y1="47.20" x2="629.30" y2="214.40" stroke="#484848" stroke-width="1.00"/>
<line x1="573.80" y1="43.20" x2="573.80" y2="47.20" stroke="#484848" stroke-width="1.00"/>
<text x="573.80" y="36.40" font-size="10.25" text-anchor="middle" fill="#231f20">0.5</text>
<line x1="620.30" y1="43.20" x2="620.30" y2="47.20" stroke="#484848" stroke-width="1.00"/>
<text x="620.30" y="36.40" font-size="10.25" text-anchor="middle" fill="#231f20">1.0</text>
<text x="596.00" y="21.80" font-size="10.25" text-anchor="middle" fill="#231f20">Absorption</text>
<path d="M560.0,47.4 561.0,52.4 562.4,57.4 564.2,61.9 566.2,65.8 569.1,70.3 572.5,74.7 576.4,79.2 585.7,89.2 590.2,94.8 592.2,98.2 593.5,101.0 594.2,103.7 594.5,106.5 594.3,108.2 593.4,110.4 591.9,112.7 589.9,114.9 585.3,118.8 572.9,128.3 569.7,131.1 567.0,133.9 565.2,136.1 563.3,138.9 562.1,141.1 561.0,143.9 560.1,147.3 559.5,150.6 558.9,159.0 558.7,214.2" fill="none" stroke="#1b9e5e" stroke-width="1.30" stroke-linejoin="round" stroke-linecap="round"/>
<path d="M612.6,47.4 613.0,50.7 613.2,53.5 613.1,56.3 612.7,59.7 612.2,62.5 611.2,65.8 609.9,69.2 608.4,72.5 605.3,78.1 601.3,84.2 583.7,107.6 576.5,118.2 573.0,124.4 570.1,130.0 567.7,135.5 565.5,141.7 563.7,147.8 562.2,154.5 561.1,161.8 560.2,169.6 559.6,177.9 559.1,187.4 558.8,214.2" fill="none" stroke="#5b1aa8" stroke-width="1.30" stroke-linejoin="round" stroke-linecap="round"/>
<path d="M559.1,105.4 559.7,109.9 560.5,113.2 561.6,116.6 563.2,119.9 565.1,122.7 567.7,126.1 577.6,136.1 580.4,139.4 581.8,141.7 582.5,143.4 583.0,145.0 583.1,146.7 582.9,148.4 582.3,150.0 581.3,151.7 580.1,153.4 577.0,156.7 567.6,165.7 564.8,169.0 562.6,172.4 560.8,176.3 559.8,180.2 559.1,185.2 558.8,191.9" fill="none" stroke="#dc7a1e" stroke-width="1.60" stroke-linejoin="round" stroke-linecap="round"/>
<line x1="558.30" y1="47.40" x2="558.30" y2="186.00" stroke="#a0a0a0" stroke-width="1.20" stroke-dasharray="3 1.5"/>
<line x1="558.30" y1="186.00" x2="558.30" y2="214.00" stroke="#8c8c8c" stroke-width="1.70"/>
<line x1="558.90" y1="48.00" x2="558.90" y2="213.00" stroke="#dc7a1e" stroke-width="1.10" stroke-dasharray="1.1 1.7"/>
<path d="M610.2,46.5h5.4M612.9,45.0v3M610.4,48.5h5.4M613.1,47.0v3M610.1,50.5h5.4M612.8,49.0v3M610.4,52.5h5.4M613.1,51.0v3M610.9,54.5h5.4M613.6,53.0v3M611.0,56.5h5.4M613.7,55.0v3M610.4,58.5h5.4M613.1,57.0v3M610.7,60.5h5.4M613.4,59.0v3M610.7,62.5h5.4M613.4,61.0v3M611.3,64.5h5.4M614.0,63.0v3M611.3,66.5h5.4M614.0,65.0v3M612.2,68.5h5.4M614.9,67.0v3M612.9,70.5h5.4M615.6,69.0v3M613.0,72.5h5.4M615.7,71.0v3M613.9,74.5h5.4M616.6,73.0v3M614.6,76.5h5.4M617.3,75.0v3M614.9,78.5h5.4M617.6,77.0v3M616.3,80.5h5.4M619.0,79.0v3M616.9,82.5h5.4M619.6,81.0v3M617.9,84.5h5.4M620.6,83.0v3M618.2,86.5h5.4M620.9,85.0v3M619.2,88.5h5.4M621.9,87.0v3M619.4,90.5h5.4M622.1,89.0v3M619.6,92.5h5.4M622.3,91.0v3M620.0,94.5h5.4M622.7,93.0v3M620.3,96.5h5.4M623.0,95.0v3M619.8,98.5h5.4M622.5,97.0v3M619.1,100.5h5.4M621.8,99.0v3M618.6,102.5h5.4M621.3,101.0v3M618.5,104.5h5.4M621.2,103.0v3M617.0,106.5h5.4M619.7,105.0v3M615.0,108.5h5.4M617.7,107.0v3M613.1,110.5h5.4M615.8,109.0v3M610.3,112.5h5.4M613.0,111.0v3M607.1,114.5h5.4M609.8,113.0v3M603.5,116.5h5.4M606.2,115.0v3M600.8,118.5h5.4M603.5,117.0v3M598.3,120.5h5.4M601.0,119.0v3M596.0,122.5h5.4M598.7,121.0v3M594.1,124.5h5.4M596.8,123.0v3M593.0,126.5h5.4M595.7,125.0v3M592.0,128.5h5.4M594.7,127.0v3M590.8,130.5h5.4M593.5,129.0v3M589.7,132.5h5.4M592.4,131.0v3M589.6,134.5h5.4M592.3,133.0v3M589.8,136.5h5.4M592.5,135.0v3M589.2,138.5h5.4M591.9,137.0v3M588.3,140.5h5.4M591.0,139.0v3M587.6,142.5h5.4M590.3,141.0v3M586.5,144.5h5.4M589.2,143.0v3M584.5,146.5h5.4M587.2,145.0v3M582.8,148.5h5.4M585.5,147.0v3M581.0,150.5h5.4M583.7,149.0v3M578.5,152.5h5.4M581.2,151.0v3M576.8,154.5h5.4M579.5,153.0v3M574.0,156.5h5.4M576.7,155.0v3M571.6,158.5h5.4M574.3,157.0v3M568.8,160.5h5.4M571.5,159.0v3M565.8,162.5h5.4M568.5,161.0v3M563.1,164.5h5.4M565.8,163.0v3M560.9,166.5h5.4M563.6,165.0v3M559.3,168.5h5.4M562.0,167.0v3M557.8,170.5h5.4M560.5,169.0v3M557.0,172.5h5.4M559.7,171.0v3M555.7,174.5h5.4M558.4,173.0v3M555.2,176.5h5.4M557.9,175.0v3M554.5,178.5h5.4M557.2,177.0v3M554.3,180.5h5.4M557.0,179.0v3M554.8,182.5h5.4M557.5,181.0v3M554.0,184.5h5.4M556.7,183.0v3M554.4,186.5h5.4M557.1,185.0v3M554.3,188.5h5.4M557.0,187.0v3M554.3,190.5h5.4M557.0,189.0v3M554.1,192.5h5.4M556.8,191.0v3M554.3,194.5h5.4M557.0,193.0v3" stroke="#1f3cf5" stroke-width="1.05" fill="none"/>
<path d="M612.6,47.4 613.1,57.6 613.9,65.5 616.2,74.9 620.2,84.4 622.2,92.3 622.2,98.6 620.2,104.9 616.2,109.6 609.9,114.3 602.1,119.1 597.3,123.8 595.7,126.3 592.5,132.6 591.8,138.9 590.2,143.6 586.2,148.4 579.9,154.7 567.3,164.1 563.4,168.8 560.7,175.2 559.7,183.0 559.4,190.5" fill="none" stroke="#000" stroke-width="2.40" stroke-linejoin="round" stroke-linecap="round"/>
<text x="561.00" y="207.60" font-size="10.25" text-anchor="start" fill="#9a9a9a">BG</text>
<line x1="592.50" y1="202.60" x2="608.30" y2="202.60" stroke="#000" stroke-width="2.60"/>
<text x="612.00" y="207.40" font-size="10.25" text-anchor="start" fill="#231f20"><tspan font-style="italic">Γ</tspan><tspan font-size="7" dx="0.3" dy="-6.4">0</tspan><tspan font-size="7" dx="-4" dy="7.6">fit</tspan></text>
<text x="592.30" y="60.60" font-size="10.25" text-anchor="start" fill="#5b1aa8"><tspan font-style="italic">d</tspan><tspan font-size="7" dy="2.2" font-style="italic">z</tspan><tspan font-size="5" dy="-3.5">2</tspan></text>
<text x="595.00" y="100.40" font-size="10.25" text-anchor="start" fill="#1b9e5e"><tspan font-style="italic">d</tspan><tspan font-size="7" dy="2.4" font-style="italic">xz,yz</tspan></text>
<text x="565.60" y="148.50" font-size="10.25" text-anchor="start" fill="#dc7a1e"><tspan font-style="italic">d</tspan><tspan font-size="7" dy="2.4" font-style="italic">xy</tspan></text>
<text x="343.30" y="351.70" font-size="12.30" text-anchor="start" fill="#000" font-weight="bold" stroke="#000" stroke-width="0.25">d</text>
<text x="415.40" y="356.00" font-size="10.25" text-anchor="middle" fill="#231f20"><tspan font-family="Liberation Sans">Δ</tspan><tspan font-style="italic" dx="0.6">T</tspan>/<tspan font-style="italic">T</tspan> (×10<tspan dy="-4.9" font-size="7.3">−3</tspan><tspan dy="4.9">)</tspan></text>
<g clip-path="url(#cliphd)"><g filter="url(#blhd)"><rect x="362.8" y="384" width="105.6" height="3.5" fill="url(#hd0)"/>
<rect x="362.8" y="387" width="105.6" height="3.5" fill="url(#hd1)"/>
<rect x="362.8" y="390" width="105.6" height="3.5" fill="url(#hd2)"/>
<rect x="362.8" y="393" width="105.6" height="3.5" fill="url(#hd3)"/>
<rect x="362.8" y="396" width="105.6" height="3.5" fill="url(#hd4)"/>
<rect x="362.8" y="399" width="105.6" height="3.5" fill="url(#hd5)"/>
<rect x="362.8" y="402" width="105.6" height="3.5" fill="url(#hd6)"/>
<rect x="362.8" y="405" width="105.6" height="3.5" fill="url(#hd7)"/>
<rect x="362.8" y="408" width="105.6" height="3.5" fill="url(#hd8)"/>
<rect x="362.8" y="411" width="105.6" height="3.5" fill="url(#hd9)"/>
<rect x="362.8" y="414" width="105.6" height="3.5" fill="url(#hd10)"/>
<rect x="362.8" y="417" width="105.6" height="3.5" fill="url(#hd11)"/>
<rect x="362.8" y="420" width="105.6" height="3.5" fill="url(#hd12)"/>
<rect x="362.8" y="423" width="105.6" height="3.5" fill="url(#hd13)"/>
<rect x="362.8" y="426" width="105.6" height="3.5" fill="url(#hd14)"/>
<rect x="362.8" y="429" width="105.6" height="3.5" fill="url(#hd15)"/>
<rect x="362.8" y="432" width="105.6" height="3.5" fill="url(#hd16)"/>
<rect x="362.8" y="435" width="105.6" height="3.5" fill="url(#hd17)"/>
<rect x="362.8" y="438" width="105.6" height="3.5" fill="url(#hd18)"/>
<rect x="362.8" y="441" width="105.6" height="3.5" fill="url(#hd19)"/>
<rect x="362.8" y="444" width="105.6" height="3.5" fill="url(#hd20)"/>
<rect x="362.8" y="447" width="105.6" height="3.5" fill="url(#hd21)"/>
<rect x="362.8" y="450" width="105.6" height="3.5" fill="url(#hd22)"/>
<rect x="362.8" y="453" width="105.6" height="3.5" fill="url(#hd23)"/>
<rect x="362.8" y="456" width="105.6" height="3.5" fill="url(#hd24)"/>
<rect x="362.8" y="459" width="105.6" height="3.5" fill="url(#hd25)"/>
<rect x="362.8" y="462" width="105.6" height="3.5" fill="url(#hd26)"/>
<rect x="362.8" y="465" width="105.6" height="3.5" fill="url(#hd27)"/>
<rect x="362.8" y="468" width="105.6" height="3.5" fill="url(#hd28)"/>
<rect x="362.8" y="471" width="105.6" height="3.5" fill="url(#hd29)"/>
<rect x="362.8" y="474" width="105.6" height="3.5" fill="url(#hd30)"/>
<rect x="362.8" y="477" width="105.6" height="3.5" fill="url(#hd31)"/>
<rect x="362.8" y="480" width="105.6" height="3.5" fill="url(#hd32)"/>
<rect x="362.8" y="483" width="105.6" height="3.5" fill="url(#hd33)"/>
<rect x="362.8" y="486" width="105.6" height="3.5" fill="url(#hd34)"/>
<rect x="362.8" y="489" width="105.6" height="3.5" fill="url(#hd35)"/>
<rect x="362.8" y="492" width="105.6" height="3.5" fill="url(#hd36)"/></g></g>
<rect x="362.80" y="378.90" width="105.60" height="8.30" fill="url(#cbhd)" stroke="#484848" stroke-width="0.9"/>
<line x1="387.60" y1="376.90" x2="387.60" y2="378.90" stroke="#484848" stroke-width="1.00"/>
<text x="387.60" y="372.80" font-size="10.25" text-anchor="middle" fill="#231f20">−2</text>
<line x1="418.40" y1="376.90" x2="418.40" y2="378.90" stroke="#484848" stroke-width="1.00"/>
<text x="418.40" y="372.80" font-size="10.25" text-anchor="middle" fill="#231f20">−1</text>
<line x1="449.20" y1="376.90" x2="449.20" y2="378.90" stroke="#484848" stroke-width="1.00"/>
<text x="449.20" y="372.80" font-size="10.25" text-anchor="middle" fill="#231f20">0</text>
<line x1="362.80" y1="387.30" x2="362.80" y2="491.80" stroke="#484848" stroke-width="1.00"/>
<line x1="362.30" y1="491.60" x2="637.10" y2="491.60" stroke="#484848" stroke-width="1.00"/>
<line x1="468.40" y1="378.30" x2="468.40" y2="491.80" stroke="#484848" stroke-width="1.00"/>
<line x1="468.40" y1="378.30" x2="636.60" y2="378.30" stroke="#484848" stroke-width="1.00"/>
<line x1="636.60" y1="378.30" x2="636.60" y2="491.80" stroke="#484848" stroke-width="1.00"/>
<text x="459.40" y="405.40" font-size="10.25" text-anchor="end" fill="#231f20">Fitted</text>
<text x="459.40" y="417.60" font-size="10.25" text-anchor="end" fill="#231f20">map</text>
<text x="414.20" y="505.20" font-size="10.25" text-anchor="middle" fill="#231f20">Delay</text>
<text transform="translate(353.0,437.8) rotate(-90)" font-size="10.25" text-anchor="middle" fill="#231f20">Energy</text>
<path d="M468.2,400.2 499.0,400.2 504.4,400.4 506.7,400.7 508.4,401.2 510.1,402.3 511.4,403.6 513.1,406.2 514.5,409.1 516.2,414.2 517.5,419.4 519.9,430.8 525.6,463.0 527.0,469.3 528.3,474.4 529.7,478.3 531.4,481.3 532.7,482.4 534.7,482.8 536.1,482.4 537.4,481.0 538.8,478.3 539.8,475.4 541.2,470.4 542.5,464.3 547.9,434.8 550.6,422.3 552.0,417.5 553.6,413.0 555.3,409.9 557.4,407.6 558.7,406.8 560.1,406.2 564.1,405.6 581.0,404.9 616.4,403.1 636.7,402.6" fill="none" stroke="#5b1aa8" stroke-width="1.60" stroke-linejoin="round" stroke-linecap="round"/>
<path d="M468.2,400.2 501.7,400.3 509.4,400.7 522.9,401.5 529.0,401.7 535.4,401.5 550.6,400.5 559.7,400.3 636.7,400.2" fill="none" stroke="#dc7a1e" stroke-width="1.40" stroke-linejoin="round" stroke-linecap="round" stroke-dasharray="3.5 1.5 1 1.5"/>
<path d="M468.2,400.2 495.2,400.2 500.6,399.9 503.0,399.4 505.0,398.6 511.8,394.1 513.1,393.7 514.5,393.7 516.2,394.3 518.2,395.7 528.7,405.8 531.4,408.1 533.7,409.5 535.8,409.9 537.4,409.5 539.1,408.6 544.9,403.9 547.6,402.2 550.6,401.0 554.0,400.4 561.7,400.2 636.7,400.2" fill="none" stroke="#dc7a1e" stroke-width="1.50" stroke-linejoin="round" stroke-linecap="round" stroke-dasharray="1.3 1"/>
<path d="M468.2,400.2 493.6,400.2 496.6,400.0 499.0,399.6 501.3,398.6 503.3,397.0 505.0,395.1 508.4,390.6 509.8,389.2 510.8,388.5 511.4,388.3 512.8,388.5 513.8,389.2 514.8,390.3 517.5,394.6 522.9,405.3 528.7,417.8 530.7,421.7 532.7,424.5 533.7,425.3 534.7,425.6 535.4,425.5 536.4,424.9 537.4,423.9 538.5,422.5 540.1,419.5 544.9,409.8 546.6,406.9 547.9,405.1 549.3,403.6 550.9,402.3 552.6,401.4 554.3,400.9 557.7,400.4 562.8,400.2 636.7,400.2" fill="none" stroke="#1b9e5e" stroke-width="1.60" stroke-linejoin="round" stroke-linecap="round"/>
<path d="M468.2,400.2 495.9,400.2 499.0,399.9 501.3,399.3 502.7,398.6 503.7,397.8 505.7,395.4 507.4,392.4 510.8,385.5 512.1,383.3 513.5,382.0 514.1,381.8 514.8,381.9 515.5,382.4 516.5,383.6 518.5,387.9 527.7,414.4 531.4,424.0 532.7,426.7 533.7,428.3 535.1,429.5 536.1,429.8 536.8,429.7 537.8,429.0 538.8,427.8 539.8,426.1 541.5,422.5 546.2,411.2 548.9,406.2 550.3,404.5 552.0,402.8 553.6,401.7 555.3,401.0 558.7,400.4 563.8,400.2 636.7,400.2" fill="none" stroke="#dc7a1e" stroke-width="1.60" stroke-linejoin="round" stroke-linecap="round"/>
<path d="M468.2,400.2 497.3,400.2 500.3,400.4 502.7,401.0 504.7,402.2 506.7,404.3 508.7,407.5 513.1,416.1 514.5,417.7 515.2,418.2 515.8,418.3 516.5,418.2 517.2,417.7 518.9,415.5 533.1,385.7 534.7,383.1 535.8,382.3 536.4,382.1 537.1,382.2 537.8,382.6 539.1,384.1 540.5,386.5 543.9,393.2 546.2,396.8 547.2,397.8 548.6,398.8 549.9,399.5 551.6,399.9 558.0,400.2 636.7,400.2" fill="none" stroke="#d42222" stroke-width="1.60" stroke-linejoin="round" stroke-linecap="round"/>
<line x1="636.60" y1="400.20" x2="639.80" y2="400.20" stroke="#484848" stroke-width="1.00"/>
<text x="645.30" y="403.80" font-size="10.25" text-anchor="start" fill="#231f20">0</text>
<line x1="636.60" y1="430.40" x2="639.80" y2="430.40" stroke="#484848" stroke-width="1.00"/>
<text x="645.30" y="434.00" font-size="10.25" text-anchor="start" fill="#231f20">−0.5</text>
<line x1="636.60" y1="460.60" x2="639.80" y2="460.60" stroke="#484848" stroke-width="1.00"/>
<text x="645.30" y="464.20" font-size="10.25" text-anchor="start" fill="#231f20">−1.0</text>
<line x1="497.10" y1="491.60" x2="497.10" y2="495.00" stroke="#484848" stroke-width="1.00"/>
<text x="497.10" y="508.40" font-size="10.25" text-anchor="middle" fill="#231f20">0</text>
<line x1="545.20" y1="491.60" x2="545.20" y2="495.00" stroke="#484848" stroke-width="1.00"/>
<text x="545.20" y="508.40" font-size="10.25" text-anchor="middle" fill="#231f20">500</text>
<line x1="593.30" y1="491.60" x2="593.30" y2="495.00" stroke="#484848" stroke-width="1.00"/>
<text x="593.30" y="508.40" font-size="10.25" text-anchor="middle" fill="#231f20">1,000</text>
<text x="552.60" y="522.40" font-size="10.25" text-anchor="middle" fill="#231f20">Mid-IR–visible delay (fs)</text>
<text transform="translate(675.0,436.0) rotate(90)" font-size="10.25" text-anchor="middle" fill="#231f20">−Δ<tspan font-style="italic">p</tspan> (×10<tspan dy="-4" font-size="7">3</tspan><tspan dy="4">)</tspan></text>
<line x1="550.90" y1="431.80" x2="568.40" y2="431.80" stroke="#dc7a1e" stroke-width="1.60"/>
<text x="573.20" y="435.20" font-size="10.25" text-anchor="start" fill="#231f20"><tspan font-style="italic">A</tspan><tspan font-size="7" dy="2.4">1</tspan></text>
<line x1="590.70" y1="431.80" x2="607.80" y2="431.80" stroke="#dc7a1e" stroke-width="1.40" stroke-dasharray="3.5 1.5 1 1.5"/>
<text x="613.50" y="435.20" font-size="10.25" text-anchor="start" fill="#231f20"><tspan font-style="italic">E</tspan><tspan font-size="7" dy="2.4">1</tspan></text>
<line x1="550.90" y1="451.10" x2="568.40" y2="451.10" stroke="#1b9e5e" stroke-width="1.60"/>
<text x="573.20" y="454.50" font-size="10.25" text-anchor="start" fill="#231f20"><tspan font-style="italic">A</tspan><tspan font-size="7" dy="2.4">2</tspan></text>
<line x1="590.70" y1="451.10" x2="607.80" y2="451.10" stroke="#dc7a1e" stroke-width="1.40" stroke-dasharray="1.3 1"/>
<text x="613.50" y="454.50" font-size="10.25" text-anchor="start" fill="#231f20"><tspan font-style="italic">σ</tspan><tspan font-size="7" dy="2.4">1</tspan></text>
<line x1="550.90" y1="470.30" x2="568.40" y2="470.30" stroke="#5b1aa8" stroke-width="1.60"/>
<text x="573.20" y="473.70" font-size="10.25" text-anchor="start" fill="#231f20"><tspan font-style="italic">A</tspan><tspan font-size="7" dy="2.4">3</tspan></text>
<line x1="590.70" y1="470.30" x2="607.80" y2="470.30" stroke="#d42222" stroke-width="1.40"/>
<text x="612.70" y="473.70" font-size="10.25" text-anchor="start" fill="#231f20">BG</text>
</svg>
</body></html>
